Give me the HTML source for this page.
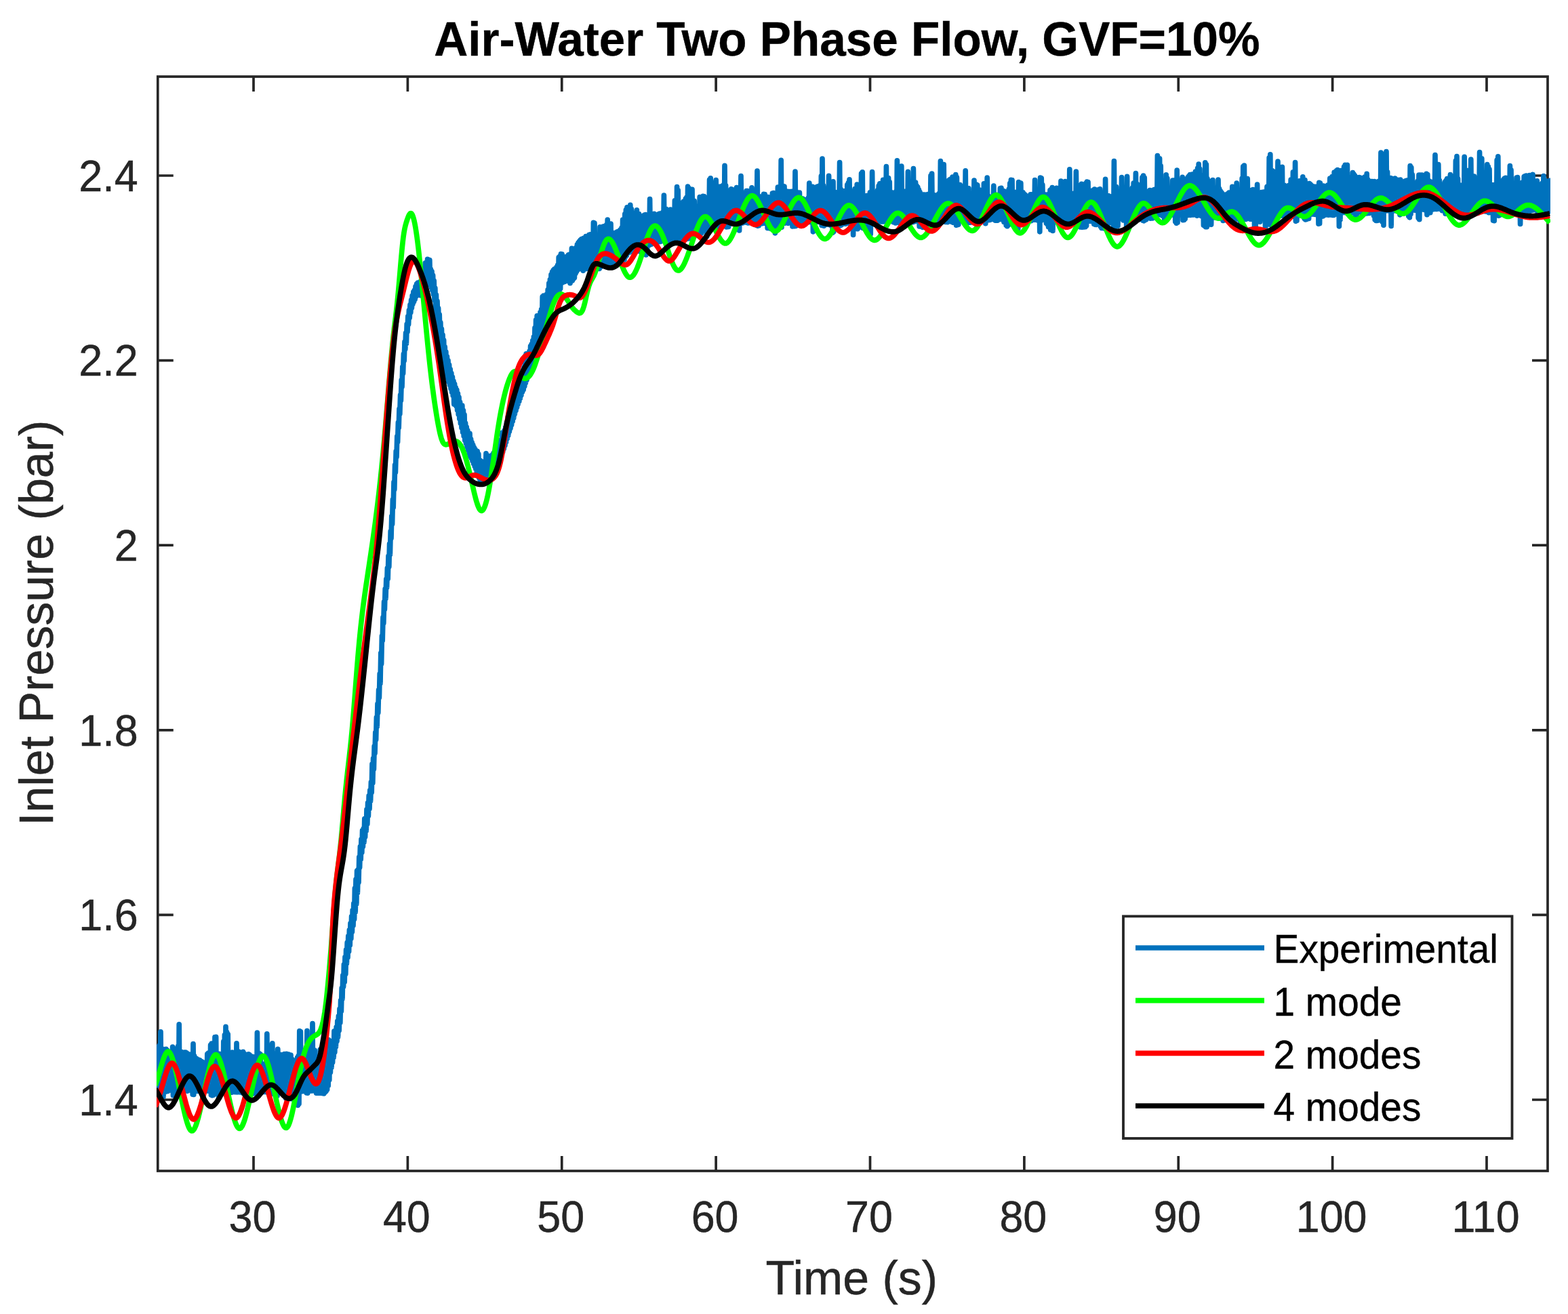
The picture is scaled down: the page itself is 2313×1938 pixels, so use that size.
<!DOCTYPE html>
<html><head><meta charset="utf-8"><title>Air-Water Two Phase Flow, GVF=10%</title>
<style>html,body{margin:0;padding:0;background:#fff;}svg{display:block;}text{font-family:"Liberation Sans",Arial,Helvetica,sans-serif;}.t{fill:#262626;stroke:#262626;stroke-width:0.5px;}.k{fill:#000;stroke:#000;stroke-width:0.4px;}</style>
</head><body>
<svg width="2313" height="1938" viewBox="0 0 2313 1938">
<rect width="2313" height="1938" fill="#fff"/>
<defs><clipPath id="ax"><rect x="231" y="109" width="2056" height="1622"/></clipPath></defs>
<rect x="232.75" y="113.00" width="2050.25" height="1614.00" fill="none" stroke="#262626" stroke-width="3.70"/>
<path d="M374.00 1727.00V1705.00M374.00 113.00V135.00M601.38 1727.00V1705.00M601.38 113.00V135.00M828.75 1727.00V1705.00M828.75 113.00V135.00M1056.12 1727.00V1705.00M1056.12 113.00V135.00M1283.50 1727.00V1705.00M1283.50 113.00V135.00M1510.88 1727.00V1705.00M1510.88 113.00V135.00M1738.25 1727.00V1705.00M1738.25 113.00V135.00M1965.62 1727.00V1705.00M1965.62 113.00V135.00M2193.00 1727.00V1705.00M2193.00 113.00V135.00M232.75 1622.00H255.75M2283.00 1622.00H2260.00M232.75 1349.40H255.75M2283.00 1349.40H2260.00M232.75 1076.80H255.75M2283.00 1076.80H2260.00M232.75 804.20H255.75M2283.00 804.20H2260.00M232.75 531.60H255.75M2283.00 531.60H2260.00M232.75 259.00H255.75M2283.00 259.00H2260.00" stroke="#262626" stroke-width="3.70" fill="none"/>
<g clip-path="url(#ax)">
<path d="M229.0 1565.6 L229.8 1610.2 L230.6 1565.0 L231.4 1610.0 L232.2 1564.1 L233.0 1609.7 L233.8 1543.8 L234.6 1617.7 L235.4 1541.5 L236.2 1617.3 L237.0 1521.9 L237.8 1617.6 L238.6 1559.7 L239.4 1615.7 L240.2 1558.7 L241.0 1617.4 L241.8 1547.6 L242.6 1610.0 L243.4 1551.2 L244.2 1610.1 L245.0 1547.4 L245.8 1609.8 L246.6 1549.1 L247.4 1609.5 L248.2 1563.4 L249.0 1607.8 L249.8 1565.8 L250.6 1607.9 L251.4 1568.5 L252.2 1607.7 L253.0 1558.3 L253.8 1607.0 L254.6 1544.1 L255.4 1615.6 L256.2 1567.5 L257.0 1613.7 L257.8 1565.9 L258.6 1615.5 L259.4 1567.0 L260.2 1614.4 L261.0 1546.4 L261.8 1614.1 L262.6 1543.2 L263.4 1613.9 L264.2 1510.9 L265.0 1615.2 L265.8 1551.0 L266.6 1615.5 L267.4 1551.3 L268.2 1614.9 L269.0 1560.0 L269.8 1607.3 L270.6 1554.7 L271.4 1608.3 L272.2 1552.0 L273.0 1608.4 L273.8 1552.2 L274.6 1608.1 L275.4 1553.2 L276.2 1609.1 L277.0 1556.8 L277.8 1608.0 L278.6 1554.9 L279.4 1607.9 L280.2 1556.2 L281.0 1608.0 L281.8 1555.3 L282.6 1608.0 L283.4 1555.7 L284.2 1614.1 L285.0 1539.6 L285.8 1614.5 L286.6 1557.3 L287.4 1608.1 L288.2 1560.4 L289.0 1609.5 L289.8 1561.3 L290.6 1609.2 L291.4 1562.5 L292.2 1609.2 L293.0 1563.1 L293.8 1607.3 L294.6 1563.6 L295.4 1608.9 L296.2 1565.0 L297.0 1608.6 L297.8 1565.8 L298.6 1608.7 L299.4 1566.8 L300.2 1609.0 L301.0 1570.2 L301.8 1608.6 L302.6 1571.7 L303.4 1608.6 L304.2 1571.7 L305.0 1608.9 L305.8 1554.5 L306.6 1609.0 L307.4 1553.2 L308.2 1609.1 L309.0 1566.2 L309.8 1609.0 L310.6 1541.3 L311.4 1614.9 L312.2 1539.2 L313.0 1615.6 L313.8 1551.9 L314.6 1615.2 L315.4 1555.2 L316.2 1613.7 L317.0 1529.6 L317.8 1608.1 L318.6 1529.3 L319.4 1608.4 L320.2 1562.7 L321.0 1608.3 L321.8 1561.6 L322.6 1619.1 L323.4 1554.4 L324.2 1609.0 L325.0 1555.6 L325.8 1609.0 L326.6 1556.6 L327.4 1609.4 L328.2 1556.9 L329.0 1609.0 L329.8 1536.1 L330.6 1608.6 L331.4 1526.6 L332.2 1608.5 L333.0 1514.4 L333.8 1608.3 L334.6 1522.4 L335.4 1609.7 L336.2 1525.3 L337.0 1611.3 L337.8 1567.4 L338.6 1611.4 L339.4 1569.0 L340.2 1611.1 L341.0 1570.0 L341.8 1611.2 L342.6 1552.0 L343.4 1609.5 L344.2 1561.3 L345.0 1609.5 L345.8 1559.8 L346.6 1610.6 L347.4 1558.6 L348.2 1610.4 L349.0 1538.9 L349.8 1610.8 L350.6 1554.5 L351.4 1610.6 L352.2 1551.0 L353.0 1610.1 L353.8 1552.2 L354.6 1610.9 L355.4 1553.5 L356.2 1611.2 L357.0 1553.0 L357.8 1611.9 L358.6 1551.4 L359.4 1608.4 L360.2 1553.8 L361.0 1608.2 L361.8 1562.1 L362.6 1608.5 L363.4 1562.9 L364.2 1606.9 L365.0 1561.9 L365.8 1606.9 L366.6 1554.9 L367.4 1607.0 L368.2 1555.9 L369.0 1607.0 L369.8 1557.9 L370.6 1607.6 L371.4 1558.2 L372.2 1607.6 L373.0 1558.5 L373.8 1613.0 L374.6 1559.7 L375.4 1611.5 L376.2 1560.0 L377.0 1612.5 L377.8 1567.1 L378.6 1611.6 L379.4 1523.1 L380.2 1613.9 L381.0 1561.8 L381.8 1614.0 L382.6 1553.9 L383.4 1606.7 L384.2 1555.1 L385.0 1606.7 L385.8 1570.0 L386.6 1606.6 L387.4 1569.8 L388.2 1609.5 L389.0 1569.3 L389.8 1610.5 L390.6 1569.0 L391.4 1610.3 L392.2 1568.1 L393.0 1610.1 L393.8 1524.9 L394.6 1611.1 L395.4 1566.1 L396.2 1610.1 L397.0 1565.5 L397.8 1609.9 L398.6 1543.8 L399.4 1609.8 L400.2 1541.4 L401.0 1612.4 L401.8 1538.8 L402.6 1613.3 L403.4 1564.7 L404.2 1613.1 L405.0 1564.3 L405.8 1612.1 L406.6 1563.4 L407.4 1614.8 L408.2 1553.3 L409.0 1616.2 L409.8 1547.3 L410.6 1607.6 L411.4 1557.1 L412.2 1608.0 L413.0 1557.7 L413.8 1607.8 L414.6 1555.7 L415.4 1607.8 L416.2 1556.7 L417.0 1613.2 L417.8 1555.5 L418.6 1613.5 L419.4 1554.6 L420.2 1613.2 L421.0 1555.9 L421.8 1619.9 L422.6 1554.3 L423.4 1620.2 L424.2 1555.5 L425.0 1609.4 L425.8 1555.1 L426.6 1609.0 L427.4 1555.9 L428.2 1608.9 L429.0 1556.0 L429.8 1620.6 L430.6 1562.0 L431.4 1619.4 L432.2 1563.9 L433.0 1618.1 L433.8 1565.7 L434.6 1606.3 L435.4 1566.0 L436.2 1606.3 L437.0 1565.5 L437.8 1606.3 L438.6 1559.9 L439.4 1630.1 L440.2 1557.0 L441.0 1628.0 L441.8 1520.7 L442.6 1609.4 L443.4 1521.5 L444.2 1609.3 L445.0 1553.0 L445.8 1609.7 L446.6 1552.3 L447.4 1609.1 L448.2 1550.2 L449.0 1608.8 L449.8 1549.1 L450.6 1608.6 L451.4 1552.0 L452.2 1612.0 L453.0 1520.4 L453.8 1612.2 L454.6 1554.6 L455.4 1606.9 L456.2 1553.9 L457.0 1608.9 L457.8 1548.1 L458.6 1609.0 L459.4 1552.8 L460.2 1609.0 L461.0 1509.6 L461.8 1608.7 L462.6 1551.2 L463.4 1608.7 L464.2 1549.0 L465.0 1608.7 L465.8 1558.1 L466.6 1612.2 L467.4 1558.5 L468.2 1612.2 L469.0 1558.7 L469.8 1607.0 L470.6 1558.3 L471.4 1612.2 L472.2 1548.0 L473.0 1611.7 L473.8 1549.9 L474.6 1612.2 L475.4 1551.7 L476.2 1612.6 L477.0 1553.1 L477.8 1612.9 L478.6 1522.9 L479.4 1610.9 L480.2 1528.8 L481.0 1609.5 L481.8 1547.2 L482.6 1607.0 L483.4 1550.9 L484.2 1601.3 L485.0 1533.8 L485.8 1592.8 L486.6 1535.3 L487.4 1581.6 L488.2 1550.3 L489.0 1574.4 L489.8 1545.3 L490.6 1566.8 L491.4 1538.9 L492.2 1559.5 L493.0 1520.9 L493.8 1552.0 L494.6 1522.9 L495.4 1544.0 L496.2 1514.9 L497.0 1535.6 L497.8 1506.1 L498.6 1529.5 L499.4 1498.6 L500.2 1519.8 L501.0 1488.0 L501.8 1508.5 L502.6 1475.7 L503.4 1491.3 L504.2 1457.4 L505.0 1473.2 L505.8 1438.7 L506.6 1455.3 L507.4 1422.6 L508.2 1448.5 L509.0 1411.7 L509.8 1436.7 L510.6 1400.8 L511.4 1420.9 L512.2 1390.2 L513.0 1412.1 L513.8 1380.6 L514.6 1403.3 L515.4 1371.5 L516.2 1394.1 L517.0 1361.8 L517.8 1384.4 L518.6 1351.6 L519.4 1374.3 L520.2 1342.7 L521.0 1365.1 L521.8 1332.6 L522.6 1355.8 L523.4 1310.1 L524.2 1345.2 L525.0 1296.9 L525.8 1333.2 L526.6 1284.3 L527.4 1316.9 L528.2 1282.7 L529.0 1301.5 L529.8 1264.0 L530.6 1279.5 L531.4 1248.5 L532.2 1267.3 L533.0 1237.8 L533.8 1257.4 L534.6 1224.9 L535.4 1248.6 L536.2 1222.2 L537.0 1242.2 L537.8 1207.6 L538.6 1234.3 L539.4 1206.8 L540.2 1225.4 L541.0 1193.9 L541.8 1215.3 L542.6 1184.1 L543.4 1203.3 L544.2 1173.7 L545.0 1192.8 L545.8 1165.7 L546.6 1181.4 L547.4 1153.6 L548.2 1168.6 L549.0 1126.9 L549.8 1154.9 L550.6 1118.5 L551.4 1134.3 L552.2 1100.7 L553.0 1110.9 L553.8 1080.3 L554.6 1091.0 L555.4 1058.2 L556.2 1071.7 L557.0 1038.0 L557.8 1051.1 L558.6 1017.7 L559.4 1028.9 L560.2 993.9 L561.0 1007.9 L561.8 963.0 L562.6 979.2 L563.4 938.1 L564.2 944.9 L565.0 910.5 L565.8 919.1 L566.6 887.5 L567.4 898.7 L568.2 868.5 L569.0 882.7 L569.8 854.0 L570.6 866.4 L571.4 837.9 L572.2 853.6 L573.0 820.2 L573.8 836.0 L574.6 802.2 L575.4 817.9 L576.2 783.6 L577.0 794.0 L577.8 761.4 L578.6 772.8 L579.4 736.8 L580.2 748.4 L581.0 711.1 L581.8 722.0 L582.6 685.8 L583.4 696.7 L584.2 665.6 L585.0 673.9 L585.8 643.6 L586.6 651.9 L587.4 623.2 L588.2 630.9 L589.0 603.0 L589.8 610.6 L590.6 582.6 L591.4 590.6 L592.2 560.6 L593.0 570.5 L593.8 541.1 L594.6 550.6 L595.4 522.0 L596.2 532.0 L597.0 504.2 L597.8 514.8 L598.6 491.1 L599.4 506.9 L600.2 478.0 L601.0 489.3 L601.8 466.7 L602.6 478.4 L603.4 457.7 L604.2 468.7 L605.0 449.5 L605.8 460.9 L606.6 442.7 L607.4 454.1 L608.2 436.0 L609.0 448.4 L609.8 430.7 L610.6 444.8 L611.4 428.0 L612.2 441.3 L613.0 422.7 L613.8 437.1 L614.6 418.9 L615.4 433.1 L616.2 417.2 L617.0 432.5 L617.8 417.6 L618.6 434.0 L619.4 415.8 L620.2 435.7 L621.0 418.7 L621.8 435.2 L622.6 414.6 L623.4 427.8 L624.2 405.0 L625.0 418.4 L625.8 395.3 L626.6 412.6 L627.4 387.9 L628.2 414.6 L629.0 388.7 L629.8 416.0 L630.6 382.3 L631.4 414.8 L632.2 391.7 L633.0 417.4 L633.8 383.5 L634.6 420.5 L635.4 397.0 L636.2 424.0 L637.0 400.3 L637.8 428.2 L638.6 406.0 L639.4 434.0 L640.2 414.0 L641.0 443.1 L641.8 424.9 L642.6 455.7 L643.4 434.9 L644.2 467.1 L645.0 444.1 L645.8 477.8 L646.6 454.6 L647.4 485.0 L648.2 463.8 L649.0 496.4 L649.8 475.6 L650.6 506.6 L651.4 485.2 L652.2 516.2 L653.0 493.9 L653.8 525.4 L654.6 501.5 L655.4 533.7 L656.2 511.5 L657.0 548.4 L657.8 518.8 L658.6 553.9 L659.4 525.8 L660.2 557.3 L661.0 531.7 L661.8 563.4 L662.6 538.0 L663.4 567.6 L664.2 544.6 L665.0 573.1 L665.8 550.3 L666.6 578.4 L667.4 556.0 L668.2 583.5 L669.0 562.1 L669.8 596.1 L670.6 566.4 L671.4 593.9 L672.2 571.7 L673.0 599.0 L673.8 575.2 L674.6 604.9 L675.4 580.4 L676.2 611.1 L677.0 585.8 L677.8 617.7 L678.6 593.1 L679.4 624.4 L680.2 599.7 L681.0 631.0 L681.8 598.0 L682.6 637.3 L683.4 605.3 L684.2 643.1 L685.0 611.6 L685.8 649.4 L686.6 624.2 L687.4 654.0 L688.2 629.9 L689.0 658.9 L689.8 634.9 L690.6 663.6 L691.4 639.7 L692.2 668.9 L693.0 639.4 L693.8 673.4 L694.6 647.6 L695.4 676.0 L696.2 652.6 L697.0 680.0 L697.8 656.3 L698.6 683.8 L699.4 660.2 L700.2 687.6 L701.0 662.5 L701.8 691.3 L702.6 666.2 L703.4 697.8 L704.2 665.5 L705.0 700.6 L705.8 669.6 L706.6 704.7 L707.4 678.6 L708.2 709.5 L709.0 679.7 L709.8 712.6 L710.6 681.4 L711.4 713.6 L712.2 681.0 L713.0 713.4 L713.8 683.7 L714.6 711.0 L715.4 682.6 L716.2 710.3 L717.0 668.9 L717.8 709.2 L718.6 680.0 L719.4 708.2 L720.2 674.2 L721.0 706.9 L721.8 672.6 L722.6 705.6 L723.4 673.7 L724.2 703.8 L725.0 673.1 L725.8 702.2 L726.6 670.5 L727.4 700.0 L728.2 668.2 L729.0 697.3 L729.8 666.6 L730.6 694.2 L731.4 660.6 L732.2 690.7 L733.0 649.3 L733.8 690.6 L734.6 653.0 L735.4 686.5 L736.2 656.2 L737.0 682.1 L737.8 652.5 L738.6 674.6 L739.4 648.5 L740.2 670.4 L741.0 638.0 L741.8 666.2 L742.6 639.7 L743.4 661.6 L744.2 634.9 L745.0 656.9 L745.8 630.2 L746.6 652.0 L747.4 622.9 L748.2 646.7 L749.0 615.6 L749.8 642.2 L750.6 615.3 L751.4 636.3 L752.2 610.3 L753.0 631.6 L753.8 605.3 L754.6 626.6 L755.4 598.2 L756.2 621.3 L757.0 593.2 L757.8 616.4 L758.6 589.1 L759.4 610.4 L760.2 584.1 L761.0 605.4 L761.8 578.9 L762.6 600.6 L763.4 571.2 L764.2 595.9 L765.0 568.8 L765.8 591.9 L766.6 563.7 L767.4 587.5 L768.2 558.5 L769.0 582.7 L769.8 551.1 L770.6 577.9 L771.4 546.0 L772.2 574.6 L773.0 541.9 L773.8 569.8 L774.6 525.4 L775.4 564.7 L776.2 521.8 L777.0 560.3 L777.8 526.7 L778.6 555.9 L779.4 521.7 L780.2 552.4 L781.0 518.0 L781.8 544.3 L782.6 510.6 L783.4 541.6 L784.2 507.6 L785.0 534.5 L785.8 502.3 L786.6 529.3 L787.4 496.8 L788.2 524.6 L789.0 483.6 L789.8 518.4 L790.6 471.8 L791.4 511.7 L792.2 465.8 L793.0 505.2 L793.8 469.4 L794.6 499.4 L795.4 465.3 L796.2 495.1 L797.0 460.6 L797.8 490.7 L798.6 456.3 L799.4 486.9 L800.2 437.7 L801.0 482.8 L801.8 436.0 L802.6 480.4 L803.4 440.1 L804.2 476.4 L805.0 439.5 L805.8 471.8 L806.6 433.8 L807.4 462.4 L808.2 427.3 L809.0 456.1 L809.8 417.8 L810.6 450.4 L811.4 412.3 L812.2 446.0 L813.0 405.1 L813.8 442.6 L814.6 401.1 L815.4 439.7 L816.2 398.5 L817.0 437.1 L817.8 396.9 L818.6 435.7 L819.4 397.6 L820.2 433.2 L821.0 394.2 L821.8 429.8 L822.6 391.1 L823.4 426.2 L824.2 379.5 L825.0 428.6 L825.8 378.2 L826.6 425.6 L827.4 374.7 L828.2 417.7 L829.0 374.8 L829.8 416.7 L830.6 379.4 L831.4 415.9 L832.2 379.0 L833.0 415.4 L833.8 379.1 L834.6 414.6 L835.4 378.7 L836.2 414.2 L837.0 378.2 L837.8 413.8 L838.6 375.8 L839.4 413.3 L840.2 375.3 L841.0 417.7 L841.8 374.5 L842.6 414.6 L843.4 366.3 L844.2 414.0 L845.0 373.1 L845.8 411.4 L846.6 370.7 L847.4 409.8 L848.2 368.3 L849.0 403.4 L849.8 365.4 L850.6 400.5 L851.4 360.8 L852.2 397.8 L853.0 358.2 L853.8 395.5 L854.6 356.1 L855.4 396.4 L856.2 354.0 L857.0 395.3 L857.8 352.5 L858.6 395.5 L859.4 352.8 L860.2 399.1 L861.0 351.3 L861.8 393.8 L862.6 350.9 L863.4 393.6 L864.2 348.6 L865.0 396.4 L865.8 350.1 L866.6 393.3 L867.4 351.0 L868.2 393.1 L869.0 346.4 L869.8 393.2 L870.6 345.9 L871.4 392.9 L872.2 349.2 L873.0 398.9 L873.8 354.3 L874.6 400.4 L875.4 328.3 L876.2 394.5 L877.0 329.2 L877.8 394.4 L878.6 345.9 L879.4 394.4 L880.2 354.8 L881.0 391.3 L881.8 354.2 L882.6 391.0 L883.4 354.4 L884.2 396.3 L885.0 334.8 L885.8 393.2 L886.6 353.3 L887.4 392.9 L888.2 336.1 L889.0 392.1 L889.8 334.2 L890.6 389.6 L891.4 333.7 L892.2 389.3 L893.0 333.4 L893.8 389.5 L894.6 331.5 L895.4 389.1 L896.2 324.2 L897.0 388.5 L897.8 343.5 L898.6 388.9 L899.4 339.8 L900.2 388.6 L901.0 330.0 L901.8 388.0 L902.6 344.0 L903.4 385.1 L904.2 344.1 L905.0 384.4 L905.8 344.7 L906.6 383.9 L907.4 343.3 L908.2 388.8 L909.0 342.8 L909.8 387.7 L910.6 341.9 L911.4 387.0 L912.2 342.2 L913.0 386.7 L913.8 340.4 L914.6 382.1 L915.4 338.5 L916.2 380.7 L917.0 336.0 L917.8 379.8 L918.6 324.0 L919.4 378.6 L920.2 324.7 L921.0 383.2 L921.8 315.5 L922.6 378.6 L923.4 309.5 L924.2 376.9 L925.0 305.9 L925.8 373.4 L926.6 321.9 L927.4 372.6 L928.2 318.6 L929.0 371.9 L929.8 302.4 L930.6 370.9 L931.4 308.4 L932.2 370.1 L933.0 313.8 L933.8 369.2 L934.6 327.3 L935.4 372.8 L936.2 326.7 L937.0 372.1 L937.8 325.8 L938.6 371.0 L939.4 309.9 L940.2 368.4 L941.0 315.0 L941.8 367.7 L942.6 315.7 L943.4 367.1 L944.2 324.3 L945.0 371.8 L945.8 320.1 L946.6 363.6 L947.4 319.8 L948.2 374.0 L949.0 318.3 L949.8 371.9 L950.6 317.2 L951.4 371.6 L952.2 316.5 L953.0 375.9 L953.8 320.4 L954.6 373.3 L955.4 322.7 L956.2 361.8 L957.0 322.1 L957.8 361.4 L958.6 293.7 L959.4 360.8 L960.2 319.3 L961.0 360.2 L961.8 318.8 L962.6 358.9 L963.4 318.5 L964.2 358.5 L965.0 315.4 L965.8 357.9 L966.6 318.8 L967.4 357.4 L968.2 319.7 L969.0 356.9 L969.8 316.6 L970.6 355.6 L971.4 315.9 L972.2 356.6 L973.0 315.0 L973.8 356.3 L974.6 316.0 L975.4 356.0 L976.2 314.7 L977.0 354.2 L977.8 313.1 L978.6 353.9 L979.4 288.0 L980.2 353.5 L981.0 311.4 L981.8 353.2 L982.6 308.3 L983.4 357.4 L984.2 310.8 L985.0 357.1 L985.8 310.5 L986.6 357.9 L987.4 311.3 L988.2 351.7 L989.0 309.0 L989.8 351.3 L990.6 309.6 L991.4 351.3 L992.2 310.9 L993.0 357.0 L993.8 310.3 L994.6 355.9 L995.4 295.9 L996.2 355.4 L997.0 305.3 L997.8 355.6 L998.6 275.6 L999.4 358.4 L1000.2 280.7 L1001.0 356.8 L1001.8 304.5 L1002.6 357.7 L1003.4 303.0 L1004.2 358.7 L1005.0 302.3 L1005.8 357.8 L1006.6 298.9 L1007.4 352.5 L1008.2 297.3 L1009.0 352.3 L1009.8 296.6 L1010.6 352.5 L1011.4 293.2 L1012.2 352.7 L1013.0 290.8 L1013.8 351.7 L1014.6 275.1 L1015.4 351.9 L1016.2 277.7 L1017.0 346.8 L1017.8 295.1 L1018.6 346.5 L1019.4 296.2 L1020.2 348.4 L1021.0 279.3 L1021.8 348.0 L1022.6 296.4 L1023.4 348.1 L1024.2 296.3 L1025.0 347.2 L1025.8 303.5 L1026.6 343.7 L1027.4 310.6 L1028.2 343.2 L1029.0 310.5 L1029.8 342.7 L1030.6 309.9 L1031.4 345.3 L1032.2 290.6 L1033.0 345.4 L1033.8 302.8 L1034.6 344.3 L1035.4 301.6 L1036.2 340.2 L1037.0 289.3 L1037.8 339.7 L1038.6 289.6 L1039.4 339.2 L1040.2 291.3 L1041.0 338.7 L1041.8 303.7 L1042.6 349.0 L1043.4 306.7 L1044.2 337.7 L1045.0 305.0 L1045.8 337.2 L1046.6 265.0 L1047.4 336.7 L1048.2 262.9 L1049.0 336.7 L1049.8 269.1 L1050.6 336.2 L1051.4 285.9 L1052.2 335.7 L1053.0 283.4 L1053.8 335.2 L1054.6 284.6 L1055.4 334.9 L1056.2 265.6 L1057.0 334.4 L1057.8 281.1 L1058.6 334.1 L1059.4 279.7 L1060.2 333.6 L1061.0 275.3 L1061.8 333.2 L1062.6 275.3 L1063.4 332.8 L1064.2 275.5 L1065.0 332.5 L1065.8 274.0 L1066.6 332.1 L1067.4 272.7 L1068.2 331.8 L1069.0 244.3 L1069.8 331.4 L1070.6 273.5 L1071.4 334.8 L1072.2 284.2 L1073.0 334.7 L1073.8 283.7 L1074.6 334.5 L1075.4 281.2 L1076.2 329.8 L1077.0 280.9 L1077.8 329.6 L1078.6 278.8 L1079.4 329.5 L1080.2 281.4 L1081.0 329.2 L1081.8 280.0 L1082.6 329.1 L1083.4 281.1 L1084.2 328.9 L1085.0 284.4 L1085.8 328.8 L1086.6 276.5 L1087.4 330.4 L1088.2 277.4 L1089.0 330.5 L1089.8 279.9 L1090.6 340.0 L1091.4 280.2 L1092.2 329.0 L1093.0 259.6 L1093.8 328.9 L1094.6 292.5 L1095.4 328.9 L1096.2 291.4 L1097.0 328.1 L1097.8 286.9 L1098.6 328.0 L1099.4 286.4 L1100.2 327.8 L1101.0 281.6 L1101.8 327.8 L1102.6 281.7 L1103.4 328.9 L1104.2 284.2 L1105.0 328.7 L1105.8 286.3 L1106.6 327.8 L1107.4 287.2 L1108.2 327.7 L1109.0 276.9 L1109.8 327.8 L1110.6 286.0 L1111.4 327.7 L1112.2 286.7 L1113.0 327.8 L1113.8 290.9 L1114.6 329.2 L1115.4 291.6 L1116.2 332.4 L1117.0 252.2 L1117.8 333.2 L1118.6 296.0 L1119.4 332.6 L1120.2 291.4 L1121.0 329.5 L1121.8 290.0 L1122.6 329.3 L1123.4 291.9 L1124.2 329.6 L1125.0 291.7 L1125.8 329.1 L1126.6 286.4 L1127.4 329.1 L1128.2 286.5 L1129.0 328.5 L1129.8 294.1 L1130.6 328.9 L1131.4 294.0 L1132.2 336.5 L1133.0 290.7 L1133.8 336.4 L1134.6 291.0 L1135.4 336.8 L1136.2 293.0 L1137.0 327.8 L1137.8 292.9 L1138.6 327.6 L1139.4 285.1 L1140.2 327.9 L1141.0 284.5 L1141.8 338.6 L1142.6 294.6 L1143.4 343.8 L1144.2 293.1 L1145.0 341.0 L1145.8 291.2 L1146.6 327.6 L1147.4 276.0 L1148.2 331.0 L1149.0 284.9 L1149.8 331.7 L1150.6 282.9 L1151.4 334.8 L1152.2 236.3 L1153.0 335.1 L1153.8 280.2 L1154.6 329.3 L1155.4 274.6 L1156.2 329.0 L1157.0 275.0 L1157.8 329.2 L1158.6 283.8 L1159.4 327.7 L1160.2 285.8 L1161.0 327.7 L1161.8 282.4 L1162.6 329.3 L1163.4 282.5 L1164.2 325.6 L1165.0 282.7 L1165.8 325.6 L1166.6 283.4 L1167.4 325.6 L1168.2 282.4 L1169.0 333.9 L1169.8 284.3 L1170.6 332.6 L1171.4 284.9 L1172.2 333.7 L1173.0 253.0 L1173.8 333.5 L1174.6 282.7 L1175.4 325.4 L1176.2 284.6 L1177.0 325.4 L1177.8 286.1 L1178.6 325.4 L1179.4 284.2 L1180.2 326.9 L1181.0 292.1 L1181.8 326.9 L1182.6 293.3 L1183.4 326.9 L1184.2 293.0 L1185.0 326.9 L1185.8 295.5 L1186.6 328.5 L1187.4 294.9 L1188.2 328.4 L1189.0 294.8 L1189.8 327.9 L1190.6 294.5 L1191.4 327.7 L1192.2 292.0 L1193.0 327.4 L1193.8 270.0 L1194.6 327.3 L1195.4 279.1 L1196.2 326.8 L1197.0 277.5 L1197.8 327.0 L1198.6 275.4 L1199.4 341.8 L1200.2 280.3 L1201.0 326.8 L1201.8 279.4 L1202.6 327.0 L1203.4 276.5 L1204.2 327.2 L1205.0 275.6 L1205.8 327.3 L1206.6 274.9 L1207.4 327.2 L1208.2 274.5 L1209.0 325.6 L1209.8 273.3 L1210.6 325.7 L1211.4 259.7 L1212.2 332.4 L1213.0 234.0 L1213.8 332.6 L1214.6 273.7 L1215.4 333.1 L1216.2 277.8 L1217.0 331.4 L1217.8 280.8 L1218.6 331.1 L1219.4 284.2 L1220.2 330.9 L1221.0 285.5 L1221.8 330.3 L1222.6 259.3 L1223.4 330.2 L1224.2 274.2 L1225.0 332.2 L1225.8 270.1 L1226.6 332.5 L1227.4 272.7 L1228.2 343.2 L1229.0 267.9 L1229.8 341.6 L1230.6 284.3 L1231.4 330.1 L1232.2 283.7 L1233.0 330.6 L1233.8 285.4 L1234.6 326.4 L1235.4 284.6 L1236.2 326.3 L1237.0 286.0 L1237.8 326.2 L1238.6 239.5 L1239.4 332.6 L1240.2 279.2 L1241.0 331.9 L1241.8 282.4 L1242.6 329.7 L1243.4 294.1 L1244.2 329.0 L1245.0 281.9 L1245.8 329.9 L1246.6 281.9 L1247.4 330.1 L1248.2 281.7 L1249.0 329.3 L1249.8 272.7 L1250.6 329.1 L1251.4 269.7 L1252.2 325.8 L1253.0 264.9 L1253.8 325.8 L1254.6 286.4 L1255.4 325.9 L1256.2 283.7 L1257.0 325.9 L1257.8 282.8 L1258.6 346.5 L1259.4 283.2 L1260.2 327.6 L1261.0 278.7 L1261.8 328.0 L1262.6 280.7 L1263.4 327.8 L1264.2 272.1 L1265.0 337.7 L1265.8 292.0 L1266.6 335.8 L1267.4 294.1 L1268.2 326.0 L1269.0 294.5 L1269.8 326.1 L1270.6 255.8 L1271.4 326.1 L1272.2 253.8 L1273.0 336.5 L1273.8 290.6 L1274.6 326.5 L1275.4 294.2 L1276.2 326.5 L1277.0 289.8 L1277.8 326.6 L1278.6 288.6 L1279.4 326.5 L1280.2 293.9 L1281.0 340.1 L1281.8 295.3 L1282.6 341.7 L1283.4 283.9 L1284.2 345.3 L1285.0 283.5 L1285.8 328.6 L1286.6 253.7 L1287.4 328.6 L1288.2 286.2 L1289.0 329.0 L1289.8 295.5 L1290.6 328.9 L1291.4 296.0 L1292.2 326.2 L1293.0 295.5 L1293.8 326.2 L1294.6 280.6 L1295.4 326.3 L1296.2 274.0 L1297.0 326.2 L1297.8 270.8 L1298.6 327.0 L1299.4 272.9 L1300.2 327.0 L1301.0 285.3 L1301.8 326.9 L1302.6 265.4 L1303.4 327.0 L1304.2 265.4 L1305.0 326.6 L1305.8 271.2 L1306.6 326.5 L1307.4 245.7 L1308.2 326.5 L1309.0 270.1 L1309.8 326.2 L1310.6 262.5 L1311.4 326.2 L1312.2 268.4 L1313.0 326.0 L1313.8 283.2 L1314.6 326.0 L1315.4 283.9 L1316.2 326.0 L1317.0 285.6 L1317.8 327.7 L1318.6 286.4 L1319.4 327.8 L1320.2 286.4 L1321.0 328.9 L1321.8 282.3 L1322.6 328.5 L1323.4 236.8 L1324.2 328.3 L1325.0 287.1 L1325.8 326.6 L1326.6 288.3 L1327.4 326.5 L1328.2 257.5 L1329.0 329.5 L1329.8 245.1 L1330.6 327.4 L1331.4 288.2 L1332.2 327.3 L1333.0 287.3 L1333.8 331.9 L1334.6 283.4 L1335.4 331.2 L1336.2 282.0 L1337.0 327.5 L1337.8 282.6 L1338.6 327.3 L1339.4 253.4 L1340.2 325.8 L1341.0 275.6 L1341.8 325.8 L1342.6 275.0 L1343.4 328.1 L1344.2 276.4 L1345.0 327.7 L1345.8 269.1 L1346.6 327.6 L1347.4 248.7 L1348.2 326.6 L1349.0 268.8 L1349.8 326.7 L1350.6 269.2 L1351.4 325.6 L1352.2 274.2 L1353.0 325.7 L1353.8 276.0 L1354.6 326.5 L1355.4 279.8 L1356.2 334.0 L1357.0 283.3 L1357.8 326.2 L1358.6 290.6 L1359.4 326.0 L1360.2 293.9 L1361.0 335.3 L1361.8 287.2 L1362.6 333.2 L1363.4 287.2 L1364.2 334.8 L1365.0 292.1 L1365.8 334.8 L1366.6 287.0 L1367.4 325.6 L1368.2 287.2 L1369.0 325.6 L1369.8 286.3 L1370.6 327.3 L1371.4 286.9 L1372.2 327.5 L1373.0 259.2 L1373.8 327.0 L1374.6 256.1 L1375.4 326.9 L1376.2 287.6 L1377.0 333.1 L1377.8 287.6 L1378.6 332.3 L1379.4 288.8 L1380.2 332.0 L1381.0 288.8 L1381.8 332.3 L1382.6 289.2 L1383.4 325.3 L1384.2 286.6 L1385.0 325.1 L1385.8 284.9 L1386.6 324.4 L1387.4 237.7 L1388.2 324.3 L1389.0 279.5 L1389.8 324.4 L1390.6 279.2 L1391.4 324.4 L1392.2 242.6 L1393.0 327.0 L1393.8 280.8 L1394.6 327.4 L1395.4 278.8 L1396.2 327.3 L1397.0 273.6 L1397.8 327.6 L1398.6 266.9 L1399.4 324.0 L1400.2 265.5 L1401.0 324.0 L1401.8 264.4 L1402.6 323.9 L1403.4 270.8 L1404.2 327.5 L1405.0 261.0 L1405.8 328.1 L1406.6 278.7 L1407.4 328.0 L1408.2 278.1 L1409.0 327.5 L1409.8 257.6 L1410.6 332.1 L1411.4 261.7 L1412.2 331.7 L1413.0 272.4 L1413.8 331.3 L1414.6 272.5 L1415.4 325.6 L1416.2 272.7 L1417.0 324.7 L1417.8 274.6 L1418.6 323.4 L1419.4 287.0 L1420.2 323.3 L1421.0 289.6 L1421.8 325.0 L1422.6 289.3 L1423.4 325.1 L1424.2 251.8 L1425.0 325.4 L1425.8 281.4 L1426.6 325.3 L1427.4 278.6 L1428.2 328.6 L1429.0 277.8 L1429.8 328.1 L1430.6 291.7 L1431.4 328.2 L1432.2 291.7 L1433.0 326.7 L1433.8 286.9 L1434.6 325.7 L1435.4 286.8 L1436.2 326.0 L1437.0 266.0 L1437.8 324.5 L1438.6 275.6 L1439.4 324.8 L1440.2 272.2 L1441.0 324.6 L1441.8 273.2 L1442.6 324.6 L1443.4 280.1 L1444.2 324.5 L1445.0 280.0 L1445.8 324.5 L1446.6 289.3 L1447.4 323.0 L1448.2 287.4 L1449.0 324.6 L1449.8 285.2 L1450.6 324.6 L1451.4 270.9 L1452.2 324.9 L1453.0 286.8 L1453.8 329.7 L1454.6 287.2 L1455.4 324.4 L1456.2 262.2 L1457.0 324.6 L1457.8 288.8 L1458.6 324.6 L1459.4 290.0 L1460.2 324.3 L1461.0 290.7 L1461.8 323.3 L1462.6 290.9 L1463.4 323.3 L1464.2 291.3 L1465.0 323.3 L1465.8 274.2 L1466.6 323.3 L1467.4 289.3 L1468.2 325.1 L1469.0 288.7 L1469.8 325.1 L1470.6 287.7 L1471.4 325.1 L1472.2 288.4 L1473.0 323.3 L1473.8 287.1 L1474.6 323.3 L1475.4 277.9 L1476.2 323.3 L1477.0 277.4 L1477.8 323.3 L1478.6 281.0 L1479.4 323.2 L1480.2 281.5 L1481.0 327.5 L1481.8 282.4 L1482.6 327.2 L1483.4 286.6 L1484.2 332.3 L1485.0 286.8 L1485.8 333.7 L1486.6 284.6 L1487.4 332.0 L1488.2 279.2 L1489.0 326.1 L1489.8 270.4 L1490.6 326.4 L1491.4 265.3 L1492.2 325.4 L1493.0 265.5 L1493.8 330.6 L1494.6 284.7 L1495.4 325.5 L1496.2 283.8 L1497.0 325.5 L1497.8 283.5 L1498.6 325.6 L1499.4 284.3 L1500.2 337.8 L1501.0 283.9 L1501.8 337.5 L1502.6 268.7 L1503.4 327.4 L1504.2 270.5 L1505.0 328.2 L1505.8 270.0 L1506.6 327.9 L1507.4 284.3 L1508.2 324.6 L1509.0 283.8 L1509.8 324.4 L1510.6 286.2 L1511.4 324.4 L1512.2 287.3 L1513.0 324.4 L1513.8 288.9 L1514.6 326.2 L1515.4 291.4 L1516.2 325.9 L1517.0 291.5 L1517.8 325.7 L1518.6 291.7 L1519.4 325.7 L1520.2 286.9 L1521.0 325.6 L1521.8 286.9 L1522.6 324.7 L1523.4 286.6 L1524.2 324.0 L1525.0 290.9 L1525.8 324.1 L1526.6 265.6 L1527.4 324.1 L1528.2 292.9 L1529.0 324.1 L1529.8 292.3 L1530.6 324.9 L1531.4 294.5 L1532.2 324.7 L1533.0 291.5 L1533.8 341.8 L1534.6 262.1 L1535.4 325.8 L1536.2 262.8 L1537.0 324.0 L1537.8 272.5 L1538.6 324.0 L1539.4 288.6 L1540.2 324.0 L1541.0 288.7 L1541.8 324.0 L1542.6 287.2 L1543.4 329.3 L1544.2 287.2 L1545.0 330.7 L1545.8 286.9 L1546.6 334.6 L1547.4 293.3 L1548.2 333.9 L1549.0 280.6 L1549.8 338.9 L1550.6 279.3 L1551.4 338.9 L1552.2 276.7 L1553.0 340.4 L1553.8 285.5 L1554.6 324.8 L1555.4 282.7 L1556.2 324.3 L1557.0 279.9 L1557.8 324.3 L1558.6 277.4 L1559.4 324.3 L1560.2 282.3 L1561.0 324.4 L1561.8 283.2 L1562.6 324.4 L1563.4 285.0 L1564.2 332.3 L1565.0 267.0 L1565.8 332.9 L1566.6 271.7 L1567.4 332.8 L1568.2 287.2 L1569.0 325.4 L1569.8 287.2 L1570.6 325.3 L1571.4 267.7 L1572.2 325.5 L1573.0 283.4 L1573.8 325.5 L1574.6 283.7 L1575.4 334.4 L1576.2 281.6 L1577.0 328.5 L1577.8 249.9 L1578.6 330.7 L1579.4 285.3 L1580.2 329.9 L1581.0 286.2 L1581.8 330.8 L1582.6 285.7 L1583.4 326.1 L1584.2 285.9 L1585.0 325.8 L1585.8 287.5 L1586.6 325.9 L1587.4 253.0 L1588.2 325.9 L1589.0 285.2 L1589.8 324.2 L1590.6 284.8 L1591.4 324.2 L1592.2 283.4 L1593.0 334.8 L1593.8 273.3 L1594.6 334.8 L1595.4 271.4 L1596.2 335.1 L1597.0 272.7 L1597.8 334.8 L1598.6 281.5 L1599.4 334.8 L1600.2 281.8 L1601.0 334.6 L1601.8 270.3 L1602.6 333.0 L1603.4 268.1 L1604.2 326.2 L1605.0 268.6 L1605.8 326.3 L1606.6 281.1 L1607.4 326.2 L1608.2 281.4 L1609.0 326.0 L1609.8 283.7 L1610.6 326.5 L1611.4 286.8 L1612.2 326.5 L1613.0 280.4 L1613.8 330.4 L1614.6 279.0 L1615.4 331.2 L1616.2 285.2 L1617.0 331.5 L1617.8 285.6 L1618.6 330.8 L1619.4 280.0 L1620.2 326.7 L1621.0 280.8 L1621.8 326.2 L1622.6 278.9 L1623.4 333.9 L1624.2 284.4 L1625.0 336.5 L1625.8 284.6 L1626.6 334.0 L1627.4 284.0 L1628.2 336.8 L1629.0 286.3 L1629.8 335.8 L1630.6 264.3 L1631.4 330.6 L1632.2 288.9 L1633.0 330.5 L1633.8 288.9 L1634.6 329.9 L1635.4 288.8 L1636.2 328.9 L1637.0 293.4 L1637.8 323.5 L1638.6 293.5 L1639.4 323.4 L1640.2 291.5 L1641.0 323.3 L1641.8 288.8 L1642.6 340.5 L1643.4 237.6 L1644.2 334.9 L1645.0 276.1 L1645.8 333.2 L1646.6 275.5 L1647.4 332.6 L1648.2 285.3 L1649.0 333.3 L1649.8 287.1 L1650.6 322.2 L1651.4 288.8 L1652.2 322.0 L1653.0 285.1 L1653.8 321.8 L1654.6 261.5 L1655.4 321.5 L1656.2 290.1 L1657.0 324.8 L1657.8 290.1 L1658.6 325.0 L1659.4 289.1 L1660.2 324.8 L1661.0 289.1 L1661.8 338.3 L1662.6 260.4 L1663.4 335.8 L1664.2 282.2 L1665.0 321.5 L1665.8 281.6 L1666.6 329.6 L1667.4 281.9 L1668.2 329.2 L1669.0 279.4 L1669.8 329.0 L1670.6 276.9 L1671.4 320.2 L1672.2 270.1 L1673.0 320.1 L1673.8 276.5 L1674.6 319.9 L1675.4 255.6 L1676.2 319.9 L1677.0 271.1 L1677.8 319.5 L1678.6 273.8 L1679.4 324.0 L1680.2 272.9 L1681.0 322.4 L1681.8 276.0 L1682.6 320.2 L1683.4 278.8 L1684.2 320.1 L1685.0 261.5 L1685.8 325.1 L1686.6 259.1 L1687.4 325.8 L1688.2 262.0 L1689.0 324.7 L1689.8 283.1 L1690.6 324.0 L1691.4 283.6 L1692.2 319.6 L1693.0 283.6 L1693.8 319.5 L1694.6 282.4 L1695.4 319.3 L1696.2 280.7 L1697.0 322.2 L1697.8 280.9 L1698.6 321.7 L1699.4 281.2 L1700.2 321.8 L1701.0 281.2 L1701.8 321.0 L1702.6 279.7 L1703.4 316.0 L1704.2 281.7 L1705.0 316.0 L1705.8 280.3 L1706.6 316.5 L1707.4 229.5 L1708.2 316.5 L1709.0 251.3 L1709.8 316.6 L1710.6 233.9 L1711.4 316.6 L1712.2 244.5 L1713.0 316.2 L1713.8 282.5 L1714.6 318.1 L1715.4 284.4 L1716.2 318.3 L1717.0 284.2 L1717.8 324.7 L1718.6 284.3 L1719.4 318.9 L1720.2 257.8 L1721.0 318.4 L1721.8 263.1 L1722.6 317.0 L1723.4 285.6 L1724.2 317.0 L1725.0 284.0 L1725.8 316.9 L1726.6 284.1 L1727.4 317.1 L1728.2 283.1 L1729.0 316.5 L1729.8 266.0 L1730.6 316.5 L1731.4 266.1 L1732.2 316.4 L1733.0 283.0 L1733.8 326.9 L1734.6 280.2 L1735.4 329.2 L1736.2 251.1 L1737.0 328.2 L1737.8 273.4 L1738.6 316.6 L1739.4 272.9 L1740.2 316.7 L1741.0 273.8 L1741.8 316.6 L1742.6 265.4 L1743.4 316.6 L1744.2 261.4 L1745.0 324.7 L1745.8 275.4 L1746.6 324.5 L1747.4 264.3 L1748.2 322.8 L1749.0 271.7 L1749.8 316.4 L1750.6 266.4 L1751.4 316.4 L1752.2 261.7 L1753.0 317.5 L1753.8 259.5 L1754.6 317.2 L1755.4 257.7 L1756.2 317.3 L1757.0 260.0 L1757.8 316.8 L1758.6 257.2 L1759.4 316.9 L1760.2 260.7 L1761.0 316.8 L1761.8 258.0 L1762.6 316.6 L1763.4 253.0 L1764.2 316.6 L1765.0 255.4 L1765.8 318.2 L1766.6 248.1 L1767.4 316.9 L1768.2 242.0 L1769.0 317.1 L1769.8 249.0 L1770.6 317.3 L1771.4 271.8 L1772.2 318.6 L1773.0 268.4 L1773.8 319.0 L1774.6 258.8 L1775.4 332.3 L1776.2 268.7 L1777.0 333.1 L1777.8 239.9 L1778.6 334.7 L1779.4 242.6 L1780.2 334.7 L1781.0 263.7 L1781.8 330.7 L1782.6 266.5 L1783.4 330.6 L1784.2 284.8 L1785.0 330.9 L1785.8 285.7 L1786.6 331.2 L1787.4 286.0 L1788.2 320.1 L1789.0 265.7 L1789.8 320.3 L1790.6 287.9 L1791.4 320.6 L1792.2 285.2 L1793.0 320.7 L1793.8 280.9 L1794.6 321.1 L1795.4 278.6 L1796.2 321.2 L1797.0 265.1 L1797.8 321.9 L1798.6 278.3 L1799.4 322.0 L1800.2 281.5 L1801.0 321.9 L1801.8 283.8 L1802.6 322.0 L1803.4 285.8 L1804.2 325.5 L1805.0 287.8 L1805.8 325.0 L1806.6 288.5 L1807.4 321.7 L1808.2 288.6 L1809.0 321.7 L1809.8 286.5 L1810.6 321.8 L1811.4 285.5 L1812.2 321.8 L1813.0 284.2 L1813.8 324.2 L1814.6 284.6 L1815.4 324.0 L1816.2 284.6 L1817.0 325.0 L1817.8 275.4 L1818.6 325.5 L1819.4 276.5 L1820.2 321.1 L1821.0 284.3 L1821.8 321.1 L1822.6 284.8 L1823.4 321.1 L1824.2 270.0 L1825.0 323.2 L1825.8 279.8 L1826.6 323.3 L1827.4 288.6 L1828.2 323.2 L1829.0 286.1 L1829.8 330.0 L1830.6 286.6 L1831.4 329.8 L1832.2 263.1 L1833.0 322.2 L1833.8 245.6 L1834.6 323.4 L1835.4 244.1 L1836.2 323.5 L1837.0 271.0 L1837.8 323.5 L1838.6 269.9 L1839.4 322.1 L1840.2 263.6 L1841.0 322.1 L1841.8 280.0 L1842.6 322.3 L1843.4 283.0 L1844.2 323.1 L1845.0 280.8 L1845.8 323.0 L1846.6 282.0 L1847.4 323.1 L1848.2 279.6 L1849.0 321.4 L1849.8 282.0 L1850.6 338.7 L1851.4 285.8 L1852.2 335.5 L1853.0 286.3 L1853.8 322.5 L1854.6 272.2 L1855.4 322.8 L1856.2 284.3 L1857.0 326.6 L1857.8 284.1 L1858.6 327.1 L1859.4 284.1 L1860.2 321.3 L1861.0 283.5 L1861.8 321.1 L1862.6 283.6 L1863.4 321.7 L1864.2 283.2 L1865.0 321.4 L1865.8 285.7 L1866.6 342.4 L1867.4 284.2 L1868.2 324.2 L1869.0 275.4 L1869.8 324.1 L1870.6 274.3 L1871.4 323.2 L1872.2 232.5 L1873.0 331.1 L1873.8 227.9 L1874.6 330.6 L1875.4 252.7 L1876.2 329.9 L1877.0 251.9 L1877.8 324.0 L1878.6 253.1 L1879.4 324.0 L1880.2 275.5 L1881.0 323.5 L1881.8 275.5 L1882.6 318.7 L1883.4 275.9 L1884.2 318.6 L1885.0 238.2 L1885.8 318.9 L1886.6 274.6 L1887.4 318.4 L1888.2 270.1 L1889.0 318.3 L1889.8 271.3 L1890.6 317.9 L1891.4 246.4 L1892.2 318.0 L1893.0 273.8 L1893.8 318.6 L1894.6 273.4 L1895.4 318.6 L1896.2 275.4 L1897.0 318.5 L1897.8 275.2 L1898.6 316.4 L1899.4 274.7 L1900.2 316.3 L1901.0 273.7 L1901.8 316.2 L1902.6 272.8 L1903.4 319.5 L1904.2 265.2 L1905.0 319.3 L1905.8 274.0 L1906.6 319.2 L1907.4 253.9 L1908.2 318.9 L1909.0 258.7 L1909.8 319.6 L1910.6 239.5 L1911.4 326.3 L1912.2 272.8 L1913.0 325.5 L1913.8 271.9 L1914.6 315.9 L1915.4 269.6 L1916.2 315.8 L1917.0 266.9 L1917.8 315.7 L1918.6 269.9 L1919.4 315.7 L1920.2 269.1 L1921.0 316.3 L1921.8 260.9 L1922.6 316.6 L1923.4 266.8 L1924.2 322.5 L1925.0 265.7 L1925.8 324.0 L1926.6 271.6 L1927.4 323.4 L1928.2 272.0 L1929.0 321.5 L1929.8 272.6 L1930.6 322.5 L1931.4 270.6 L1932.2 315.9 L1933.0 271.8 L1933.8 316.1 L1934.6 273.7 L1935.4 316.0 L1936.2 275.5 L1937.0 315.9 L1937.8 275.0 L1938.6 316.2 L1939.4 275.9 L1940.2 316.3 L1941.0 275.3 L1941.8 316.3 L1942.6 275.3 L1943.4 316.5 L1944.2 275.2 L1945.0 330.1 L1945.8 269.4 L1946.6 329.7 L1947.4 270.0 L1948.2 318.8 L1949.0 274.0 L1949.8 319.3 L1950.6 274.1 L1951.4 318.9 L1952.2 274.2 L1953.0 317.2 L1953.8 279.0 L1954.6 317.1 L1955.4 275.8 L1956.2 316.7 L1957.0 275.7 L1957.8 316.3 L1958.6 273.1 L1959.4 317.2 L1960.2 273.7 L1961.0 316.7 L1961.8 263.0 L1962.6 317.0 L1963.4 264.5 L1964.2 316.5 L1965.0 260.6 L1965.8 317.5 L1966.6 270.4 L1967.4 317.4 L1968.2 254.0 L1969.0 315.5 L1969.8 261.8 L1970.6 315.8 L1971.4 251.8 L1972.2 315.7 L1973.0 250.6 L1973.8 315.4 L1974.6 253.9 L1975.4 333.8 L1976.2 254.8 L1977.0 323.9 L1977.8 251.6 L1978.6 313.1 L1979.4 253.1 L1980.2 313.1 L1981.0 259.6 L1981.8 313.5 L1982.6 246.0 L1983.4 313.4 L1984.2 243.3 L1985.0 313.1 L1985.8 247.2 L1986.6 313.1 L1987.4 243.3 L1988.2 315.4 L1989.0 262.5 L1989.8 315.1 L1990.6 261.7 L1991.4 315.5 L1992.2 263.7 L1993.0 313.8 L1993.8 264.1 L1994.6 313.7 L1995.4 254.6 L1996.2 313.8 L1997.0 256.9 L1997.8 313.4 L1998.6 259.0 L1999.4 322.0 L2000.2 261.3 L2001.0 322.7 L2001.8 263.2 L2002.6 313.1 L2003.4 263.8 L2004.2 312.9 L2005.0 261.5 L2005.8 312.7 L2006.6 262.0 L2007.4 313.3 L2008.2 263.1 L2009.0 313.1 L2009.8 265.4 L2010.6 312.2 L2011.4 264.6 L2012.2 312.0 L2013.0 261.1 L2013.8 314.5 L2014.6 263.3 L2015.4 314.8 L2016.2 256.4 L2017.0 314.7 L2017.8 265.2 L2018.6 314.5 L2019.4 267.1 L2020.2 314.5 L2021.0 267.9 L2021.8 312.0 L2022.6 267.6 L2023.4 312.0 L2024.2 267.5 L2025.0 311.8 L2025.8 268.6 L2026.6 318.1 L2027.4 267.7 L2028.2 324.0 L2029.0 268.3 L2029.8 325.5 L2030.6 268.9 L2031.4 325.5 L2032.2 269.6 L2033.0 321.7 L2033.8 267.3 L2034.6 324.2 L2035.4 267.9 L2036.2 325.0 L2037.0 225.0 L2037.8 323.8 L2038.6 266.7 L2039.4 327.4 L2040.2 265.6 L2041.0 332.2 L2041.8 227.3 L2042.6 310.1 L2043.4 232.2 L2044.2 309.9 L2045.0 223.6 L2045.8 310.7 L2046.6 253.6 L2047.4 310.7 L2048.2 266.1 L2049.0 310.6 L2049.8 266.6 L2050.6 310.4 L2051.4 262.6 L2052.2 333.4 L2053.0 263.3 L2053.8 311.1 L2054.6 266.5 L2055.4 310.9 L2056.2 266.5 L2057.0 310.6 L2057.8 263.0 L2058.6 310.7 L2059.4 266.2 L2060.2 311.3 L2061.0 265.1 L2061.8 310.6 L2062.6 266.6 L2063.4 310.5 L2064.2 267.1 L2065.0 316.8 L2065.8 265.2 L2066.6 308.1 L2067.4 272.1 L2068.2 309.3 L2069.0 272.5 L2069.8 309.2 L2070.6 272.5 L2071.4 308.1 L2072.2 267.3 L2073.0 308.2 L2073.8 266.7 L2074.6 308.1 L2075.4 266.2 L2076.2 308.0 L2077.0 267.1 L2077.8 318.7 L2078.6 267.1 L2079.4 320.8 L2080.2 244.7 L2081.0 315.7 L2081.8 247.1 L2082.6 308.7 L2083.4 257.7 L2084.2 308.6 L2085.0 271.3 L2085.8 309.8 L2086.6 271.2 L2087.4 310.2 L2088.2 271.0 L2089.0 310.4 L2089.8 269.3 L2090.6 309.8 L2091.4 267.0 L2092.2 321.4 L2093.0 258.2 L2093.8 323.6 L2094.6 258.3 L2095.4 308.4 L2096.2 258.0 L2097.0 308.6 L2097.8 258.0 L2098.6 308.2 L2099.4 259.9 L2100.2 309.2 L2101.0 261.5 L2101.8 309.6 L2102.6 261.2 L2103.4 309.3 L2104.2 256.4 L2105.0 316.7 L2105.8 257.3 L2106.6 313.1 L2107.4 266.3 L2108.2 312.4 L2109.0 267.6 L2109.8 313.6 L2110.6 271.8 L2111.4 309.6 L2112.2 268.6 L2113.0 308.6 L2113.8 268.5 L2114.6 308.7 L2115.4 268.5 L2116.2 308.2 L2117.0 228.5 L2117.8 308.3 L2118.6 270.8 L2119.4 308.4 L2120.2 271.0 L2121.0 308.0 L2121.8 242.6 L2122.6 308.0 L2123.4 266.1 L2124.2 308.1 L2125.0 272.6 L2125.8 308.1 L2126.6 272.3 L2127.4 310.6 L2128.2 272.1 L2129.0 310.6 L2129.8 272.0 L2130.6 310.9 L2131.4 268.6 L2132.2 315.1 L2133.0 266.3 L2133.8 314.7 L2134.6 263.7 L2135.4 315.5 L2136.2 264.1 L2137.0 314.8 L2137.8 265.8 L2138.6 314.5 L2139.4 257.7 L2140.2 315.1 L2141.0 259.7 L2141.8 315.4 L2142.6 261.2 L2143.4 311.2 L2144.2 260.9 L2145.0 311.4 L2145.8 262.8 L2146.6 311.2 L2147.4 237.2 L2148.2 311.3 L2149.0 230.6 L2149.8 309.9 L2150.6 263.5 L2151.4 309.9 L2152.2 273.6 L2153.0 310.0 L2153.8 273.3 L2154.6 310.1 L2155.4 273.4 L2156.2 318.1 L2157.0 274.8 L2157.8 317.3 L2158.6 274.4 L2159.4 317.3 L2160.2 231.4 L2161.0 310.0 L2161.8 256.0 L2162.6 310.2 L2163.4 256.9 L2164.2 310.2 L2165.0 251.5 L2165.8 310.4 L2166.6 252.6 L2167.4 310.4 L2168.2 252.5 L2169.0 310.4 L2169.8 235.0 L2170.6 311.5 L2171.4 262.4 L2172.2 311.6 L2173.0 262.6 L2173.8 311.7 L2174.6 260.0 L2175.4 314.4 L2176.2 265.7 L2177.0 314.1 L2177.8 265.6 L2178.6 314.2 L2179.4 268.7 L2180.2 314.3 L2181.0 271.0 L2181.8 311.8 L2182.6 224.7 L2183.4 311.8 L2184.2 235.5 L2185.0 311.1 L2185.8 233.8 L2186.6 311.1 L2187.4 273.7 L2188.2 311.4 L2189.0 273.3 L2189.8 311.4 L2190.6 271.6 L2191.4 312.0 L2192.2 270.3 L2193.0 312.0 L2193.8 242.5 L2194.6 312.1 L2195.4 245.8 L2196.2 313.7 L2197.0 249.7 L2197.8 313.4 L2198.6 273.6 L2199.4 311.2 L2200.2 275.5 L2201.0 311.3 L2201.8 272.8 L2202.6 325.1 L2203.4 272.8 L2204.2 325.7 L2205.0 272.8 L2205.8 316.0 L2206.6 273.8 L2207.4 315.2 L2208.2 236.1 L2209.0 315.6 L2209.8 230.8 L2210.6 318.1 L2211.4 273.4 L2212.2 317.5 L2213.0 273.3 L2213.8 312.9 L2214.6 273.8 L2215.4 312.8 L2216.2 273.6 L2217.0 312.5 L2217.8 264.9 L2218.6 312.7 L2219.4 263.1 L2220.2 312.6 L2221.0 262.3 L2221.8 312.6 L2222.6 267.9 L2223.4 312.6 L2224.2 266.9 L2225.0 312.7 L2225.8 267.8 L2226.6 314.0 L2227.4 244.6 L2228.2 314.5 L2229.0 250.7 L2229.8 312.0 L2230.6 272.1 L2231.4 311.8 L2232.2 273.0 L2233.0 313.6 L2233.8 274.1 L2234.6 313.3 L2235.4 273.3 L2236.2 311.2 L2237.0 262.2 L2237.8 311.2 L2238.6 261.7 L2239.4 311.3 L2240.2 274.1 L2241.0 311.1 L2241.8 272.2 L2242.6 330.4 L2243.4 271.8 L2244.2 317.2 L2245.0 269.7 L2245.8 313.5 L2246.6 268.5 L2247.4 313.2 L2248.2 260.7 L2249.0 309.9 L2249.8 259.7 L2250.6 309.6 L2251.4 259.1 L2252.2 309.6 L2253.0 262.3 L2253.8 317.5 L2254.6 263.6 L2255.4 316.5 L2256.2 258.6 L2257.0 310.0 L2257.8 259.3 L2258.6 309.9 L2259.4 260.4 L2260.2 310.1 L2261.0 257.3 L2261.8 310.0 L2262.6 272.5 L2263.4 308.5 L2264.2 273.2 L2265.0 308.4 L2265.8 267.2 L2266.6 308.2 L2267.4 266.9 L2268.2 314.2 L2269.0 272.3 L2269.8 318.3 L2270.6 272.2 L2271.4 308.3 L2272.2 272.8 L2273.0 310.3 L2273.8 272.5 L2274.6 310.2 L2275.4 269.8 L2276.2 308.1 L2277.0 259.5 L2277.8 308.0 L2278.6 266.5 L2279.4 315.5 L2280.2 266.5 L2281.0 315.7 L2281.8 270.8 L2282.6 312.1 L2283.4 272.1 L2284.2 306.9 L2285.0 267.1 L2285.8 306.8 L2286.6 266.4 L2287.4 311.6" fill="none" stroke="#0072BD" stroke-width="7.7" stroke-linejoin="round" stroke-linecap="round"/>
<path d="M229.0 1601.0 L230.0 1598.1 L231.0 1595.1 L232.0 1592.0 L233.0 1588.8 L234.0 1585.4 L235.0 1581.9 L236.0 1578.4 L237.0 1575.0 L238.0 1571.6 L239.0 1568.3 L240.0 1565.1 L241.0 1562.2 L242.0 1559.5 L243.0 1557.1 L244.0 1555.0 L245.0 1553.3 L246.0 1552.0 L247.0 1551.3 L248.0 1551.0 L249.0 1551.3 L250.0 1552.1 L251.0 1553.5 L252.0 1555.3 L253.0 1557.5 L254.0 1560.2 L255.0 1563.2 L256.0 1566.5 L257.0 1570.2 L258.0 1574.2 L259.0 1578.4 L260.0 1582.8 L261.0 1587.4 L262.0 1592.1 L263.0 1596.9 L264.0 1601.9 L265.0 1606.8 L266.0 1611.8 L267.0 1616.8 L268.0 1621.8 L269.0 1626.6 L270.0 1631.4 L271.0 1636.0 L272.0 1640.4 L273.0 1644.6 L274.0 1648.6 L275.0 1652.2 L276.0 1655.6 L277.0 1658.7 L278.0 1661.4 L279.0 1663.6 L280.0 1665.5 L281.0 1666.8 L282.0 1667.7 L283.0 1668.0 L284.0 1667.8 L285.0 1667.1 L286.0 1665.9 L287.0 1664.2 L288.0 1662.1 L289.0 1659.7 L290.0 1656.8 L291.0 1653.6 L292.0 1650.2 L293.0 1646.4 L294.0 1642.4 L295.0 1638.2 L296.0 1633.9 L297.0 1629.4 L298.0 1624.7 L299.0 1620.0 L300.0 1615.3 L301.0 1610.5 L302.0 1605.7 L303.0 1601.0 L304.0 1596.3 L305.0 1591.7 L306.0 1587.3 L307.0 1583.0 L308.0 1578.9 L309.0 1575.1 L310.0 1571.5 L311.0 1568.1 L312.0 1565.1 L313.0 1562.5 L314.0 1560.2 L315.0 1558.4 L316.0 1556.9 L317.0 1556.0 L318.0 1555.5 L319.0 1555.6 L320.0 1556.2 L321.0 1557.3 L322.0 1558.8 L323.0 1560.8 L324.0 1563.1 L325.0 1565.8 L326.0 1568.8 L327.0 1572.2 L328.0 1575.8 L329.0 1579.6 L330.0 1583.7 L331.0 1587.9 L332.0 1592.3 L333.0 1596.8 L334.0 1601.4 L335.0 1606.1 L336.0 1610.7 L337.0 1615.4 L338.0 1620.0 L339.0 1624.6 L340.0 1629.1 L341.0 1633.4 L342.0 1637.6 L343.0 1641.6 L344.0 1645.4 L345.0 1648.9 L346.0 1652.1 L347.0 1655.1 L348.0 1657.7 L349.0 1659.9 L350.0 1661.7 L351.0 1663.1 L352.0 1664.0 L353.0 1664.5 L354.0 1664.4 L355.0 1663.8 L356.0 1662.7 L357.0 1661.2 L358.0 1659.2 L359.0 1656.9 L360.0 1654.2 L361.0 1651.2 L362.0 1647.8 L363.0 1644.2 L364.0 1640.4 L365.0 1636.4 L366.0 1632.2 L367.0 1627.8 L368.0 1623.3 L369.0 1618.8 L370.0 1614.2 L371.0 1609.6 L372.0 1605.0 L373.0 1600.4 L374.0 1595.9 L375.0 1591.5 L376.0 1587.2 L377.0 1583.1 L378.0 1579.2 L379.0 1575.5 L380.0 1572.0 L381.0 1568.8 L382.0 1566.0 L383.0 1563.5 L384.0 1561.4 L385.0 1559.7 L386.0 1558.4 L387.0 1557.6 L388.0 1557.3 L389.0 1557.5 L390.0 1558.2 L391.0 1559.5 L392.0 1561.2 L393.0 1563.3 L394.0 1565.8 L395.0 1568.7 L396.0 1571.9 L397.0 1575.4 L398.0 1579.2 L399.0 1583.2 L400.0 1587.4 L401.0 1591.8 L402.0 1596.3 L403.0 1600.9 L404.0 1605.6 L405.0 1610.3 L406.0 1615.0 L407.0 1619.7 L408.0 1624.3 L409.0 1628.8 L410.0 1633.2 L411.0 1637.4 L412.0 1641.4 L413.0 1645.2 L414.0 1648.7 L415.0 1652.0 L416.0 1654.9 L417.0 1657.4 L418.0 1659.5 L419.0 1661.3 L420.0 1662.5 L421.0 1663.3 L422.0 1663.5 L423.0 1663.2 L424.0 1662.3 L425.0 1660.7 L426.0 1658.7 L427.0 1656.1 L428.0 1653.0 L429.0 1649.6 L430.0 1645.7 L431.0 1641.5 L432.0 1636.9 L433.0 1632.1 L434.0 1627.1 L435.0 1621.9 L436.0 1616.5 L437.0 1611.1 L438.0 1605.6 L439.0 1600.0 L440.0 1594.5 L441.0 1589.1 L442.0 1583.7 L443.0 1578.5 L444.0 1573.5 L445.0 1568.7 L446.0 1564.2 L447.0 1560.0 L448.0 1556.1 L449.0 1552.6 L450.0 1549.4 L451.0 1546.5 L452.0 1543.8 L453.0 1541.5 L454.0 1539.3 L455.0 1537.4 L456.0 1535.8 L457.0 1534.3 L458.0 1532.9 L459.0 1531.8 L460.0 1530.8 L461.0 1529.9 L462.0 1529.1 L463.0 1528.4 L464.0 1527.8 L465.0 1527.2 L466.0 1526.7 L467.0 1526.1 L468.0 1525.5 L469.0 1524.7 L470.0 1523.7 L471.0 1522.4 L472.0 1520.7 L473.0 1518.6 L474.0 1516.0 L475.0 1512.8 L476.0 1509.0 L477.0 1504.5 L478.0 1499.1 L479.0 1493.0 L480.0 1485.9 L481.0 1477.9 L482.0 1468.9 L483.0 1459.2 L484.0 1448.9 L485.0 1438.1 L486.0 1426.8 L487.0 1415.0 L488.0 1402.7 L489.0 1389.7 L490.0 1376.1 L491.0 1362.1 L492.0 1348.1 L493.0 1334.6 L494.0 1321.9 L495.0 1310.5 L496.0 1300.5 L497.0 1291.4 L498.0 1283.1 L499.0 1275.2 L500.0 1267.2 L501.0 1258.9 L502.0 1250.0 L503.0 1240.2 L504.0 1229.6 L505.0 1218.4 L506.0 1207.0 L507.0 1195.5 L508.0 1184.2 L509.0 1173.2 L510.0 1162.9 L511.0 1153.3 L512.0 1144.1 L513.0 1135.3 L514.0 1126.7 L515.0 1118.0 L516.0 1109.2 L517.0 1100.1 L518.0 1090.5 L519.0 1080.2 L520.0 1069.2 L521.0 1057.4 L522.0 1045.0 L523.0 1032.2 L524.0 1019.2 L525.0 1006.1 L526.0 993.1 L527.0 980.5 L528.0 968.3 L529.0 956.8 L530.0 945.9 L531.0 935.6 L532.0 926.0 L533.0 916.8 L534.0 908.2 L535.0 899.9 L536.0 892.1 L537.0 884.5 L538.0 877.3 L539.0 870.3 L540.0 863.4 L541.0 856.7 L542.0 850.0 L543.0 843.4 L544.0 836.7 L545.0 830.1 L546.0 823.4 L547.0 816.7 L548.0 809.9 L549.0 803.1 L550.0 796.1 L551.0 789.0 L552.0 781.8 L553.0 774.4 L554.0 766.9 L555.0 759.1 L556.0 751.2 L557.0 743.1 L558.0 734.8 L559.0 726.2 L560.0 717.3 L561.0 708.2 L562.0 698.8 L563.0 689.1 L564.0 679.1 L565.0 668.7 L566.0 658.0 L567.0 647.0 L568.0 635.6 L569.0 623.8 L570.0 611.9 L571.0 599.7 L572.0 587.6 L573.0 575.4 L574.0 563.3 L575.0 551.5 L576.0 539.9 L577.0 528.7 L578.0 517.9 L579.0 507.6 L580.0 498.0 L581.0 489.0 L582.0 480.5 L583.0 472.2 L584.0 463.8 L585.0 455.1 L586.0 445.9 L587.0 435.9 L588.0 425.0 L589.0 413.6 L590.0 401.8 L591.0 390.1 L592.0 378.7 L593.0 367.9 L594.0 358.0 L595.0 349.5 L596.0 342.6 L597.0 337.1 L598.0 332.8 L599.0 329.2 L600.0 326.0 L601.0 323.0 L602.0 320.3 L603.0 317.9 L604.0 316.1 L605.0 314.9 L606.0 314.5 L607.0 315.0 L608.0 316.4 L609.0 318.7 L610.0 321.9 L611.0 325.8 L612.0 330.5 L613.0 336.0 L614.0 342.3 L615.0 349.2 L616.0 356.8 L617.0 365.0 L618.0 373.8 L619.0 383.2 L620.0 392.9 L621.0 403.0 L622.0 413.4 L623.0 424.1 L624.0 434.8 L625.0 445.6 L626.0 456.4 L627.0 467.1 L628.0 477.7 L629.0 488.2 L630.0 498.5 L631.0 508.6 L632.0 518.4 L633.0 528.0 L634.0 537.3 L635.0 546.2 L636.0 554.8 L637.0 563.1 L638.0 571.0 L639.0 578.6 L640.0 586.0 L641.0 593.0 L642.0 599.7 L643.0 606.2 L644.0 612.5 L645.0 618.4 L646.0 624.1 L647.0 629.4 L648.0 634.3 L649.0 638.8 L650.0 642.9 L651.0 646.4 L652.0 649.3 L653.0 651.6 L654.0 653.4 L655.0 654.6 L656.0 655.3 L657.0 655.7 L658.0 655.8 L659.0 655.6 L660.0 655.3 L661.0 655.0 L662.0 654.5 L663.0 654.0 L664.0 653.5 L665.0 653.0 L666.0 652.4 L667.0 651.9 L668.0 651.5 L669.0 651.2 L670.0 650.9 L671.0 650.8 L672.0 650.8 L673.0 650.9 L674.0 651.3 L675.0 651.8 L676.0 652.6 L677.0 653.5 L678.0 654.7 L679.0 656.1 L680.0 657.7 L681.0 659.5 L682.0 661.6 L683.0 664.0 L684.0 666.5 L685.0 669.3 L686.0 672.4 L687.0 675.6 L688.0 679.0 L689.0 682.6 L690.0 686.3 L691.0 690.2 L692.0 694.3 L693.0 698.4 L694.0 702.7 L695.0 707.1 L696.0 711.5 L697.0 715.9 L698.0 720.2 L699.0 724.5 L700.0 728.7 L701.0 732.6 L702.0 736.4 L703.0 739.9 L704.0 743.1 L705.0 745.9 L706.0 748.3 L707.0 750.4 L708.0 751.9 L709.0 752.9 L710.0 753.4 L711.0 753.2 L712.0 752.5 L713.0 751.3 L714.0 749.5 L715.0 747.2 L716.0 744.4 L717.0 741.1 L718.0 737.2 L719.0 733.0 L720.0 728.2 L721.0 723.1 L722.0 717.5 L723.0 711.5 L724.0 705.2 L725.0 698.6 L726.0 691.8 L727.0 684.9 L728.0 677.8 L729.0 670.7 L730.0 663.6 L731.0 656.5 L732.0 649.5 L733.0 642.6 L734.0 635.9 L735.0 629.5 L736.0 623.4 L737.0 617.5 L738.0 611.9 L739.0 606.5 L740.0 601.4 L741.0 596.6 L742.0 591.9 L743.0 587.5 L744.0 583.4 L745.0 579.4 L746.0 575.6 L747.0 572.1 L748.0 568.7 L749.0 565.6 L750.0 562.7 L751.0 560.0 L752.0 557.5 L753.0 555.3 L754.0 553.3 L755.0 551.6 L756.0 550.2 L757.0 549.0 L758.0 548.2 L759.0 547.8 L760.0 547.7 L761.0 547.9 L762.0 548.4 L763.0 549.1 L764.0 550.0 L765.0 551.0 L766.0 552.2 L767.0 553.3 L768.0 554.4 L769.0 555.5 L770.0 556.4 L771.0 557.2 L772.0 557.8 L773.0 558.2 L774.0 558.3 L775.0 558.3 L776.0 558.1 L777.0 557.8 L778.0 557.2 L779.0 556.4 L780.0 555.5 L781.0 554.4 L782.0 553.1 L783.0 551.6 L784.0 549.9 L785.0 548.0 L786.0 546.0 L787.0 543.7 L788.0 541.2 L789.0 538.6 L790.0 535.8 L791.0 532.8 L792.0 529.7 L793.0 526.5 L794.0 523.1 L795.0 519.8 L796.0 516.4 L797.0 512.9 L798.0 509.5 L799.0 506.0 L800.0 502.5 L801.0 499.0 L802.0 495.6 L803.0 492.1 L804.0 488.6 L805.0 485.1 L806.0 481.6 L807.0 478.1 L808.0 474.6 L809.0 471.1 L810.0 467.6 L811.0 464.2 L812.0 460.9 L813.0 457.6 L814.0 454.5 L815.0 451.6 L816.0 448.8 L817.0 446.2 L818.0 443.9 L819.0 441.8 L820.0 440.0 L821.0 438.4 L822.0 437.0 L823.0 435.9 L824.0 435.1 L825.0 434.4 L826.0 434.0 L827.0 433.8 L828.0 433.9 L829.0 434.1 L830.0 434.6 L831.0 435.2 L832.0 436.0 L833.0 437.1 L834.0 438.2 L835.0 439.5 L836.0 441.0 L837.0 442.5 L838.0 444.1 L839.0 445.8 L840.0 447.4 L841.0 449.0 L842.0 450.6 L843.0 452.0 L844.0 453.3 L845.0 454.6 L846.0 455.7 L847.0 456.8 L848.0 457.7 L849.0 458.6 L850.0 459.4 L851.0 460.2 L852.0 460.9 L853.0 461.4 L854.0 461.8 L855.0 461.9 L856.0 461.6 L857.0 461.0 L858.0 459.8 L859.0 458.2 L860.0 455.9 L861.0 452.9 L862.0 449.4 L863.0 445.3 L864.0 441.0 L865.0 436.5 L866.0 432.1 L867.0 427.9 L868.0 424.1 L869.0 420.8 L870.0 418.1 L871.0 415.8 L872.0 413.8 L873.0 412.0 L874.0 410.3 L875.0 408.5 L876.0 406.6 L877.0 404.3 L878.0 401.8 L879.0 399.0 L880.0 395.9 L881.0 392.7 L882.0 389.4 L883.0 385.9 L884.0 382.5 L885.0 379.0 L886.0 375.5 L887.0 372.1 L888.0 368.9 L889.0 365.8 L890.0 363.0 L891.0 360.4 L892.0 358.1 L893.0 356.2 L894.0 354.7 L895.0 353.5 L896.0 352.8 L897.0 352.4 L898.0 352.4 L899.0 352.8 L900.0 353.4 L901.0 354.4 L902.0 355.6 L903.0 357.0 L904.0 358.7 L905.0 360.5 L906.0 362.6 L907.0 364.8 L908.0 367.1 L909.0 369.6 L910.0 372.1 L911.0 374.7 L912.0 377.4 L913.0 380.1 L914.0 382.8 L915.0 385.5 L916.0 388.1 L917.0 390.7 L918.0 393.2 L919.0 395.6 L920.0 397.8 L921.0 400.0 L922.0 401.9 L923.0 403.7 L924.0 405.2 L925.0 406.6 L926.0 407.7 L927.0 408.5 L928.0 409.0 L929.0 409.2 L930.0 409.1 L931.0 408.7 L932.0 408.1 L933.0 407.2 L934.0 406.1 L935.0 404.8 L936.0 403.2 L937.0 401.5 L938.0 399.5 L939.0 397.3 L940.0 395.0 L941.0 392.5 L942.0 389.9 L943.0 387.2 L944.0 384.3 L945.0 381.3 L946.0 378.2 L947.0 375.0 L948.0 371.8 L949.0 368.6 L950.0 365.4 L951.0 362.2 L952.0 359.1 L953.0 356.0 L954.0 353.1 L955.0 350.2 L956.0 347.5 L957.0 345.0 L958.0 342.6 L959.0 340.5 L960.0 338.6 L961.0 336.9 L962.0 335.6 L963.0 334.5 L964.0 333.7 L965.0 333.3 L966.0 333.1 L967.0 333.2 L968.0 333.5 L969.0 334.1 L970.0 335.0 L971.0 336.0 L972.0 337.3 L973.0 338.8 L974.0 340.5 L975.0 342.4 L976.0 344.4 L977.0 346.6 L978.0 349.0 L979.0 351.5 L980.0 354.1 L981.0 356.8 L982.0 359.6 L983.0 362.5 L984.0 365.5 L985.0 368.5 L986.0 371.5 L987.0 374.5 L988.0 377.4 L989.0 380.2 L990.0 383.0 L991.0 385.6 L992.0 388.0 L993.0 390.3 L994.0 392.4 L995.0 394.2 L996.0 395.7 L997.0 397.0 L998.0 398.0 L999.0 398.6 L1000.0 398.9 L1001.0 399.0 L1002.0 398.7 L1003.0 398.1 L1004.0 397.3 L1005.0 396.2 L1006.0 394.9 L1007.0 393.3 L1008.0 391.6 L1009.0 389.7 L1010.0 387.6 L1011.0 385.3 L1012.0 382.9 L1013.0 380.4 L1014.0 377.8 L1015.0 375.0 L1016.0 372.2 L1017.0 369.3 L1018.0 366.4 L1019.0 363.4 L1020.0 360.5 L1021.0 357.5 L1022.0 354.5 L1023.0 351.5 L1024.0 348.6 L1025.0 345.7 L1026.0 342.9 L1027.0 340.2 L1028.0 337.6 L1029.0 335.1 L1030.0 332.7 L1031.0 330.5 L1032.0 328.4 L1033.0 326.5 L1034.0 324.8 L1035.0 323.3 L1036.0 322.1 L1037.0 321.0 L1038.0 320.2 L1039.0 319.7 L1040.0 319.5 L1041.0 319.5 L1042.0 319.8 L1043.0 320.4 L1044.0 321.1 L1045.0 322.1 L1046.0 323.2 L1047.0 324.5 L1048.0 326.0 L1049.0 327.6 L1050.0 329.3 L1051.0 331.1 L1052.0 333.0 L1053.0 334.9 L1054.0 336.9 L1055.0 338.9 L1056.0 340.9 L1057.0 342.9 L1058.0 344.8 L1059.0 346.7 L1060.0 348.6 L1061.0 350.3 L1062.0 351.9 L1063.0 353.4 L1064.0 354.8 L1065.0 356.0 L1066.0 357.0 L1067.0 357.9 L1068.0 358.5 L1069.0 358.9 L1070.0 359.0 L1071.0 358.9 L1072.0 358.5 L1073.0 357.8 L1074.0 357.0 L1075.0 355.9 L1076.0 354.6 L1077.0 353.1 L1078.0 351.5 L1079.0 349.7 L1080.0 347.7 L1081.0 345.6 L1082.0 343.4 L1083.0 341.1 L1084.0 338.7 L1085.0 336.2 L1086.0 333.7 L1087.0 331.1 L1088.0 328.4 L1089.0 325.8 L1090.0 323.1 L1091.0 320.4 L1092.0 317.8 L1093.0 315.2 L1094.0 312.6 L1095.0 310.1 L1096.0 307.6 L1097.0 305.3 L1098.0 303.0 L1099.0 300.9 L1100.0 298.8 L1101.0 297.0 L1102.0 295.2 L1103.0 293.7 L1104.0 292.3 L1105.0 291.1 L1106.0 290.2 L1107.0 289.4 L1108.0 288.9 L1109.0 288.6 L1110.0 288.6 L1111.0 288.9 L1112.0 289.4 L1113.0 290.2 L1114.0 291.1 L1115.0 292.3 L1116.0 293.6 L1117.0 295.1 L1118.0 296.8 L1119.0 298.6 L1120.0 300.5 L1121.0 302.5 L1122.0 304.6 L1123.0 306.8 L1124.0 309.0 L1125.0 311.3 L1126.0 313.6 L1127.0 315.9 L1128.0 318.2 L1129.0 320.5 L1130.0 322.7 L1131.0 324.9 L1132.0 327.0 L1133.0 329.0 L1134.0 330.9 L1135.0 332.8 L1136.0 334.4 L1137.0 335.9 L1138.0 337.3 L1139.0 338.5 L1140.0 339.4 L1141.0 340.2 L1142.0 340.7 L1143.0 341.0 L1144.0 341.0 L1145.0 340.8 L1146.0 340.4 L1147.0 339.7 L1148.0 338.9 L1149.0 337.8 L1150.0 336.6 L1151.0 335.2 L1152.0 333.7 L1153.0 332.1 L1154.0 330.3 L1155.0 328.4 L1156.0 326.5 L1157.0 324.5 L1158.0 322.4 L1159.0 320.3 L1160.0 318.2 L1161.0 316.0 L1162.0 313.9 L1163.0 311.7 L1164.0 309.6 L1165.0 307.6 L1166.0 305.5 L1167.0 303.6 L1168.0 301.8 L1169.0 300.0 L1170.0 298.4 L1171.0 296.9 L1172.0 295.6 L1173.0 294.4 L1174.0 293.4 L1175.0 292.6 L1176.0 292.0 L1177.0 291.6 L1178.0 291.4 L1179.0 291.5 L1180.0 291.8 L1181.0 292.3 L1182.0 293.1 L1183.0 294.0 L1184.0 295.2 L1185.0 296.5 L1186.0 297.9 L1187.0 299.6 L1188.0 301.3 L1189.0 303.2 L1190.0 305.2 L1191.0 307.2 L1192.0 309.4 L1193.0 311.6 L1194.0 313.9 L1195.0 316.2 L1196.0 318.6 L1197.0 320.9 L1198.0 323.3 L1199.0 325.7 L1200.0 328.0 L1201.0 330.4 L1202.0 332.6 L1203.0 334.8 L1204.0 337.0 L1205.0 339.0 L1206.0 341.0 L1207.0 342.8 L1208.0 344.6 L1209.0 346.2 L1210.0 347.6 L1211.0 348.9 L1212.0 350.0 L1213.0 350.9 L1214.0 351.6 L1215.0 352.1 L1216.0 352.4 L1217.0 352.4 L1218.0 352.2 L1219.0 351.8 L1220.0 351.2 L1221.0 350.4 L1222.0 349.4 L1223.0 348.2 L1224.0 346.9 L1225.0 345.5 L1226.0 343.9 L1227.0 342.3 L1228.0 340.5 L1229.0 338.6 L1230.0 336.7 L1231.0 334.7 L1232.0 332.7 L1233.0 330.6 L1234.0 328.5 L1235.0 326.4 L1236.0 324.3 L1237.0 322.3 L1238.0 320.2 L1239.0 318.2 L1240.0 316.3 L1241.0 314.5 L1242.0 312.7 L1243.0 311.1 L1244.0 309.5 L1245.0 308.1 L1246.0 306.8 L1247.0 305.7 L1248.0 304.7 L1249.0 303.9 L1250.0 303.4 L1251.0 303.0 L1252.0 302.8 L1253.0 302.9 L1254.0 303.2 L1255.0 303.6 L1256.0 304.3 L1257.0 305.1 L1258.0 306.1 L1259.0 307.2 L1260.0 308.5 L1261.0 309.9 L1262.0 311.4 L1263.0 313.0 L1264.0 314.7 L1265.0 316.5 L1266.0 318.4 L1267.0 320.3 L1268.0 322.3 L1269.0 324.3 L1270.0 326.3 L1271.0 328.3 L1272.0 330.4 L1273.0 332.4 L1274.0 334.4 L1275.0 336.4 L1276.0 338.3 L1277.0 340.2 L1278.0 342.0 L1279.0 343.7 L1280.0 345.4 L1281.0 346.9 L1282.0 348.4 L1283.0 349.7 L1284.0 350.8 L1285.0 351.8 L1286.0 352.7 L1287.0 353.4 L1288.0 353.9 L1289.0 354.2 L1290.0 354.3 L1291.0 354.2 L1292.0 354.0 L1293.0 353.5 L1294.0 352.9 L1295.0 352.1 L1296.0 351.1 L1297.0 350.1 L1298.0 348.9 L1299.0 347.6 L1300.0 346.2 L1301.0 344.7 L1302.0 343.1 L1303.0 341.5 L1304.0 339.9 L1305.0 338.2 L1306.0 336.4 L1307.0 334.7 L1308.0 332.9 L1309.0 331.2 L1310.0 329.5 L1311.0 327.8 L1312.0 326.2 L1313.0 324.6 L1314.0 323.1 L1315.0 321.6 L1316.0 320.3 L1317.0 319.0 L1318.0 317.9 L1319.0 316.9 L1320.0 316.1 L1321.0 315.4 L1322.0 314.8 L1323.0 314.5 L1324.0 314.3 L1325.0 314.3 L1326.0 314.5 L1327.0 314.9 L1328.0 315.4 L1329.0 316.1 L1330.0 316.9 L1331.0 317.8 L1332.0 318.9 L1333.0 320.1 L1334.0 321.3 L1335.0 322.7 L1336.0 324.1 L1337.0 325.6 L1338.0 327.1 L1339.0 328.6 L1340.0 330.2 L1341.0 331.8 L1342.0 333.4 L1343.0 335.0 L1344.0 336.6 L1345.0 338.2 L1346.0 339.7 L1347.0 341.1 L1348.0 342.5 L1349.0 343.8 L1350.0 345.1 L1351.0 346.2 L1352.0 347.2 L1353.0 348.1 L1354.0 348.9 L1355.0 349.5 L1356.0 350.0 L1357.0 350.4 L1358.0 350.5 L1359.0 350.5 L1360.0 350.2 L1361.0 349.8 L1362.0 349.3 L1363.0 348.6 L1364.0 347.8 L1365.0 346.8 L1366.0 345.7 L1367.0 344.5 L1368.0 343.1 L1369.0 341.7 L1370.0 340.2 L1371.0 338.6 L1372.0 337.0 L1373.0 335.3 L1374.0 333.5 L1375.0 331.7 L1376.0 329.9 L1377.0 328.0 L1378.0 326.1 L1379.0 324.2 L1380.0 322.4 L1381.0 320.5 L1382.0 318.7 L1383.0 316.9 L1384.0 315.1 L1385.0 313.4 L1386.0 311.8 L1387.0 310.2 L1388.0 308.7 L1389.0 307.3 L1390.0 306.0 L1391.0 304.7 L1392.0 303.7 L1393.0 302.7 L1394.0 301.8 L1395.0 301.2 L1396.0 300.6 L1397.0 300.2 L1398.0 300.0 L1399.0 300.0 L1400.0 300.2 L1401.0 300.5 L1402.0 301.0 L1403.0 301.7 L1404.0 302.5 L1405.0 303.4 L1406.0 304.5 L1407.0 305.6 L1408.0 306.9 L1409.0 308.3 L1410.0 309.7 L1411.0 311.3 L1412.0 312.8 L1413.0 314.5 L1414.0 316.1 L1415.0 317.8 L1416.0 319.5 L1417.0 321.2 L1418.0 322.9 L1419.0 324.6 L1420.0 326.3 L1421.0 327.9 L1422.0 329.4 L1423.0 330.9 L1424.0 332.4 L1425.0 333.7 L1426.0 335.0 L1427.0 336.1 L1428.0 337.2 L1429.0 338.1 L1430.0 338.9 L1431.0 339.5 L1432.0 339.9 L1433.0 340.2 L1434.0 340.4 L1435.0 340.3 L1436.0 340.0 L1437.0 339.5 L1438.0 338.8 L1439.0 337.9 L1440.0 336.7 L1441.0 335.5 L1442.0 334.0 L1443.0 332.4 L1444.0 330.6 L1445.0 328.8 L1446.0 326.8 L1447.0 324.8 L1448.0 322.6 L1449.0 320.4 L1450.0 318.2 L1451.0 316.0 L1452.0 313.7 L1453.0 311.4 L1454.0 309.2 L1455.0 306.9 L1456.0 304.8 L1457.0 302.6 L1458.0 300.6 L1459.0 298.7 L1460.0 296.8 L1461.0 295.1 L1462.0 293.5 L1463.0 292.1 L1464.0 290.9 L1465.0 289.8 L1466.0 288.9 L1467.0 288.2 L1468.0 287.8 L1469.0 287.6 L1470.0 287.7 L1471.0 288.0 L1472.0 288.5 L1473.0 289.3 L1474.0 290.3 L1475.0 291.5 L1476.0 292.9 L1477.0 294.5 L1478.0 296.2 L1479.0 298.0 L1480.0 299.9 L1481.0 302.0 L1482.0 304.2 L1483.0 306.4 L1484.0 308.7 L1485.0 311.0 L1486.0 313.4 L1487.0 315.7 L1488.0 318.1 L1489.0 320.5 L1490.0 322.8 L1491.0 325.1 L1492.0 327.3 L1493.0 329.5 L1494.0 331.5 L1495.0 333.5 L1496.0 335.3 L1497.0 337.0 L1498.0 338.5 L1499.0 339.9 L1500.0 341.1 L1501.0 342.1 L1502.0 342.9 L1503.0 343.4 L1504.0 343.7 L1505.0 343.8 L1506.0 343.6 L1507.0 343.1 L1508.0 342.4 L1509.0 341.5 L1510.0 340.4 L1511.0 339.1 L1512.0 337.6 L1513.0 335.9 L1514.0 334.2 L1515.0 332.3 L1516.0 330.2 L1517.0 328.1 L1518.0 326.0 L1519.0 323.7 L1520.0 321.4 L1521.0 319.1 L1522.0 316.8 L1523.0 314.4 L1524.0 312.1 L1525.0 309.9 L1526.0 307.6 L1527.0 305.5 L1528.0 303.4 L1529.0 301.4 L1530.0 299.6 L1531.0 297.8 L1532.0 296.2 L1533.0 294.8 L1534.0 293.6 L1535.0 292.5 L1536.0 291.6 L1537.0 291.0 L1538.0 290.6 L1539.0 290.5 L1540.0 290.6 L1541.0 291.0 L1542.0 291.7 L1543.0 292.5 L1544.0 293.6 L1545.0 294.9 L1546.0 296.3 L1547.0 298.0 L1548.0 299.7 L1549.0 301.7 L1550.0 303.7 L1551.0 305.8 L1552.0 308.1 L1553.0 310.4 L1554.0 312.8 L1555.0 315.2 L1556.0 317.6 L1557.0 320.1 L1558.0 322.6 L1559.0 325.0 L1560.0 327.5 L1561.0 329.9 L1562.0 332.2 L1563.0 334.5 L1564.0 336.6 L1565.0 338.7 L1566.0 340.7 L1567.0 342.5 L1568.0 344.2 L1569.0 345.7 L1570.0 347.0 L1571.0 348.1 L1572.0 349.1 L1573.0 349.8 L1574.0 350.3 L1575.0 350.5 L1576.0 350.4 L1577.0 350.1 L1578.0 349.6 L1579.0 348.8 L1580.0 347.8 L1581.0 346.7 L1582.0 345.3 L1583.0 343.8 L1584.0 342.1 L1585.0 340.3 L1586.0 338.4 L1587.0 336.4 L1588.0 334.3 L1589.0 332.1 L1590.0 329.9 L1591.0 327.6 L1592.0 325.3 L1593.0 323.0 L1594.0 320.7 L1595.0 318.5 L1596.0 316.3 L1597.0 314.1 L1598.0 312.0 L1599.0 310.0 L1600.0 308.1 L1601.0 306.3 L1602.0 304.6 L1603.0 303.1 L1604.0 301.8 L1605.0 300.6 L1606.0 299.7 L1607.0 298.9 L1608.0 298.4 L1609.0 298.1 L1610.0 298.1 L1611.0 298.4 L1612.0 298.9 L1613.0 299.6 L1614.0 300.5 L1615.0 301.7 L1616.0 303.0 L1617.0 304.5 L1618.0 306.2 L1619.0 308.0 L1620.0 310.0 L1621.0 312.1 L1622.0 314.3 L1623.0 316.6 L1624.0 318.9 L1625.0 321.4 L1626.0 323.9 L1627.0 326.4 L1628.0 328.9 L1629.0 331.5 L1630.0 334.1 L1631.0 336.6 L1632.0 339.1 L1633.0 341.6 L1634.0 344.0 L1635.0 346.3 L1636.0 348.6 L1637.0 350.7 L1638.0 352.8 L1639.0 354.7 L1640.0 356.4 L1641.0 358.1 L1642.0 359.5 L1643.0 360.8 L1644.0 361.8 L1645.0 362.7 L1646.0 363.3 L1647.0 363.7 L1648.0 363.8 L1649.0 363.7 L1650.0 363.3 L1651.0 362.8 L1652.0 361.9 L1653.0 360.9 L1654.0 359.7 L1655.0 358.4 L1656.0 356.8 L1657.0 355.1 L1658.0 353.3 L1659.0 351.4 L1660.0 349.3 L1661.0 347.1 L1662.0 344.9 L1663.0 342.6 L1664.0 340.2 L1665.0 337.8 L1666.0 335.3 L1667.0 332.9 L1668.0 330.4 L1669.0 327.9 L1670.0 325.5 L1671.0 323.1 L1672.0 320.7 L1673.0 318.4 L1674.0 316.2 L1675.0 314.0 L1676.0 312.0 L1677.0 310.1 L1678.0 308.3 L1679.0 306.6 L1680.0 305.1 L1681.0 303.7 L1682.0 302.6 L1683.0 301.6 L1684.0 300.8 L1685.0 300.3 L1686.0 299.9 L1687.0 299.8 L1688.0 300.0 L1689.0 300.3 L1690.0 300.8 L1691.0 301.5 L1692.0 302.4 L1693.0 303.4 L1694.0 304.5 L1695.0 305.7 L1696.0 307.0 L1697.0 308.4 L1698.0 309.9 L1699.0 311.4 L1700.0 312.9 L1701.0 314.4 L1702.0 316.0 L1703.0 317.5 L1704.0 319.0 L1705.0 320.4 L1706.0 321.8 L1707.0 323.1 L1708.0 324.3 L1709.0 325.4 L1710.0 326.3 L1711.0 327.2 L1712.0 327.8 L1713.0 328.3 L1714.0 328.6 L1715.0 328.6 L1716.0 328.5 L1717.0 328.2 L1718.0 327.7 L1719.0 327.0 L1720.0 326.1 L1721.0 325.1 L1722.0 324.0 L1723.0 322.7 L1724.0 321.3 L1725.0 319.8 L1726.0 318.1 L1727.0 316.4 L1728.0 314.6 L1729.0 312.8 L1730.0 310.9 L1731.0 308.9 L1732.0 306.9 L1733.0 304.8 L1734.0 302.8 L1735.0 300.7 L1736.0 298.7 L1737.0 296.6 L1738.0 294.6 L1739.0 292.6 L1740.0 290.6 L1741.0 288.7 L1742.0 286.9 L1743.0 285.2 L1744.0 283.5 L1745.0 281.9 L1746.0 280.5 L1747.0 279.1 L1748.0 277.9 L1749.0 276.8 L1750.0 275.9 L1751.0 275.1 L1752.0 274.5 L1753.0 274.1 L1754.0 273.8 L1755.0 273.7 L1756.0 273.8 L1757.0 274.1 L1758.0 274.5 L1759.0 275.0 L1760.0 275.6 L1761.0 276.4 L1762.0 277.3 L1763.0 278.4 L1764.0 279.5 L1765.0 280.7 L1766.0 282.0 L1767.0 283.3 L1768.0 284.8 L1769.0 286.3 L1770.0 287.8 L1771.0 289.4 L1772.0 291.1 L1773.0 292.7 L1774.0 294.4 L1775.0 296.2 L1776.0 297.9 L1777.0 299.6 L1778.0 301.3 L1779.0 303.0 L1780.0 304.7 L1781.0 306.3 L1782.0 307.9 L1783.0 309.5 L1784.0 311.0 L1785.0 312.4 L1786.0 313.8 L1787.0 315.1 L1788.0 316.3 L1789.0 317.4 L1790.0 318.4 L1791.0 319.3 L1792.0 320.1 L1793.0 320.7 L1794.0 321.2 L1795.0 321.6 L1796.0 321.9 L1797.0 322.0 L1798.0 321.9 L1799.0 321.7 L1800.0 321.4 L1801.0 321.0 L1802.0 320.5 L1803.0 319.9 L1804.0 319.3 L1805.0 318.6 L1806.0 317.9 L1807.0 317.1 L1808.0 316.4 L1809.0 315.7 L1810.0 315.0 L1811.0 314.4 L1812.0 313.8 L1813.0 313.3 L1814.0 312.8 L1815.0 312.5 L1816.0 312.3 L1817.0 312.2 L1818.0 312.3 L1819.0 312.5 L1820.0 312.9 L1821.0 313.4 L1822.0 314.1 L1823.0 315.0 L1824.0 316.0 L1825.0 317.1 L1826.0 318.3 L1827.0 319.6 L1828.0 321.0 L1829.0 322.6 L1830.0 324.2 L1831.0 325.8 L1832.0 327.5 L1833.0 329.3 L1834.0 331.1 L1835.0 332.9 L1836.0 334.8 L1837.0 336.7 L1838.0 338.5 L1839.0 340.4 L1840.0 342.2 L1841.0 344.0 L1842.0 345.8 L1843.0 347.6 L1844.0 349.2 L1845.0 350.9 L1846.0 352.4 L1847.0 353.9 L1848.0 355.2 L1849.0 356.5 L1850.0 357.6 L1851.0 358.7 L1852.0 359.5 L1853.0 360.3 L1854.0 360.9 L1855.0 361.3 L1856.0 361.6 L1857.0 361.7 L1858.0 361.6 L1859.0 361.4 L1860.0 361.0 L1861.0 360.4 L1862.0 359.6 L1863.0 358.8 L1864.0 357.8 L1865.0 356.7 L1866.0 355.4 L1867.0 354.1 L1868.0 352.7 L1869.0 351.2 L1870.0 349.6 L1871.0 347.9 L1872.0 346.2 L1873.0 344.4 L1874.0 342.5 L1875.0 340.7 L1876.0 338.8 L1877.0 336.8 L1878.0 334.9 L1879.0 333.0 L1880.0 331.0 L1881.0 329.1 L1882.0 327.2 L1883.0 325.4 L1884.0 323.5 L1885.0 321.8 L1886.0 320.0 L1887.0 318.4 L1888.0 316.8 L1889.0 315.3 L1890.0 313.9 L1891.0 312.6 L1892.0 311.4 L1893.0 310.3 L1894.0 309.3 L1895.0 308.4 L1896.0 307.7 L1897.0 307.2 L1898.0 306.8 L1899.0 306.6 L1900.0 306.5 L1901.0 306.5 L1902.0 306.7 L1903.0 307.0 L1904.0 307.4 L1905.0 307.9 L1906.0 308.4 L1907.0 309.1 L1908.0 309.8 L1909.0 310.5 L1910.0 311.3 L1911.0 312.1 L1912.0 312.9 L1913.0 313.7 L1914.0 314.5 L1915.0 315.3 L1916.0 316.0 L1917.0 316.7 L1918.0 317.4 L1919.0 318.0 L1920.0 318.5 L1921.0 318.9 L1922.0 319.2 L1923.0 319.4 L1924.0 319.5 L1925.0 319.4 L1926.0 319.2 L1927.0 318.9 L1928.0 318.4 L1929.0 317.8 L1930.0 317.1 L1931.0 316.3 L1932.0 315.4 L1933.0 314.4 L1934.0 313.3 L1935.0 312.1 L1936.0 310.9 L1937.0 309.6 L1938.0 308.3 L1939.0 306.9 L1940.0 305.5 L1941.0 304.1 L1942.0 302.7 L1943.0 301.3 L1944.0 299.8 L1945.0 298.4 L1946.0 297.0 L1947.0 295.6 L1948.0 294.3 L1949.0 293.0 L1950.0 291.8 L1951.0 290.6 L1952.0 289.5 L1953.0 288.4 L1954.0 287.5 L1955.0 286.6 L1956.0 285.9 L1957.0 285.2 L1958.0 284.7 L1959.0 284.3 L1960.0 284.1 L1961.0 284.0 L1962.0 284.0 L1963.0 284.2 L1964.0 284.6 L1965.0 285.1 L1966.0 285.7 L1967.0 286.4 L1968.0 287.3 L1969.0 288.3 L1970.0 289.3 L1971.0 290.5 L1972.0 291.7 L1973.0 293.0 L1974.0 294.4 L1975.0 295.8 L1976.0 297.3 L1977.0 298.8 L1978.0 300.3 L1979.0 301.8 L1980.0 303.4 L1981.0 305.0 L1982.0 306.5 L1983.0 308.1 L1984.0 309.6 L1985.0 311.1 L1986.0 312.6 L1987.0 314.0 L1988.0 315.3 L1989.0 316.6 L1990.0 317.8 L1991.0 319.0 L1992.0 320.0 L1993.0 321.0 L1994.0 321.8 L1995.0 322.5 L1996.0 323.1 L1997.0 323.6 L1998.0 323.9 L1999.0 324.1 L2000.0 324.1 L2001.0 324.0 L2002.0 323.8 L2003.0 323.4 L2004.0 322.9 L2005.0 322.4 L2006.0 321.7 L2007.0 320.9 L2008.0 320.0 L2009.0 319.1 L2010.0 318.1 L2011.0 317.0 L2012.0 315.8 L2013.0 314.7 L2014.0 313.4 L2015.0 312.2 L2016.0 310.9 L2017.0 309.6 L2018.0 308.3 L2019.0 307.0 L2020.0 305.7 L2021.0 304.4 L2022.0 303.2 L2023.0 301.9 L2024.0 300.7 L2025.0 299.6 L2026.0 298.5 L2027.0 297.4 L2028.0 296.5 L2029.0 295.6 L2030.0 294.7 L2031.0 294.0 L2032.0 293.4 L2033.0 292.9 L2034.0 292.5 L2035.0 292.2 L2036.0 292.0 L2037.0 292.0 L2038.0 292.1 L2039.0 292.3 L2040.0 292.6 L2041.0 293.1 L2042.0 293.6 L2043.0 294.2 L2044.0 294.9 L2045.0 295.7 L2046.0 296.5 L2047.0 297.4 L2048.0 298.4 L2049.0 299.4 L2050.0 300.4 L2051.0 301.4 L2052.0 302.5 L2053.0 303.5 L2054.0 304.6 L2055.0 305.7 L2056.0 306.7 L2057.0 307.7 L2058.0 308.7 L2059.0 309.6 L2060.0 310.5 L2061.0 311.4 L2062.0 312.2 L2063.0 312.9 L2064.0 313.5 L2065.0 314.0 L2066.0 314.5 L2067.0 314.8 L2068.0 315.1 L2069.0 315.2 L2070.0 315.2 L2071.0 315.0 L2072.0 314.7 L2073.0 314.3 L2074.0 313.7 L2075.0 313.0 L2076.0 312.2 L2077.0 311.3 L2078.0 310.3 L2079.0 309.1 L2080.0 308.0 L2081.0 306.7 L2082.0 305.4 L2083.0 304.0 L2084.0 302.6 L2085.0 301.1 L2086.0 299.6 L2087.0 298.1 L2088.0 296.5 L2089.0 295.0 L2090.0 293.4 L2091.0 291.9 L2092.0 290.4 L2093.0 288.9 L2094.0 287.5 L2095.0 286.1 L2096.0 284.7 L2097.0 283.5 L2098.0 282.3 L2099.0 281.1 L2100.0 280.1 L2101.0 279.1 L2102.0 278.3 L2103.0 277.6 L2104.0 277.0 L2105.0 276.5 L2106.0 276.2 L2107.0 276.0 L2108.0 276.0 L2109.0 276.1 L2110.0 276.4 L2111.0 276.9 L2112.0 277.5 L2113.0 278.2 L2114.0 279.1 L2115.0 280.0 L2116.0 281.1 L2117.0 282.3 L2118.0 283.6 L2119.0 285.0 L2120.0 286.5 L2121.0 288.0 L2122.0 289.6 L2123.0 291.3 L2124.0 293.0 L2125.0 294.7 L2126.0 296.5 L2127.0 298.4 L2128.0 300.2 L2129.0 302.1 L2130.0 304.0 L2131.0 305.9 L2132.0 307.7 L2133.0 309.6 L2134.0 311.4 L2135.0 313.2 L2136.0 315.0 L2137.0 316.7 L2138.0 318.4 L2139.0 320.0 L2140.0 321.5 L2141.0 323.0 L2142.0 324.4 L2143.0 325.7 L2144.0 326.9 L2145.0 328.0 L2146.0 329.0 L2147.0 329.8 L2148.0 330.6 L2149.0 331.2 L2150.0 331.6 L2151.0 331.9 L2152.0 332.1 L2153.0 332.1 L2154.0 331.9 L2155.0 331.6 L2156.0 331.2 L2157.0 330.6 L2158.0 330.0 L2159.0 329.2 L2160.0 328.3 L2161.0 327.4 L2162.0 326.3 L2163.0 325.2 L2164.0 324.0 L2165.0 322.8 L2166.0 321.5 L2167.0 320.2 L2168.0 318.8 L2169.0 317.4 L2170.0 316.0 L2171.0 314.6 L2172.0 313.1 L2173.0 311.7 L2174.0 310.3 L2175.0 308.9 L2176.0 307.6 L2177.0 306.2 L2178.0 305.0 L2179.0 303.8 L2180.0 302.6 L2181.0 301.5 L2182.0 300.5 L2183.0 299.6 L2184.0 298.8 L2185.0 298.1 L2186.0 297.5 L2187.0 297.0 L2188.0 296.6 L2189.0 296.4 L2190.0 296.3 L2191.0 296.3 L2192.0 296.4 L2193.0 296.7 L2194.0 297.0 L2195.0 297.4 L2196.0 298.0 L2197.0 298.6 L2198.0 299.2 L2199.0 300.0 L2200.0 300.8 L2201.0 301.6 L2202.0 302.5 L2203.0 303.4 L2204.0 304.4 L2205.0 305.4 L2206.0 306.4 L2207.0 307.4 L2208.0 308.4 L2209.0 309.4 L2210.0 310.4 L2211.0 311.4 L2212.0 312.4 L2213.0 313.3 L2214.0 314.2 L2215.0 315.0 L2216.0 315.8 L2217.0 316.5 L2218.0 317.2 L2219.0 317.8 L2220.0 318.3 L2221.0 318.7 L2222.0 319.0 L2223.0 319.3 L2224.0 319.4 L2225.0 319.4 L2226.0 319.3 L2227.0 319.0 L2228.0 318.7 L2229.0 318.3 L2230.0 317.8 L2231.0 317.2 L2232.0 316.6 L2233.0 315.9 L2234.0 315.2 L2235.0 314.4 L2236.0 313.6 L2237.0 312.7 L2238.0 311.9 L2239.0 311.0 L2240.0 310.1 L2241.0 309.3 L2242.0 308.4 L2243.0 307.6 L2244.0 306.8 L2245.0 306.1 L2246.0 305.4 L2247.0 304.7 L2248.0 304.2 L2249.0 303.7 L2250.0 303.3 L2251.0 303.0 L2252.0 302.7 L2253.0 302.6 L2254.0 302.5 L2255.0 302.5 L2256.0 302.6 L2257.0 302.8 L2258.0 303.0 L2259.0 303.3 L2260.0 303.7 L2261.0 304.1 L2262.0 304.6 L2263.0 305.2 L2264.0 305.8 L2265.0 306.5 L2266.0 307.2 L2267.0 307.9 L2268.0 308.8 L2269.0 309.6 L2270.0 310.5 L2271.0 311.5 L2272.0 312.4 L2273.0 313.4 L2274.0 314.5 L2275.0 315.6 L2276.0 316.7 L2277.0 317.8 L2278.0 318.9 L2279.0 320.1 L2280.0 321.3 L2281.0 322.5 L2282.0 323.7 L2283.0 324.9 L2284.0 326.1 L2285.0 327.4 L2286.0 328.6" fill="none" stroke="#00FF00" stroke-width="7.7" stroke-linejoin="round" stroke-linecap="butt"/>
<path d="M229.0 1632.0 L230.0 1629.8 L231.0 1627.5 L232.0 1625.0 L233.0 1622.3 L234.0 1619.4 L235.0 1616.3 L236.0 1613.0 L237.0 1609.6 L238.0 1606.2 L239.0 1602.7 L240.0 1599.2 L241.0 1595.7 L242.0 1592.3 L243.0 1588.9 L244.0 1585.7 L245.0 1582.6 L246.0 1579.8 L247.0 1577.2 L248.0 1574.8 L249.0 1572.7 L250.0 1571.0 L251.0 1569.6 L252.0 1568.6 L253.0 1568.1 L254.0 1568.0 L255.0 1568.4 L256.0 1569.3 L257.0 1570.6 L258.0 1572.2 L259.0 1574.2 L260.0 1576.6 L261.0 1579.2 L262.0 1582.1 L263.0 1585.2 L264.0 1588.6 L265.0 1592.1 L266.0 1595.7 L267.0 1599.4 L268.0 1603.3 L269.0 1607.2 L270.0 1611.1 L271.0 1614.9 L272.0 1618.8 L273.0 1622.6 L274.0 1626.2 L275.0 1629.8 L276.0 1633.1 L277.0 1636.3 L278.0 1639.2 L279.0 1641.9 L280.0 1644.3 L281.0 1646.4 L282.0 1648.1 L283.0 1649.5 L284.0 1650.4 L285.0 1650.9 L286.0 1651.0 L287.0 1650.5 L288.0 1649.6 L289.0 1648.3 L290.0 1646.7 L291.0 1644.7 L292.0 1642.3 L293.0 1639.7 L294.0 1636.9 L295.0 1633.8 L296.0 1630.5 L297.0 1627.1 L298.0 1623.5 L299.0 1619.8 L300.0 1616.1 L301.0 1612.3 L302.0 1608.6 L303.0 1604.8 L304.0 1601.1 L305.0 1597.5 L306.0 1594.1 L307.0 1590.7 L308.0 1587.6 L309.0 1584.7 L310.0 1582.0 L311.0 1579.6 L312.0 1577.5 L313.0 1575.7 L314.0 1574.3 L315.0 1573.4 L316.0 1572.8 L317.0 1572.7 L318.0 1573.1 L319.0 1573.8 L320.0 1575.0 L321.0 1576.6 L322.0 1578.5 L323.0 1580.7 L324.0 1583.2 L325.0 1585.9 L326.0 1588.9 L327.0 1592.0 L328.0 1595.3 L329.0 1598.7 L330.0 1602.3 L331.0 1605.9 L332.0 1609.5 L333.0 1613.2 L334.0 1616.8 L335.0 1620.4 L336.0 1623.9 L337.0 1627.3 L338.0 1630.5 L339.0 1633.6 L340.0 1636.5 L341.0 1639.2 L342.0 1641.6 L343.0 1643.7 L344.0 1645.5 L345.0 1647.0 L346.0 1648.1 L347.0 1648.8 L348.0 1649.0 L349.0 1648.8 L350.0 1648.1 L351.0 1647.0 L352.0 1645.6 L353.0 1643.7 L354.0 1641.6 L355.0 1639.2 L356.0 1636.4 L357.0 1633.5 L358.0 1630.4 L359.0 1627.0 L360.0 1623.6 L361.0 1620.0 L362.0 1616.3 L363.0 1612.6 L364.0 1608.9 L365.0 1605.2 L366.0 1601.5 L367.0 1597.9 L368.0 1594.3 L369.0 1591.0 L370.0 1587.7 L371.0 1584.7 L372.0 1581.9 L373.0 1579.3 L374.0 1577.1 L375.0 1575.1 L376.0 1573.5 L377.0 1572.2 L378.0 1571.4 L379.0 1571.0 L380.0 1571.1 L381.0 1571.5 L382.0 1572.4 L383.0 1573.7 L384.0 1575.3 L385.0 1577.3 L386.0 1579.5 L387.0 1582.1 L388.0 1584.8 L389.0 1587.8 L390.0 1590.9 L391.0 1594.2 L392.0 1597.6 L393.0 1601.2 L394.0 1604.8 L395.0 1608.4 L396.0 1612.0 L397.0 1615.7 L398.0 1619.2 L399.0 1622.8 L400.0 1626.2 L401.0 1629.5 L402.0 1632.6 L403.0 1635.5 L404.0 1638.2 L405.0 1640.7 L406.0 1642.9 L407.0 1644.9 L408.0 1646.4 L409.0 1647.7 L410.0 1648.5 L411.0 1649.0 L412.0 1649.0 L413.0 1648.5 L414.0 1647.6 L415.0 1646.3 L416.0 1644.7 L417.0 1642.7 L418.0 1640.4 L419.0 1637.8 L420.0 1634.9 L421.0 1631.8 L422.0 1628.5 L423.0 1625.0 L424.0 1621.4 L425.0 1617.6 L426.0 1613.8 L427.0 1609.9 L428.0 1606.0 L429.0 1602.0 L430.0 1598.1 L431.0 1594.2 L432.0 1590.4 L433.0 1586.7 L434.0 1583.2 L435.0 1579.8 L436.0 1576.6 L437.0 1573.6 L438.0 1570.9 L439.0 1568.4 L440.0 1566.2 L441.0 1564.4 L442.0 1562.9 L443.0 1561.8 L444.0 1561.2 L445.0 1560.9 L446.0 1561.2 L447.0 1561.9 L448.0 1563.0 L449.0 1564.5 L450.0 1566.3 L451.0 1568.3 L452.0 1570.6 L453.0 1573.1 L454.0 1575.7 L455.0 1578.3 L456.0 1581.0 L457.0 1583.6 L458.0 1586.2 L459.0 1588.7 L460.0 1591.0 L461.0 1593.1 L462.0 1594.9 L463.0 1596.4 L464.0 1597.6 L465.0 1598.3 L466.0 1598.6 L467.0 1598.3 L468.0 1597.6 L469.0 1596.3 L470.0 1594.4 L471.0 1591.9 L472.0 1588.8 L473.0 1585.1 L474.0 1580.7 L475.0 1575.7 L476.0 1570.0 L477.0 1563.7 L478.0 1556.6 L479.0 1549.0 L480.0 1540.7 L481.0 1531.9 L482.0 1522.6 L483.0 1512.6 L484.0 1502.0 L485.0 1490.7 L486.0 1477.7 L487.0 1460.3 L488.0 1435.9 L489.0 1407.7 L490.0 1381.1 L491.0 1359.6 L492.0 1342.8 L493.0 1329.5 L494.0 1318.4 L495.0 1308.6 L496.0 1299.5 L497.0 1291.0 L498.0 1283.0 L499.0 1275.4 L500.0 1267.9 L501.0 1260.5 L502.0 1253.1 L503.0 1245.3 L504.0 1237.4 L505.0 1229.1 L506.0 1220.7 L507.0 1212.1 L508.0 1203.3 L509.0 1194.4 L510.0 1185.4 L511.0 1176.4 L512.0 1167.3 L513.0 1158.2 L514.0 1149.1 L515.0 1140.0 L516.0 1131.0 L517.0 1122.1 L518.0 1113.2 L519.0 1104.3 L520.0 1095.5 L521.0 1086.8 L522.0 1078.1 L523.0 1069.5 L524.0 1060.9 L525.0 1052.4 L526.0 1043.9 L527.0 1035.6 L528.0 1027.2 L529.0 1019.0 L530.0 1010.8 L531.0 1002.7 L532.0 994.7 L533.0 986.7 L534.0 978.8 L535.0 970.9 L536.0 963.1 L537.0 955.4 L538.0 947.7 L539.0 940.1 L540.0 932.5 L541.0 924.9 L542.0 917.4 L543.0 910.0 L544.0 902.6 L545.0 895.2 L546.0 887.7 L547.0 880.1 L548.0 872.4 L549.0 864.5 L550.0 856.4 L551.0 848.0 L552.0 839.2 L553.0 830.1 L554.0 820.6 L555.0 810.6 L556.0 800.1 L557.0 789.0 L558.0 777.3 L559.0 765.2 L560.0 752.5 L561.0 739.5 L562.0 726.1 L563.0 712.5 L564.0 698.8 L565.0 685.0 L566.0 671.1 L567.0 657.3 L568.0 643.6 L569.0 630.1 L570.0 616.9 L571.0 603.9 L572.0 591.2 L573.0 578.9 L574.0 567.0 L575.0 555.6 L576.0 544.6 L577.0 534.1 L578.0 524.1 L579.0 514.8 L580.0 506.1 L581.0 498.0 L582.0 490.6 L583.0 483.9 L584.0 477.7 L585.0 472.1 L586.0 466.9 L587.0 462.1 L588.0 457.6 L589.0 453.3 L590.0 449.2 L591.0 445.2 L592.0 441.3 L593.0 437.4 L594.0 433.4 L595.0 429.3 L596.0 425.1 L597.0 420.9 L598.0 416.8 L599.0 412.7 L600.0 408.7 L601.0 404.9 L602.0 401.4 L603.0 398.0 L604.0 395.0 L605.0 392.2 L606.0 389.9 L607.0 388.0 L608.0 386.5 L609.0 385.6 L610.0 385.2 L611.0 385.2 L612.0 385.7 L613.0 386.6 L614.0 388.0 L615.0 389.6 L616.0 391.6 L617.0 393.9 L618.0 396.5 L619.0 399.3 L620.0 402.3 L621.0 405.5 L622.0 408.8 L623.0 412.3 L624.0 416.0 L625.0 419.7 L626.0 423.6 L627.0 427.7 L628.0 431.8 L629.0 436.1 L630.0 440.5 L631.0 445.0 L632.0 449.6 L633.0 454.3 L634.0 459.2 L635.0 464.1 L636.0 469.2 L637.0 474.3 L638.0 479.6 L639.0 485.1 L640.0 490.6 L641.0 496.4 L642.0 502.2 L643.0 508.2 L644.0 514.3 L645.0 520.6 L646.0 527.1 L647.0 533.7 L648.0 540.4 L649.0 547.4 L650.0 554.4 L651.0 561.6 L652.0 568.8 L653.0 576.1 L654.0 583.4 L655.0 590.6 L656.0 597.7 L657.0 604.7 L658.0 611.5 L659.0 618.2 L660.0 624.6 L661.0 630.7 L662.0 636.6 L663.0 642.3 L664.0 647.7 L665.0 652.8 L666.0 657.7 L667.0 662.4 L668.0 666.8 L669.0 671.0 L670.0 674.9 L671.0 678.6 L672.0 682.0 L673.0 685.2 L674.0 688.1 L675.0 690.8 L676.0 693.3 L677.0 695.5 L678.0 697.5 L679.0 699.2 L680.0 700.7 L681.0 701.9 L682.0 702.9 L683.0 703.7 L684.0 704.3 L685.0 704.6 L686.0 704.8 L687.0 704.8 L688.0 704.6 L689.0 704.4 L690.0 704.1 L691.0 703.7 L692.0 703.2 L693.0 702.8 L694.0 702.3 L695.0 701.9 L696.0 701.5 L697.0 701.2 L698.0 700.9 L699.0 700.8 L700.0 700.8 L701.0 700.9 L702.0 701.1 L703.0 701.4 L704.0 701.7 L705.0 702.1 L706.0 702.6 L707.0 703.1 L708.0 703.6 L709.0 704.1 L710.0 704.7 L711.0 705.2 L712.0 705.8 L713.0 706.3 L714.0 706.7 L715.0 707.2 L716.0 707.6 L717.0 707.9 L718.0 708.1 L719.0 708.3 L720.0 708.4 L721.0 708.4 L722.0 708.3 L723.0 708.1 L724.0 707.8 L725.0 707.3 L726.0 706.8 L727.0 706.1 L728.0 705.2 L729.0 704.3 L730.0 703.1 L731.0 701.7 L732.0 700.0 L733.0 698.1 L734.0 695.8 L735.0 693.2 L736.0 690.1 L737.0 686.6 L738.0 682.7 L739.0 678.2 L740.0 673.2 L741.0 667.7 L742.0 661.9 L743.0 655.7 L744.0 649.3 L745.0 642.7 L746.0 636.0 L747.0 629.3 L748.0 622.7 L749.0 616.2 L750.0 609.9 L751.0 603.7 L752.0 597.7 L753.0 591.9 L754.0 586.4 L755.0 581.0 L756.0 575.8 L757.0 570.9 L758.0 566.2 L759.0 561.8 L760.0 557.6 L761.0 553.7 L762.0 550.1 L763.0 546.7 L764.0 543.7 L765.0 540.9 L766.0 538.4 L767.0 536.2 L768.0 534.1 L769.0 532.3 L770.0 530.7 L771.0 529.3 L772.0 528.1 L773.0 527.0 L774.0 526.0 L775.0 525.2 L776.0 524.5 L777.0 523.9 L778.0 523.4 L779.0 523.0 L780.0 522.8 L781.0 522.6 L782.0 522.6 L783.0 522.7 L784.0 522.8 L785.0 523.1 L786.0 523.3 L787.0 523.6 L788.0 523.9 L789.0 524.1 L790.0 524.2 L791.0 524.2 L792.0 524.0 L793.0 523.7 L794.0 523.1 L795.0 522.3 L796.0 521.2 L797.0 519.9 L798.0 518.4 L799.0 516.7 L800.0 514.8 L801.0 512.9 L802.0 510.8 L803.0 508.7 L804.0 506.5 L805.0 504.3 L806.0 502.1 L807.0 499.9 L808.0 497.7 L809.0 495.5 L810.0 493.3 L811.0 491.0 L812.0 488.6 L813.0 486.2 L814.0 483.6 L815.0 480.9 L816.0 478.0 L817.0 474.9 L818.0 471.6 L819.0 468.1 L820.0 464.6 L821.0 461.0 L822.0 457.6 L823.0 454.2 L824.0 451.1 L825.0 448.2 L826.0 445.7 L827.0 443.6 L828.0 441.8 L829.0 440.2 L830.0 439.0 L831.0 437.9 L832.0 437.1 L833.0 436.5 L834.0 436.0 L835.0 435.6 L836.0 435.3 L837.0 435.1 L838.0 434.9 L839.0 434.8 L840.0 434.7 L841.0 434.7 L842.0 434.8 L843.0 434.9 L844.0 435.0 L845.0 435.3 L846.0 435.6 L847.0 435.9 L848.0 436.4 L849.0 436.9 L850.0 437.5 L851.0 438.1 L852.0 438.6 L853.0 439.0 L854.0 439.2 L855.0 439.3 L856.0 439.1 L857.0 438.6 L858.0 437.8 L859.0 436.7 L860.0 435.3 L861.0 433.7 L862.0 431.8 L863.0 429.7 L864.0 427.4 L865.0 425.0 L866.0 422.4 L867.0 419.7 L868.0 417.0 L869.0 414.1 L870.0 411.2 L871.0 408.3 L872.0 405.4 L873.0 402.5 L874.0 399.7 L875.0 396.9 L876.0 394.3 L877.0 391.7 L878.0 389.3 L879.0 387.1 L880.0 385.0 L881.0 383.1 L882.0 381.5 L883.0 380.0 L884.0 378.7 L885.0 377.6 L886.0 376.7 L887.0 375.9 L888.0 375.3 L889.0 374.8 L890.0 374.4 L891.0 374.2 L892.0 374.1 L893.0 374.0 L894.0 374.1 L895.0 374.3 L896.0 374.5 L897.0 374.8 L898.0 375.2 L899.0 375.6 L900.0 376.1 L901.0 376.6 L902.0 377.2 L903.0 377.8 L904.0 378.4 L905.0 379.1 L906.0 379.8 L907.0 380.6 L908.0 381.3 L909.0 382.1 L910.0 382.9 L911.0 383.7 L912.0 384.6 L913.0 385.4 L914.0 386.3 L915.0 387.1 L916.0 387.9 L917.0 388.6 L918.0 389.3 L919.0 389.8 L920.0 390.2 L921.0 390.5 L922.0 390.7 L923.0 390.7 L924.0 390.4 L925.0 390.0 L926.0 389.3 L927.0 388.5 L928.0 387.4 L929.0 386.2 L930.0 384.9 L931.0 383.4 L932.0 381.8 L933.0 380.2 L934.0 378.5 L935.0 376.8 L936.0 375.0 L937.0 373.3 L938.0 371.7 L939.0 370.1 L940.0 368.5 L941.0 367.0 L942.0 365.6 L943.0 364.3 L944.0 363.0 L945.0 361.8 L946.0 360.6 L947.0 359.6 L948.0 358.6 L949.0 357.8 L950.0 357.0 L951.0 356.3 L952.0 355.7 L953.0 355.3 L954.0 354.9 L955.0 354.7 L956.0 354.5 L957.0 354.5 L958.0 354.6 L959.0 354.8 L960.0 355.1 L961.0 355.5 L962.0 356.0 L963.0 356.7 L964.0 357.4 L965.0 358.3 L966.0 359.3 L967.0 360.3 L968.0 361.5 L969.0 362.8 L970.0 364.2 L971.0 365.7 L972.0 367.3 L973.0 368.9 L974.0 370.5 L975.0 372.2 L976.0 373.8 L977.0 375.4 L978.0 376.9 L979.0 378.4 L980.0 379.8 L981.0 381.0 L982.0 382.1 L983.0 383.1 L984.0 383.9 L985.0 384.5 L986.0 384.9 L987.0 385.0 L988.0 384.9 L989.0 384.6 L990.0 384.0 L991.0 383.2 L992.0 382.2 L993.0 381.0 L994.0 379.7 L995.0 378.3 L996.0 376.7 L997.0 375.1 L998.0 373.4 L999.0 371.7 L1000.0 370.0 L1001.0 368.3 L1002.0 366.6 L1003.0 364.8 L1004.0 363.2 L1005.0 361.5 L1006.0 359.9 L1007.0 358.3 L1008.0 356.8 L1009.0 355.4 L1010.0 354.0 L1011.0 352.6 L1012.0 351.4 L1013.0 350.2 L1014.0 349.1 L1015.0 348.1 L1016.0 347.2 L1017.0 346.5 L1018.0 345.8 L1019.0 345.3 L1020.0 344.8 L1021.0 344.6 L1022.0 344.4 L1023.0 344.4 L1024.0 344.6 L1025.0 344.8 L1026.0 345.2 L1027.0 345.7 L1028.0 346.3 L1029.0 347.0 L1030.0 347.7 L1031.0 348.5 L1032.0 349.3 L1033.0 350.2 L1034.0 351.0 L1035.0 351.9 L1036.0 352.7 L1037.0 353.5 L1038.0 354.3 L1039.0 355.0 L1040.0 355.7 L1041.0 356.3 L1042.0 356.7 L1043.0 357.1 L1044.0 357.4 L1045.0 357.5 L1046.0 357.5 L1047.0 357.3 L1048.0 356.9 L1049.0 356.4 L1050.0 355.8 L1051.0 355.0 L1052.0 354.1 L1053.0 353.1 L1054.0 352.0 L1055.0 350.8 L1056.0 349.4 L1057.0 348.0 L1058.0 346.6 L1059.0 345.0 L1060.0 343.5 L1061.0 341.8 L1062.0 340.1 L1063.0 338.4 L1064.0 336.7 L1065.0 335.0 L1066.0 333.2 L1067.0 331.5 L1068.0 329.7 L1069.0 328.0 L1070.0 326.3 L1071.0 324.7 L1072.0 323.1 L1073.0 321.5 L1074.0 320.1 L1075.0 318.7 L1076.0 317.3 L1077.0 316.1 L1078.0 315.0 L1079.0 313.9 L1080.0 313.0 L1081.0 312.2 L1082.0 311.6 L1083.0 311.0 L1084.0 310.7 L1085.0 310.5 L1086.0 310.4 L1087.0 310.5 L1088.0 310.8 L1089.0 311.1 L1090.0 311.6 L1091.0 312.3 L1092.0 313.0 L1093.0 313.7 L1094.0 314.6 L1095.0 315.5 L1096.0 316.5 L1097.0 317.6 L1098.0 318.6 L1099.0 319.7 L1100.0 320.8 L1101.0 321.9 L1102.0 323.0 L1103.0 324.1 L1104.0 325.1 L1105.0 326.1 L1106.0 327.1 L1107.0 328.0 L1108.0 328.8 L1109.0 329.5 L1110.0 330.1 L1111.0 330.6 L1112.0 331.0 L1113.0 331.3 L1114.0 331.4 L1115.0 331.4 L1116.0 331.2 L1117.0 330.9 L1118.0 330.4 L1119.0 329.8 L1120.0 329.1 L1121.0 328.2 L1122.0 327.3 L1123.0 326.2 L1124.0 325.1 L1125.0 323.9 L1126.0 322.6 L1127.0 321.3 L1128.0 319.9 L1129.0 318.5 L1130.0 317.1 L1131.0 315.7 L1132.0 314.2 L1133.0 312.8 L1134.0 311.4 L1135.0 310.0 L1136.0 308.6 L1137.0 307.3 L1138.0 306.1 L1139.0 304.9 L1140.0 303.8 L1141.0 302.8 L1142.0 301.9 L1143.0 301.1 L1144.0 300.4 L1145.0 299.8 L1146.0 299.4 L1147.0 299.1 L1148.0 299.0 L1149.0 299.0 L1150.0 299.3 L1151.0 299.6 L1152.0 300.2 L1153.0 300.8 L1154.0 301.6 L1155.0 302.5 L1156.0 303.6 L1157.0 304.7 L1158.0 305.9 L1159.0 307.2 L1160.0 308.5 L1161.0 309.9 L1162.0 311.4 L1163.0 312.8 L1164.0 314.3 L1165.0 315.9 L1166.0 317.4 L1167.0 318.9 L1168.0 320.4 L1169.0 321.8 L1170.0 323.2 L1171.0 324.6 L1172.0 325.9 L1173.0 327.2 L1174.0 328.3 L1175.0 329.4 L1176.0 330.3 L1177.0 331.2 L1178.0 331.9 L1179.0 332.5 L1180.0 332.9 L1181.0 333.2 L1182.0 333.3 L1183.0 333.2 L1184.0 333.0 L1185.0 332.7 L1186.0 332.2 L1187.0 331.5 L1188.0 330.8 L1189.0 329.9 L1190.0 329.0 L1191.0 328.0 L1192.0 326.9 L1193.0 325.8 L1194.0 324.6 L1195.0 323.4 L1196.0 322.2 L1197.0 321.0 L1198.0 319.8 L1199.0 318.6 L1200.0 317.4 L1201.0 316.3 L1202.0 315.3 L1203.0 314.3 L1204.0 313.4 L1205.0 312.6 L1206.0 311.9 L1207.0 311.4 L1208.0 310.9 L1209.0 310.6 L1210.0 310.5 L1211.0 310.5 L1212.0 310.7 L1213.0 311.1 L1214.0 311.6 L1215.0 312.2 L1216.0 313.0 L1217.0 313.9 L1218.0 314.9 L1219.0 316.0 L1220.0 317.2 L1221.0 318.4 L1222.0 319.7 L1223.0 321.1 L1224.0 322.5 L1225.0 323.9 L1226.0 325.4 L1227.0 326.8 L1228.0 328.3 L1229.0 329.8 L1230.0 331.2 L1231.0 332.6 L1232.0 333.9 L1233.0 335.2 L1234.0 336.5 L1235.0 337.6 L1236.0 338.7 L1237.0 339.7 L1238.0 340.6 L1239.0 341.3 L1240.0 341.9 L1241.0 342.4 L1242.0 342.7 L1243.0 342.9 L1244.0 342.9 L1245.0 342.8 L1246.0 342.5 L1247.0 342.0 L1248.0 341.4 L1249.0 340.7 L1250.0 339.9 L1251.0 339.1 L1252.0 338.1 L1253.0 337.0 L1254.0 335.9 L1255.0 334.7 L1256.0 333.4 L1257.0 332.2 L1258.0 330.9 L1259.0 329.5 L1260.0 328.2 L1261.0 326.9 L1262.0 325.6 L1263.0 324.3 L1264.0 323.0 L1265.0 321.8 L1266.0 320.6 L1267.0 319.5 L1268.0 318.5 L1269.0 317.6 L1270.0 316.7 L1271.0 316.0 L1272.0 315.4 L1273.0 314.9 L1274.0 314.5 L1275.0 314.3 L1276.0 314.2 L1277.0 314.3 L1278.0 314.5 L1279.0 315.0 L1280.0 315.6 L1281.0 316.3 L1282.0 317.2 L1283.0 318.1 L1284.0 319.2 L1285.0 320.4 L1286.0 321.7 L1287.0 323.1 L1288.0 324.5 L1289.0 326.0 L1290.0 327.6 L1291.0 329.2 L1292.0 330.8 L1293.0 332.4 L1294.0 334.0 L1295.0 335.6 L1296.0 337.2 L1297.0 338.8 L1298.0 340.3 L1299.0 341.8 L1300.0 343.2 L1301.0 344.5 L1302.0 345.8 L1303.0 346.9 L1304.0 348.0 L1305.0 348.9 L1306.0 349.7 L1307.0 350.4 L1308.0 350.9 L1309.0 351.3 L1310.0 351.5 L1311.0 351.5 L1312.0 351.4 L1313.0 351.1 L1314.0 350.6 L1315.0 350.1 L1316.0 349.4 L1317.0 348.6 L1318.0 347.7 L1319.0 346.7 L1320.0 345.6 L1321.0 344.4 L1322.0 343.2 L1323.0 341.9 L1324.0 340.5 L1325.0 339.1 L1326.0 337.7 L1327.0 336.3 L1328.0 334.9 L1329.0 333.4 L1330.0 332.0 L1331.0 330.6 L1332.0 329.2 L1333.0 327.9 L1334.0 326.5 L1335.0 325.3 L1336.0 324.1 L1337.0 323.0 L1338.0 322.0 L1339.0 321.1 L1340.0 320.3 L1341.0 319.5 L1342.0 319.0 L1343.0 318.5 L1344.0 318.2 L1345.0 318.0 L1346.0 318.0 L1347.0 318.2 L1348.0 318.5 L1349.0 318.9 L1350.0 319.5 L1351.0 320.2 L1352.0 321.0 L1353.0 321.9 L1354.0 322.9 L1355.0 323.9 L1356.0 325.0 L1357.0 326.1 L1358.0 327.3 L1359.0 328.5 L1360.0 329.7 L1361.0 330.9 L1362.0 332.1 L1363.0 333.3 L1364.0 334.4 L1365.0 335.5 L1366.0 336.5 L1367.0 337.4 L1368.0 338.3 L1369.0 339.1 L1370.0 339.7 L1371.0 340.2 L1372.0 340.6 L1373.0 340.9 L1374.0 341.0 L1375.0 340.9 L1376.0 340.7 L1377.0 340.3 L1378.0 339.8 L1379.0 339.1 L1380.0 338.3 L1381.0 337.4 L1382.0 336.4 L1383.0 335.3 L1384.0 334.1 L1385.0 332.8 L1386.0 331.4 L1387.0 330.0 L1388.0 328.6 L1389.0 327.1 L1390.0 325.5 L1391.0 324.0 L1392.0 322.4 L1393.0 320.8 L1394.0 319.3 L1395.0 317.7 L1396.0 316.2 L1397.0 314.7 L1398.0 313.3 L1399.0 311.9 L1400.0 310.5 L1401.0 309.3 L1402.0 308.1 L1403.0 307.0 L1404.0 306.1 L1405.0 305.2 L1406.0 304.5 L1407.0 303.9 L1408.0 303.4 L1409.0 303.1 L1410.0 302.9 L1411.0 302.9 L1412.0 303.1 L1413.0 303.4 L1414.0 303.9 L1415.0 304.5 L1416.0 305.3 L1417.0 306.1 L1418.0 307.0 L1419.0 308.1 L1420.0 309.2 L1421.0 310.4 L1422.0 311.6 L1423.0 312.9 L1424.0 314.2 L1425.0 315.5 L1426.0 316.9 L1427.0 318.2 L1428.0 319.5 L1429.0 320.8 L1430.0 322.1 L1431.0 323.3 L1432.0 324.5 L1433.0 325.6 L1434.0 326.6 L1435.0 327.5 L1436.0 328.4 L1437.0 329.1 L1438.0 329.6 L1439.0 330.1 L1440.0 330.4 L1441.0 330.5 L1442.0 330.5 L1443.0 330.3 L1444.0 329.9 L1445.0 329.4 L1446.0 328.7 L1447.0 327.9 L1448.0 326.9 L1449.0 325.9 L1450.0 324.7 L1451.0 323.5 L1452.0 322.2 L1453.0 320.8 L1454.0 319.4 L1455.0 317.9 L1456.0 316.4 L1457.0 314.9 L1458.0 313.4 L1459.0 311.9 L1460.0 310.4 L1461.0 308.9 L1462.0 307.5 L1463.0 306.1 L1464.0 304.8 L1465.0 303.6 L1466.0 302.5 L1467.0 301.5 L1468.0 300.6 L1469.0 299.8 L1470.0 299.1 L1471.0 298.6 L1472.0 298.3 L1473.0 298.1 L1474.0 298.1 L1475.0 298.3 L1476.0 298.7 L1477.0 299.2 L1478.0 299.9 L1479.0 300.7 L1480.0 301.6 L1481.0 302.7 L1482.0 303.8 L1483.0 305.0 L1484.0 306.3 L1485.0 307.7 L1486.0 309.1 L1487.0 310.6 L1488.0 312.1 L1489.0 313.6 L1490.0 315.1 L1491.0 316.7 L1492.0 318.2 L1493.0 319.7 L1494.0 321.1 L1495.0 322.5 L1496.0 323.9 L1497.0 325.2 L1498.0 326.3 L1499.0 327.4 L1500.0 328.4 L1501.0 329.3 L1502.0 330.1 L1503.0 330.7 L1504.0 331.1 L1505.0 331.4 L1506.0 331.6 L1507.0 331.6 L1508.0 331.4 L1509.0 331.1 L1510.0 330.6 L1511.0 330.0 L1512.0 329.4 L1513.0 328.6 L1514.0 327.7 L1515.0 326.8 L1516.0 325.8 L1517.0 324.7 L1518.0 323.6 L1519.0 322.4 L1520.0 321.2 L1521.0 320.0 L1522.0 318.8 L1523.0 317.5 L1524.0 316.3 L1525.0 315.1 L1526.0 313.9 L1527.0 312.8 L1528.0 311.7 L1529.0 310.7 L1530.0 309.7 L1531.0 308.8 L1532.0 308.0 L1533.0 307.3 L1534.0 306.7 L1535.0 306.3 L1536.0 305.9 L1537.0 305.7 L1538.0 305.6 L1539.0 305.7 L1540.0 305.9 L1541.0 306.3 L1542.0 306.7 L1543.0 307.3 L1544.0 307.9 L1545.0 308.7 L1546.0 309.5 L1547.0 310.4 L1548.0 311.4 L1549.0 312.5 L1550.0 313.6 L1551.0 314.7 L1552.0 315.9 L1553.0 317.1 L1554.0 318.3 L1555.0 319.6 L1556.0 320.8 L1557.0 322.1 L1558.0 323.3 L1559.0 324.5 L1560.0 325.7 L1561.0 326.9 L1562.0 328.0 L1563.0 329.1 L1564.0 330.1 L1565.0 331.0 L1566.0 331.9 L1567.0 332.7 L1568.0 333.4 L1569.0 334.0 L1570.0 334.4 L1571.0 334.8 L1572.0 335.1 L1573.0 335.2 L1574.0 335.2 L1575.0 335.0 L1576.0 334.8 L1577.0 334.4 L1578.0 333.9 L1579.0 333.3 L1580.0 332.6 L1581.0 331.8 L1582.0 331.0 L1583.0 330.1 L1584.0 329.1 L1585.0 328.2 L1586.0 327.1 L1587.0 326.1 L1588.0 325.0 L1589.0 323.9 L1590.0 322.8 L1591.0 321.8 L1592.0 320.7 L1593.0 319.7 L1594.0 318.7 L1595.0 317.8 L1596.0 316.9 L1597.0 316.1 L1598.0 315.3 L1599.0 314.7 L1600.0 314.1 L1601.0 313.6 L1602.0 313.3 L1603.0 313.0 L1604.0 312.9 L1605.0 312.9 L1606.0 312.9 L1607.0 313.1 L1608.0 313.4 L1609.0 313.7 L1610.0 314.2 L1611.0 314.7 L1612.0 315.3 L1613.0 315.9 L1614.0 316.6 L1615.0 317.4 L1616.0 318.2 L1617.0 319.1 L1618.0 320.0 L1619.0 321.0 L1620.0 322.0 L1621.0 323.0 L1622.0 324.0 L1623.0 325.1 L1624.0 326.1 L1625.0 327.2 L1626.0 328.3 L1627.0 329.4 L1628.0 330.5 L1629.0 331.5 L1630.0 332.6 L1631.0 333.6 L1632.0 334.6 L1633.0 335.6 L1634.0 336.6 L1635.0 337.5 L1636.0 338.3 L1637.0 339.1 L1638.0 339.9 L1639.0 340.6 L1640.0 341.2 L1641.0 341.8 L1642.0 342.2 L1643.0 342.6 L1644.0 343.0 L1645.0 343.2 L1646.0 343.3 L1647.0 343.4 L1648.0 343.4 L1649.0 343.3 L1650.0 343.1 L1651.0 342.9 L1652.0 342.6 L1653.0 342.3 L1654.0 341.9 L1655.0 341.4 L1656.0 340.9 L1657.0 340.3 L1658.0 339.7 L1659.0 339.1 L1660.0 338.4 L1661.0 337.6 L1662.0 336.9 L1663.0 336.1 L1664.0 335.3 L1665.0 334.4 L1666.0 333.6 L1667.0 332.7 L1668.0 331.8 L1669.0 330.9 L1670.0 330.0 L1671.0 329.1 L1672.0 328.2 L1673.0 327.3 L1674.0 326.4 L1675.0 325.5 L1676.0 324.7 L1677.0 323.8 L1678.0 323.0 L1679.0 322.2 L1680.0 321.4 L1681.0 320.6 L1682.0 319.9 L1683.0 319.2 L1684.0 318.5 L1685.0 317.8 L1686.0 317.1 L1687.0 316.5 L1688.0 315.9 L1689.0 315.3 L1690.0 314.7 L1691.0 314.2 L1692.0 313.7 L1693.0 313.1 L1694.0 312.7 L1695.0 312.2 L1696.0 311.8 L1697.0 311.3 L1698.0 310.9 L1699.0 310.5 L1700.0 310.2 L1701.0 309.8 L1702.0 309.5 L1703.0 309.2 L1704.0 308.9 L1705.0 308.6 L1706.0 308.3 L1707.0 308.1 L1708.0 307.9 L1709.0 307.7 L1710.0 307.5 L1711.0 307.3 L1712.0 307.2 L1713.0 307.0 L1714.0 306.9 L1715.0 306.8 L1716.0 306.7 L1717.0 306.6 L1718.0 306.6 L1719.0 306.5 L1720.0 306.5 L1721.0 306.5 L1722.0 306.5 L1723.0 306.5 L1724.0 306.5 L1725.0 306.5 L1726.0 306.5 L1727.0 306.5 L1728.0 306.5 L1729.0 306.5 L1730.0 306.5 L1731.0 306.5 L1732.0 306.5 L1733.0 306.5 L1734.0 306.4 L1735.0 306.4 L1736.0 306.4 L1737.0 306.3 L1738.0 306.2 L1739.0 306.2 L1740.0 306.1 L1741.0 305.9 L1742.0 305.8 L1743.0 305.6 L1744.0 305.5 L1745.0 305.2 L1746.0 305.0 L1747.0 304.8 L1748.0 304.5 L1749.0 304.1 L1750.0 303.8 L1751.0 303.4 L1752.0 303.0 L1753.0 302.5 L1754.0 302.1 L1755.0 301.5 L1756.0 301.0 L1757.0 300.4 L1758.0 299.8 L1759.0 299.1 L1760.0 298.5 L1761.0 297.8 L1762.0 297.2 L1763.0 296.5 L1764.0 295.9 L1765.0 295.3 L1766.0 294.7 L1767.0 294.1 L1768.0 293.6 L1769.0 293.1 L1770.0 292.6 L1771.0 292.2 L1772.0 291.8 L1773.0 291.5 L1774.0 291.3 L1775.0 291.2 L1776.0 291.1 L1777.0 291.1 L1778.0 291.2 L1779.0 291.4 L1780.0 291.7 L1781.0 292.1 L1782.0 292.6 L1783.0 293.1 L1784.0 293.8 L1785.0 294.5 L1786.0 295.3 L1787.0 296.2 L1788.0 297.1 L1789.0 298.1 L1790.0 299.2 L1791.0 300.3 L1792.0 301.4 L1793.0 302.6 L1794.0 303.8 L1795.0 305.1 L1796.0 306.4 L1797.0 307.7 L1798.0 309.0 L1799.0 310.4 L1800.0 311.7 L1801.0 313.1 L1802.0 314.4 L1803.0 315.8 L1804.0 317.1 L1805.0 318.5 L1806.0 319.8 L1807.0 321.1 L1808.0 322.4 L1809.0 323.7 L1810.0 324.9 L1811.0 326.1 L1812.0 327.3 L1813.0 328.5 L1814.0 329.6 L1815.0 330.6 L1816.0 331.7 L1817.0 332.7 L1818.0 333.6 L1819.0 334.5 L1820.0 335.3 L1821.0 336.1 L1822.0 336.8 L1823.0 337.4 L1824.0 338.0 L1825.0 338.5 L1826.0 338.9 L1827.0 339.3 L1828.0 339.6 L1829.0 339.8 L1830.0 340.0 L1831.0 340.1 L1832.0 340.2 L1833.0 340.3 L1834.0 340.2 L1835.0 340.2 L1836.0 340.1 L1837.0 340.0 L1838.0 339.9 L1839.0 339.7 L1840.0 339.6 L1841.0 339.4 L1842.0 339.2 L1843.0 339.0 L1844.0 338.8 L1845.0 338.6 L1846.0 338.4 L1847.0 338.2 L1848.0 338.1 L1849.0 337.9 L1850.0 337.8 L1851.0 337.7 L1852.0 337.7 L1853.0 337.7 L1854.0 337.7 L1855.0 337.7 L1856.0 337.9 L1857.0 338.0 L1858.0 338.2 L1859.0 338.4 L1860.0 338.6 L1861.0 338.8 L1862.0 339.1 L1863.0 339.4 L1864.0 339.6 L1865.0 339.9 L1866.0 340.2 L1867.0 340.4 L1868.0 340.7 L1869.0 340.9 L1870.0 341.1 L1871.0 341.3 L1872.0 341.4 L1873.0 341.6 L1874.0 341.6 L1875.0 341.6 L1876.0 341.6 L1877.0 341.5 L1878.0 341.4 L1879.0 341.2 L1880.0 340.9 L1881.0 340.6 L1882.0 340.2 L1883.0 339.7 L1884.0 339.2 L1885.0 338.6 L1886.0 338.0 L1887.0 337.3 L1888.0 336.5 L1889.0 335.8 L1890.0 334.9 L1891.0 334.1 L1892.0 333.2 L1893.0 332.2 L1894.0 331.2 L1895.0 330.2 L1896.0 329.2 L1897.0 328.2 L1898.0 327.1 L1899.0 326.0 L1900.0 324.9 L1901.0 323.8 L1902.0 322.7 L1903.0 321.6 L1904.0 320.4 L1905.0 319.3 L1906.0 318.2 L1907.0 317.1 L1908.0 316.0 L1909.0 314.9 L1910.0 313.8 L1911.0 312.7 L1912.0 311.7 L1913.0 310.6 L1914.0 309.6 L1915.0 308.7 L1916.0 307.7 L1917.0 306.8 L1918.0 306.0 L1919.0 305.1 L1920.0 304.3 L1921.0 303.6 L1922.0 302.9 L1923.0 302.3 L1924.0 301.7 L1925.0 301.1 L1926.0 300.7 L1927.0 300.3 L1928.0 299.9 L1929.0 299.6 L1930.0 299.4 L1931.0 299.2 L1932.0 299.0 L1933.0 298.9 L1934.0 298.8 L1935.0 298.8 L1936.0 298.8 L1937.0 298.8 L1938.0 298.9 L1939.0 299.0 L1940.0 299.1 L1941.0 299.3 L1942.0 299.5 L1943.0 299.7 L1944.0 299.9 L1945.0 300.1 L1946.0 300.4 L1947.0 300.6 L1948.0 300.9 L1949.0 301.2 L1950.0 301.5 L1951.0 301.8 L1952.0 302.0 L1953.0 302.3 L1954.0 302.6 L1955.0 302.9 L1956.0 303.1 L1957.0 303.4 L1958.0 303.6 L1959.0 303.8 L1960.0 304.0 L1961.0 304.2 L1962.0 304.4 L1963.0 304.6 L1964.0 304.8 L1965.0 304.9 L1966.0 305.1 L1967.0 305.2 L1968.0 305.3 L1969.0 305.4 L1970.0 305.5 L1971.0 305.6 L1972.0 305.7 L1973.0 305.8 L1974.0 305.9 L1975.0 306.0 L1976.0 306.0 L1977.0 306.1 L1978.0 306.2 L1979.0 306.2 L1980.0 306.3 L1981.0 306.3 L1982.0 306.4 L1983.0 306.4 L1984.0 306.5 L1985.0 306.5 L1986.0 306.6 L1987.0 306.6 L1988.0 306.7 L1989.0 306.8 L1990.0 306.8 L1991.0 306.9 L1992.0 306.9 L1993.0 307.0 L1994.0 307.1 L1995.0 307.2 L1996.0 307.2 L1997.0 307.3 L1998.0 307.4 L1999.0 307.5 L2000.0 307.6 L2001.0 307.6 L2002.0 307.7 L2003.0 307.8 L2004.0 307.9 L2005.0 308.0 L2006.0 308.1 L2007.0 308.1 L2008.0 308.2 L2009.0 308.3 L2010.0 308.4 L2011.0 308.4 L2012.0 308.5 L2013.0 308.5 L2014.0 308.6 L2015.0 308.6 L2016.0 308.7 L2017.0 308.7 L2018.0 308.8 L2019.0 308.8 L2020.0 308.8 L2021.0 308.8 L2022.0 308.8 L2023.0 308.8 L2024.0 308.8 L2025.0 308.8 L2026.0 308.7 L2027.0 308.7 L2028.0 308.6 L2029.0 308.6 L2030.0 308.5 L2031.0 308.4 L2032.0 308.3 L2033.0 308.2 L2034.0 308.1 L2035.0 307.9 L2036.0 307.8 L2037.0 307.6 L2038.0 307.5 L2039.0 307.3 L2040.0 307.1 L2041.0 306.8 L2042.0 306.6 L2043.0 306.3 L2044.0 306.1 L2045.0 305.8 L2046.0 305.5 L2047.0 305.2 L2048.0 304.8 L2049.0 304.5 L2050.0 304.1 L2051.0 303.7 L2052.0 303.3 L2053.0 302.8 L2054.0 302.4 L2055.0 302.0 L2056.0 301.5 L2057.0 301.0 L2058.0 300.5 L2059.0 300.0 L2060.0 299.5 L2061.0 299.0 L2062.0 298.5 L2063.0 298.0 L2064.0 297.4 L2065.0 296.9 L2066.0 296.4 L2067.0 295.8 L2068.0 295.3 L2069.0 294.8 L2070.0 294.2 L2071.0 293.7 L2072.0 293.2 L2073.0 292.6 L2074.0 292.1 L2075.0 291.6 L2076.0 291.1 L2077.0 290.6 L2078.0 290.1 L2079.0 289.7 L2080.0 289.2 L2081.0 288.8 L2082.0 288.3 L2083.0 287.9 L2084.0 287.5 L2085.0 287.1 L2086.0 286.7 L2087.0 286.4 L2088.0 286.0 L2089.0 285.7 L2090.0 285.4 L2091.0 285.2 L2092.0 284.9 L2093.0 284.7 L2094.0 284.5 L2095.0 284.4 L2096.0 284.2 L2097.0 284.1 L2098.0 284.0 L2099.0 284.0 L2100.0 284.0 L2101.0 284.0 L2102.0 284.0 L2103.0 284.1 L2104.0 284.2 L2105.0 284.4 L2106.0 284.6 L2107.0 284.8 L2108.0 285.1 L2109.0 285.4 L2110.0 285.8 L2111.0 286.2 L2112.0 286.6 L2113.0 287.0 L2114.0 287.5 L2115.0 288.1 L2116.0 288.6 L2117.0 289.2 L2118.0 289.8 L2119.0 290.4 L2120.0 291.1 L2121.0 291.8 L2122.0 292.5 L2123.0 293.2 L2124.0 293.9 L2125.0 294.6 L2126.0 295.4 L2127.0 296.2 L2128.0 296.9 L2129.0 297.7 L2130.0 298.5 L2131.0 299.3 L2132.0 300.1 L2133.0 300.9 L2134.0 301.7 L2135.0 302.5 L2136.0 303.3 L2137.0 304.1 L2138.0 304.9 L2139.0 305.6 L2140.0 306.4 L2141.0 307.1 L2142.0 307.9 L2143.0 308.6 L2144.0 309.3 L2145.0 310.0 L2146.0 310.7 L2147.0 311.3 L2148.0 311.9 L2149.0 312.5 L2150.0 313.1 L2151.0 313.6 L2152.0 314.2 L2153.0 314.6 L2154.0 315.1 L2155.0 315.5 L2156.0 315.9 L2157.0 316.2 L2158.0 316.5 L2159.0 316.8 L2160.0 317.0 L2161.0 317.2 L2162.0 317.3 L2163.0 317.4 L2164.0 317.4 L2165.0 317.4 L2166.0 317.4 L2167.0 317.3 L2168.0 317.2 L2169.0 317.1 L2170.0 316.9 L2171.0 316.7 L2172.0 316.5 L2173.0 316.3 L2174.0 316.0 L2175.0 315.8 L2176.0 315.5 L2177.0 315.2 L2178.0 314.9 L2179.0 314.5 L2180.0 314.2 L2181.0 313.8 L2182.0 313.5 L2183.0 313.1 L2184.0 312.8 L2185.0 312.5 L2186.0 312.1 L2187.0 311.8 L2188.0 311.4 L2189.0 311.1 L2190.0 310.8 L2191.0 310.5 L2192.0 310.2 L2193.0 310.0 L2194.0 309.7 L2195.0 309.5 L2196.0 309.3 L2197.0 309.1 L2198.0 309.0 L2199.0 308.9 L2200.0 308.8 L2201.0 308.7 L2202.0 308.6 L2203.0 308.6 L2204.0 308.6 L2205.0 308.7 L2206.0 308.7 L2207.0 308.8 L2208.0 308.9 L2209.0 309.0 L2210.0 309.1 L2211.0 309.2 L2212.0 309.4 L2213.0 309.6 L2214.0 309.8 L2215.0 310.0 L2216.0 310.2 L2217.0 310.4 L2218.0 310.7 L2219.0 310.9 L2220.0 311.2 L2221.0 311.5 L2222.0 311.8 L2223.0 312.0 L2224.0 312.3 L2225.0 312.7 L2226.0 313.0 L2227.0 313.3 L2228.0 313.6 L2229.0 313.9 L2230.0 314.2 L2231.0 314.6 L2232.0 314.9 L2233.0 315.2 L2234.0 315.5 L2235.0 315.9 L2236.0 316.2 L2237.0 316.5 L2238.0 316.8 L2239.0 317.1 L2240.0 317.4 L2241.0 317.7 L2242.0 318.0 L2243.0 318.3 L2244.0 318.5 L2245.0 318.8 L2246.0 319.1 L2247.0 319.3 L2248.0 319.5 L2249.0 319.7 L2250.0 319.9 L2251.0 320.1 L2252.0 320.3 L2253.0 320.4 L2254.0 320.6 L2255.0 320.7 L2256.0 320.8 L2257.0 320.9 L2258.0 320.9 L2259.0 321.0 L2260.0 321.0 L2261.0 321.0 L2262.0 321.0 L2263.0 321.0 L2264.0 321.0 L2265.0 321.0 L2266.0 320.9 L2267.0 320.8 L2268.0 320.8 L2269.0 320.7 L2270.0 320.6 L2271.0 320.5 L2272.0 320.4 L2273.0 320.3 L2274.0 320.2 L2275.0 320.0 L2276.0 319.9 L2277.0 319.7 L2278.0 319.6 L2279.0 319.4 L2280.0 319.3 L2281.0 319.1 L2282.0 319.0 L2283.0 318.8 L2284.0 318.6 L2285.0 318.5 L2286.0 318.3" fill="none" stroke="#FF0000" stroke-width="7.7" stroke-linejoin="round" stroke-linecap="butt"/>
<path d="M229.0 1606.0 L230.0 1607.6 L231.0 1609.3 L232.0 1611.0 L233.0 1612.8 L234.0 1614.6 L235.0 1616.4 L236.0 1618.3 L237.0 1620.1 L238.0 1622.0 L239.0 1623.7 L240.0 1625.4 L241.0 1627.0 L242.0 1628.4 L243.0 1629.8 L244.0 1630.9 L245.0 1631.9 L246.0 1632.7 L247.0 1633.2 L248.0 1633.6 L249.0 1633.6 L250.0 1633.4 L251.0 1632.9 L252.0 1632.1 L253.0 1631.1 L254.0 1629.9 L255.0 1628.6 L256.0 1627.0 L257.0 1625.3 L258.0 1623.4 L259.0 1621.5 L260.0 1619.4 L261.0 1617.3 L262.0 1615.1 L263.0 1612.9 L264.0 1610.6 L265.0 1608.3 L266.0 1606.1 L267.0 1603.9 L268.0 1601.7 L269.0 1599.6 L270.0 1597.6 L271.0 1595.8 L272.0 1594.0 L273.0 1592.4 L274.0 1591.0 L275.0 1589.7 L276.0 1588.7 L277.0 1587.9 L278.0 1587.3 L279.0 1587.0 L280.0 1587.0 L281.0 1587.2 L282.0 1587.7 L283.0 1588.4 L284.0 1589.3 L285.0 1590.4 L286.0 1591.7 L287.0 1593.2 L288.0 1594.8 L289.0 1596.5 L290.0 1598.3 L291.0 1600.3 L292.0 1602.3 L293.0 1604.3 L294.0 1606.4 L295.0 1608.6 L296.0 1610.7 L297.0 1612.8 L298.0 1614.9 L299.0 1617.0 L300.0 1619.0 L301.0 1620.9 L302.0 1622.7 L303.0 1624.4 L304.0 1626.0 L305.0 1627.5 L306.0 1628.7 L307.0 1629.8 L308.0 1630.7 L309.0 1631.4 L310.0 1631.8 L311.0 1632.0 L312.0 1632.0 L313.0 1631.7 L314.0 1631.2 L315.0 1630.6 L316.0 1629.7 L317.0 1628.7 L318.0 1627.6 L319.0 1626.3 L320.0 1624.9 L321.0 1623.4 L322.0 1621.8 L323.0 1620.2 L324.0 1618.5 L325.0 1616.7 L326.0 1614.9 L327.0 1613.1 L328.0 1611.3 L329.0 1609.5 L330.0 1607.8 L331.0 1606.1 L332.0 1604.4 L333.0 1602.9 L334.0 1601.4 L335.0 1600.0 L336.0 1598.7 L337.0 1597.6 L338.0 1596.6 L339.0 1595.8 L340.0 1595.2 L341.0 1594.7 L342.0 1594.5 L343.0 1594.4 L344.0 1594.6 L345.0 1595.0 L346.0 1595.5 L347.0 1596.2 L348.0 1597.0 L349.0 1598.0 L350.0 1599.1 L351.0 1600.3 L352.0 1601.5 L353.0 1602.9 L354.0 1604.3 L355.0 1605.7 L356.0 1607.2 L357.0 1608.7 L358.0 1610.2 L359.0 1611.6 L360.0 1613.1 L361.0 1614.5 L362.0 1615.8 L363.0 1617.1 L364.0 1618.3 L365.0 1619.3 L366.0 1620.3 L367.0 1621.1 L368.0 1621.8 L369.0 1622.3 L370.0 1622.7 L371.0 1622.9 L372.0 1622.9 L373.0 1622.7 L374.0 1622.4 L375.0 1621.9 L376.0 1621.3 L377.0 1620.6 L378.0 1619.8 L379.0 1618.9 L380.0 1617.9 L381.0 1616.9 L382.0 1615.8 L383.0 1614.6 L384.0 1613.4 L385.0 1612.2 L386.0 1611.0 L387.0 1609.8 L388.0 1608.6 L389.0 1607.5 L390.0 1606.4 L391.0 1605.3 L392.0 1604.3 L393.0 1603.4 L394.0 1602.5 L395.0 1601.8 L396.0 1601.2 L397.0 1600.6 L398.0 1600.3 L399.0 1600.1 L400.0 1600.0 L401.0 1600.1 L402.0 1600.4 L403.0 1600.8 L404.0 1601.3 L405.0 1602.0 L406.0 1602.8 L407.0 1603.6 L408.0 1604.6 L409.0 1605.6 L410.0 1606.7 L411.0 1607.8 L412.0 1608.9 L413.0 1610.0 L414.0 1611.2 L415.0 1612.3 L416.0 1613.4 L417.0 1614.5 L418.0 1615.5 L419.0 1616.5 L420.0 1617.4 L421.0 1618.1 L422.0 1618.8 L423.0 1619.4 L424.0 1619.8 L425.0 1620.1 L426.0 1620.3 L427.0 1620.3 L428.0 1620.1 L429.0 1619.7 L430.0 1619.2 L431.0 1618.5 L432.0 1617.7 L433.0 1616.6 L434.0 1615.4 L435.0 1614.0 L436.0 1612.3 L437.0 1610.5 L438.0 1608.5 L439.0 1606.4 L440.0 1604.2 L441.0 1601.9 L442.0 1599.7 L443.0 1597.4 L444.0 1595.2 L445.0 1593.1 L446.0 1591.1 L447.0 1589.3 L448.0 1587.7 L449.0 1586.3 L450.0 1585.0 L451.0 1583.9 L452.0 1582.9 L453.0 1581.9 L454.0 1581.0 L455.0 1580.1 L456.0 1579.2 L457.0 1578.3 L458.0 1577.4 L459.0 1576.4 L460.0 1575.4 L461.0 1574.4 L462.0 1573.4 L463.0 1572.4 L464.0 1571.4 L465.0 1570.4 L466.0 1569.4 L467.0 1568.3 L468.0 1567.0 L469.0 1565.4 L470.0 1563.3 L471.0 1560.6 L472.0 1557.3 L473.0 1553.1 L474.0 1548.4 L475.0 1543.1 L476.0 1537.5 L477.0 1531.8 L478.0 1525.8 L479.0 1519.6 L480.0 1512.9 L481.0 1505.8 L482.0 1498.2 L483.0 1490.5 L484.0 1482.9 L485.0 1475.6 L486.0 1468.5 L487.0 1461.2 L488.0 1452.8 L489.0 1442.8 L490.0 1431.1 L491.0 1418.1 L492.0 1404.3 L493.0 1390.0 L494.0 1375.6 L495.0 1361.5 L496.0 1348.0 L497.0 1335.3 L498.0 1323.7 L499.0 1313.5 L500.0 1304.9 L501.0 1297.4 L502.0 1290.9 L503.0 1285.1 L504.0 1279.6 L505.0 1274.1 L506.0 1268.3 L507.0 1262.0 L508.0 1254.8 L509.0 1246.5 L510.0 1237.0 L511.0 1226.5 L512.0 1215.4 L513.0 1203.9 L514.0 1192.3 L515.0 1180.9 L516.0 1170.0 L517.0 1159.8 L518.0 1150.3 L519.0 1141.3 L520.0 1132.8 L521.0 1124.7 L522.0 1117.0 L523.0 1109.4 L524.0 1101.9 L525.0 1094.5 L526.0 1087.0 L527.0 1079.3 L528.0 1071.4 L529.0 1063.3 L530.0 1054.8 L531.0 1046.2 L532.0 1037.3 L533.0 1028.3 L534.0 1019.1 L535.0 1009.8 L536.0 1000.3 L537.0 990.7 L538.0 981.1 L539.0 971.4 L540.0 961.7 L541.0 951.9 L542.0 942.2 L543.0 932.5 L544.0 922.9 L545.0 913.4 L546.0 904.0 L547.0 894.8 L548.0 885.8 L549.0 877.0 L550.0 868.5 L551.0 860.2 L552.0 852.3 L553.0 844.7 L554.0 837.4 L555.0 830.1 L556.0 822.7 L557.0 815.1 L558.0 807.0 L559.0 798.4 L560.0 789.0 L561.0 778.7 L562.0 767.6 L563.0 755.7 L564.0 743.2 L565.0 730.1 L566.0 716.4 L567.0 702.4 L568.0 688.0 L569.0 673.3 L570.0 658.5 L571.0 643.6 L572.0 628.7 L573.0 613.9 L574.0 599.2 L575.0 584.9 L576.0 570.8 L577.0 557.2 L578.0 544.2 L579.0 531.7 L580.0 520.0 L581.0 509.0 L582.0 498.8 L583.0 489.2 L584.0 480.3 L585.0 472.0 L586.0 464.1 L587.0 456.7 L588.0 449.7 L589.0 443.1 L590.0 436.7 L591.0 430.6 L592.0 424.7 L593.0 418.9 L594.0 413.4 L595.0 408.1 L596.0 403.3 L597.0 398.8 L598.0 394.7 L599.0 391.2 L600.0 388.2 L601.0 385.7 L602.0 383.6 L603.0 381.9 L604.0 380.7 L605.0 379.9 L606.0 379.4 L607.0 379.3 L608.0 379.5 L609.0 380.0 L610.0 380.9 L611.0 381.9 L612.0 383.2 L613.0 384.8 L614.0 386.5 L615.0 388.4 L616.0 390.5 L617.0 392.7 L618.0 395.0 L619.0 397.4 L620.0 399.8 L621.0 402.4 L622.0 405.0 L623.0 407.8 L624.0 410.6 L625.0 413.6 L626.0 416.7 L627.0 419.9 L628.0 423.3 L629.0 426.8 L630.0 430.5 L631.0 434.3 L632.0 438.3 L633.0 442.4 L634.0 446.8 L635.0 451.3 L636.0 456.0 L637.0 460.8 L638.0 465.8 L639.0 471.0 L640.0 476.2 L641.0 481.7 L642.0 487.2 L643.0 492.9 L644.0 498.7 L645.0 504.7 L646.0 510.7 L647.0 516.8 L648.0 523.0 L649.0 529.3 L650.0 535.7 L651.0 542.1 L652.0 548.5 L653.0 554.9 L654.0 561.4 L655.0 567.9 L656.0 574.3 L657.0 580.7 L658.0 587.0 L659.0 593.2 L660.0 599.3 L661.0 605.3 L662.0 611.2 L663.0 616.8 L664.0 622.3 L665.0 627.6 L666.0 632.8 L667.0 637.8 L668.0 642.6 L669.0 647.2 L670.0 651.6 L671.0 655.9 L672.0 660.0 L673.0 663.9 L674.0 667.7 L675.0 671.2 L676.0 674.6 L677.0 677.8 L678.0 680.8 L679.0 683.7 L680.0 686.3 L681.0 688.8 L682.0 691.1 L683.0 693.3 L684.0 695.3 L685.0 697.1 L686.0 698.7 L687.0 700.3 L688.0 701.7 L689.0 703.0 L690.0 704.1 L691.0 705.2 L692.0 706.2 L693.0 707.2 L694.0 708.0 L695.0 708.9 L696.0 709.6 L697.0 710.3 L698.0 711.0 L699.0 711.6 L700.0 712.1 L701.0 712.6 L702.0 713.0 L703.0 713.4 L704.0 713.7 L705.0 714.0 L706.0 714.2 L707.0 714.3 L708.0 714.4 L709.0 714.5 L710.0 714.5 L711.0 714.4 L712.0 714.3 L713.0 714.1 L714.0 713.9 L715.0 713.6 L716.0 713.2 L717.0 712.8 L718.0 712.2 L719.0 711.6 L720.0 710.9 L721.0 710.2 L722.0 709.3 L723.0 708.3 L724.0 707.3 L725.0 706.1 L726.0 704.9 L727.0 703.5 L728.0 701.9 L729.0 700.3 L730.0 698.4 L731.0 696.2 L732.0 693.9 L733.0 691.2 L734.0 688.3 L735.0 685.0 L736.0 681.4 L737.0 677.4 L738.0 673.0 L739.0 668.3 L740.0 663.3 L741.0 658.2 L742.0 652.9 L743.0 647.6 L744.0 642.4 L745.0 637.2 L746.0 632.2 L747.0 627.4 L748.0 622.9 L749.0 618.5 L750.0 614.3 L751.0 610.3 L752.0 606.4 L753.0 602.6 L754.0 598.9 L755.0 595.3 L756.0 591.8 L757.0 588.3 L758.0 584.9 L759.0 581.5 L760.0 578.1 L761.0 574.8 L762.0 571.5 L763.0 568.4 L764.0 565.3 L765.0 562.4 L766.0 559.6 L767.0 556.9 L768.0 554.4 L769.0 552.0 L770.0 549.8 L771.0 547.8 L772.0 545.8 L773.0 544.0 L774.0 542.3 L775.0 540.7 L776.0 539.2 L777.0 537.7 L778.0 536.2 L779.0 534.8 L780.0 533.4 L781.0 531.9 L782.0 530.5 L783.0 529.0 L784.0 527.4 L785.0 525.8 L786.0 524.1 L787.0 522.4 L788.0 520.5 L789.0 518.6 L790.0 516.6 L791.0 514.6 L792.0 512.5 L793.0 510.4 L794.0 508.3 L795.0 506.1 L796.0 504.0 L797.0 501.9 L798.0 499.8 L799.0 497.7 L800.0 495.6 L801.0 493.5 L802.0 491.5 L803.0 489.5 L804.0 487.5 L805.0 485.6 L806.0 483.6 L807.0 481.7 L808.0 479.9 L809.0 478.0 L810.0 476.2 L811.0 474.5 L812.0 472.8 L813.0 471.1 L814.0 469.6 L815.0 468.1 L816.0 466.7 L817.0 465.4 L818.0 464.1 L819.0 463.0 L820.0 462.0 L821.0 461.1 L822.0 460.3 L823.0 459.6 L824.0 459.0 L825.0 458.4 L826.0 457.9 L827.0 457.4 L828.0 457.0 L829.0 456.5 L830.0 456.1 L831.0 455.7 L832.0 455.2 L833.0 454.7 L834.0 454.2 L835.0 453.7 L836.0 453.1 L837.0 452.5 L838.0 451.9 L839.0 451.3 L840.0 450.6 L841.0 449.9 L842.0 449.1 L843.0 448.3 L844.0 447.5 L845.0 446.7 L846.0 445.7 L847.0 444.8 L848.0 443.8 L849.0 442.8 L850.0 441.7 L851.0 440.6 L852.0 439.4 L853.0 438.2 L854.0 437.0 L855.0 435.7 L856.0 434.3 L857.0 432.9 L858.0 431.4 L859.0 429.7 L860.0 428.0 L861.0 426.1 L862.0 424.1 L863.0 421.9 L864.0 419.5 L865.0 417.0 L866.0 414.3 L867.0 411.4 L868.0 408.5 L869.0 405.6 L870.0 402.7 L871.0 400.0 L872.0 397.4 L873.0 395.1 L874.0 393.1 L875.0 391.5 L876.0 390.3 L877.0 389.5 L878.0 389.0 L879.0 388.8 L880.0 388.8 L881.0 388.9 L882.0 389.1 L883.0 389.4 L884.0 389.7 L885.0 390.1 L886.0 390.4 L887.0 390.9 L888.0 391.3 L889.0 391.7 L890.0 392.1 L891.0 392.6 L892.0 393.0 L893.0 393.4 L894.0 393.8 L895.0 394.1 L896.0 394.4 L897.0 394.7 L898.0 394.8 L899.0 395.0 L900.0 395.0 L901.0 395.0 L902.0 394.9 L903.0 394.8 L904.0 394.5 L905.0 394.2 L906.0 393.8 L907.0 393.3 L908.0 392.7 L909.0 392.0 L910.0 391.3 L911.0 390.4 L912.0 389.5 L913.0 388.5 L914.0 387.4 L915.0 386.2 L916.0 384.9 L917.0 383.6 L918.0 382.2 L919.0 380.8 L920.0 379.4 L921.0 378.0 L922.0 376.6 L923.0 375.2 L924.0 373.8 L925.0 372.5 L926.0 371.2 L927.0 370.0 L928.0 368.9 L929.0 367.8 L930.0 366.7 L931.0 365.8 L932.0 364.9 L933.0 364.1 L934.0 363.4 L935.0 362.7 L936.0 362.2 L937.0 361.8 L938.0 361.4 L939.0 361.1 L940.0 361.0 L941.0 361.0 L942.0 361.0 L943.0 361.2 L944.0 361.5 L945.0 361.8 L946.0 362.3 L947.0 362.8 L948.0 363.5 L949.0 364.2 L950.0 365.0 L951.0 365.9 L952.0 366.8 L953.0 367.8 L954.0 368.9 L955.0 369.9 L956.0 370.9 L957.0 372.0 L958.0 373.0 L959.0 373.9 L960.0 374.8 L961.0 375.5 L962.0 376.2 L963.0 376.8 L964.0 377.2 L965.0 377.5 L966.0 377.6 L967.0 377.6 L968.0 377.4 L969.0 377.1 L970.0 376.6 L971.0 376.1 L972.0 375.5 L973.0 374.8 L974.0 374.0 L975.0 373.1 L976.0 372.2 L977.0 371.3 L978.0 370.4 L979.0 369.4 L980.0 368.4 L981.0 367.5 L982.0 366.6 L983.0 365.7 L984.0 364.8 L985.0 364.0 L986.0 363.3 L987.0 362.5 L988.0 361.8 L989.0 361.2 L990.0 360.6 L991.0 360.1 L992.0 359.6 L993.0 359.2 L994.0 358.9 L995.0 358.6 L996.0 358.4 L997.0 358.3 L998.0 358.3 L999.0 358.3 L1000.0 358.5 L1001.0 358.7 L1002.0 358.9 L1003.0 359.3 L1004.0 359.7 L1005.0 360.1 L1006.0 360.6 L1007.0 361.1 L1008.0 361.6 L1009.0 362.1 L1010.0 362.7 L1011.0 363.2 L1012.0 363.7 L1013.0 364.2 L1014.0 364.7 L1015.0 365.2 L1016.0 365.6 L1017.0 365.9 L1018.0 366.2 L1019.0 366.5 L1020.0 366.6 L1021.0 366.7 L1022.0 366.7 L1023.0 366.6 L1024.0 366.4 L1025.0 366.1 L1026.0 365.7 L1027.0 365.2 L1028.0 364.6 L1029.0 363.8 L1030.0 363.0 L1031.0 362.1 L1032.0 361.2 L1033.0 360.1 L1034.0 359.0 L1035.0 357.9 L1036.0 356.7 L1037.0 355.4 L1038.0 354.1 L1039.0 352.8 L1040.0 351.4 L1041.0 350.0 L1042.0 348.7 L1043.0 347.2 L1044.0 345.8 L1045.0 344.4 L1046.0 343.0 L1047.0 341.6 L1048.0 340.3 L1049.0 338.9 L1050.0 337.6 L1051.0 336.4 L1052.0 335.1 L1053.0 334.0 L1054.0 332.8 L1055.0 331.8 L1056.0 330.8 L1057.0 329.9 L1058.0 329.0 L1059.0 328.3 L1060.0 327.6 L1061.0 327.1 L1062.0 326.6 L1063.0 326.3 L1064.0 326.0 L1065.0 325.9 L1066.0 325.8 L1067.0 325.9 L1068.0 326.0 L1069.0 326.1 L1070.0 326.3 L1071.0 326.6 L1072.0 326.9 L1073.0 327.2 L1074.0 327.6 L1075.0 328.0 L1076.0 328.3 L1077.0 328.7 L1078.0 329.0 L1079.0 329.4 L1080.0 329.7 L1081.0 330.0 L1082.0 330.2 L1083.0 330.4 L1084.0 330.5 L1085.0 330.5 L1086.0 330.5 L1087.0 330.4 L1088.0 330.2 L1089.0 329.9 L1090.0 329.6 L1091.0 329.3 L1092.0 328.8 L1093.0 328.4 L1094.0 327.8 L1095.0 327.3 L1096.0 326.7 L1097.0 326.1 L1098.0 325.4 L1099.0 324.7 L1100.0 324.0 L1101.0 323.3 L1102.0 322.6 L1103.0 321.8 L1104.0 321.0 L1105.0 320.3 L1106.0 319.5 L1107.0 318.8 L1108.0 318.0 L1109.0 317.3 L1110.0 316.6 L1111.0 315.9 L1112.0 315.2 L1113.0 314.5 L1114.0 313.9 L1115.0 313.4 L1116.0 312.8 L1117.0 312.3 L1118.0 311.9 L1119.0 311.5 L1120.0 311.1 L1121.0 310.9 L1122.0 310.6 L1123.0 310.5 L1124.0 310.4 L1125.0 310.4 L1126.0 310.4 L1127.0 310.5 L1128.0 310.7 L1129.0 310.9 L1130.0 311.1 L1131.0 311.4 L1132.0 311.7 L1133.0 312.0 L1134.0 312.3 L1135.0 312.7 L1136.0 313.1 L1137.0 313.4 L1138.0 313.8 L1139.0 314.2 L1140.0 314.5 L1141.0 314.9 L1142.0 315.2 L1143.0 315.5 L1144.0 315.8 L1145.0 316.1 L1146.0 316.3 L1147.0 316.4 L1148.0 316.5 L1149.0 316.6 L1150.0 316.7 L1151.0 316.7 L1152.0 316.7 L1153.0 316.7 L1154.0 316.6 L1155.0 316.5 L1156.0 316.4 L1157.0 316.3 L1158.0 316.2 L1159.0 316.0 L1160.0 315.9 L1161.0 315.7 L1162.0 315.5 L1163.0 315.4 L1164.0 315.2 L1165.0 315.0 L1166.0 314.9 L1167.0 314.7 L1168.0 314.6 L1169.0 314.5 L1170.0 314.4 L1171.0 314.3 L1172.0 314.2 L1173.0 314.1 L1174.0 314.1 L1175.0 314.1 L1176.0 314.1 L1177.0 314.2 L1178.0 314.3 L1179.0 314.4 L1180.0 314.6 L1181.0 314.8 L1182.0 315.0 L1183.0 315.3 L1184.0 315.6 L1185.0 315.9 L1186.0 316.3 L1187.0 316.7 L1188.0 317.0 L1189.0 317.5 L1190.0 317.9 L1191.0 318.3 L1192.0 318.8 L1193.0 319.3 L1194.0 319.7 L1195.0 320.2 L1196.0 320.7 L1197.0 321.2 L1198.0 321.7 L1199.0 322.3 L1200.0 322.8 L1201.0 323.3 L1202.0 323.8 L1203.0 324.3 L1204.0 324.8 L1205.0 325.2 L1206.0 325.7 L1207.0 326.2 L1208.0 326.6 L1209.0 327.1 L1210.0 327.5 L1211.0 327.9 L1212.0 328.2 L1213.0 328.6 L1214.0 328.9 L1215.0 329.2 L1216.0 329.5 L1217.0 329.7 L1218.0 329.9 L1219.0 330.1 L1220.0 330.2 L1221.0 330.3 L1222.0 330.4 L1223.0 330.5 L1224.0 330.6 L1225.0 330.6 L1226.0 330.6 L1227.0 330.6 L1228.0 330.5 L1229.0 330.5 L1230.0 330.4 L1231.0 330.3 L1232.0 330.2 L1233.0 330.1 L1234.0 329.9 L1235.0 329.8 L1236.0 329.6 L1237.0 329.5 L1238.0 329.3 L1239.0 329.1 L1240.0 328.9 L1241.0 328.7 L1242.0 328.5 L1243.0 328.3 L1244.0 328.1 L1245.0 327.9 L1246.0 327.7 L1247.0 327.4 L1248.0 327.2 L1249.0 327.0 L1250.0 326.8 L1251.0 326.6 L1252.0 326.4 L1253.0 326.2 L1254.0 326.0 L1255.0 325.8 L1256.0 325.7 L1257.0 325.5 L1258.0 325.3 L1259.0 325.2 L1260.0 325.1 L1261.0 324.9 L1262.0 324.8 L1263.0 324.8 L1264.0 324.7 L1265.0 324.6 L1266.0 324.6 L1267.0 324.6 L1268.0 324.6 L1269.0 324.6 L1270.0 324.6 L1271.0 324.7 L1272.0 324.8 L1273.0 324.9 L1274.0 325.0 L1275.0 325.2 L1276.0 325.4 L1277.0 325.6 L1278.0 325.8 L1279.0 326.1 L1280.0 326.4 L1281.0 326.7 L1282.0 327.1 L1283.0 327.5 L1284.0 327.9 L1285.0 328.3 L1286.0 328.8 L1287.0 329.3 L1288.0 329.8 L1289.0 330.3 L1290.0 330.8 L1291.0 331.4 L1292.0 331.9 L1293.0 332.5 L1294.0 333.0 L1295.0 333.6 L1296.0 334.2 L1297.0 334.7 L1298.0 335.3 L1299.0 335.8 L1300.0 336.4 L1301.0 336.9 L1302.0 337.4 L1303.0 337.9 L1304.0 338.4 L1305.0 338.9 L1306.0 339.3 L1307.0 339.7 L1308.0 340.1 L1309.0 340.5 L1310.0 340.8 L1311.0 341.1 L1312.0 341.3 L1313.0 341.5 L1314.0 341.7 L1315.0 341.8 L1316.0 341.9 L1317.0 341.9 L1318.0 341.9 L1319.0 341.8 L1320.0 341.7 L1321.0 341.5 L1322.0 341.3 L1323.0 341.0 L1324.0 340.6 L1325.0 340.2 L1326.0 339.7 L1327.0 339.2 L1328.0 338.6 L1329.0 338.0 L1330.0 337.3 L1331.0 336.6 L1332.0 335.9 L1333.0 335.2 L1334.0 334.5 L1335.0 333.7 L1336.0 332.9 L1337.0 332.2 L1338.0 331.4 L1339.0 330.7 L1340.0 330.0 L1341.0 329.2 L1342.0 328.5 L1343.0 327.9 L1344.0 327.2 L1345.0 326.7 L1346.0 326.1 L1347.0 325.6 L1348.0 325.1 L1349.0 324.7 L1350.0 324.4 L1351.0 324.1 L1352.0 323.9 L1353.0 323.8 L1354.0 323.8 L1355.0 323.8 L1356.0 323.9 L1357.0 324.1 L1358.0 324.3 L1359.0 324.6 L1360.0 325.0 L1361.0 325.3 L1362.0 325.7 L1363.0 326.2 L1364.0 326.6 L1365.0 327.1 L1366.0 327.6 L1367.0 328.1 L1368.0 328.6 L1369.0 329.1 L1370.0 329.6 L1371.0 330.0 L1372.0 330.4 L1373.0 330.8 L1374.0 331.2 L1375.0 331.5 L1376.0 331.8 L1377.0 332.0 L1378.0 332.1 L1379.0 332.2 L1380.0 332.2 L1381.0 332.1 L1382.0 331.9 L1383.0 331.7 L1384.0 331.3 L1385.0 330.9 L1386.0 330.3 L1387.0 329.7 L1388.0 328.9 L1389.0 328.1 L1390.0 327.3 L1391.0 326.4 L1392.0 325.4 L1393.0 324.4 L1394.0 323.4 L1395.0 322.3 L1396.0 321.2 L1397.0 320.1 L1398.0 319.1 L1399.0 318.0 L1400.0 316.9 L1401.0 315.8 L1402.0 314.8 L1403.0 313.8 L1404.0 312.9 L1405.0 312.0 L1406.0 311.2 L1407.0 310.4 L1408.0 309.7 L1409.0 309.1 L1410.0 308.6 L1411.0 308.2 L1412.0 307.9 L1413.0 307.7 L1414.0 307.6 L1415.0 307.7 L1416.0 307.8 L1417.0 308.1 L1418.0 308.5 L1419.0 309.0 L1420.0 309.6 L1421.0 310.3 L1422.0 311.0 L1423.0 311.8 L1424.0 312.7 L1425.0 313.5 L1426.0 314.5 L1427.0 315.4 L1428.0 316.4 L1429.0 317.4 L1430.0 318.4 L1431.0 319.3 L1432.0 320.3 L1433.0 321.2 L1434.0 322.0 L1435.0 322.9 L1436.0 323.6 L1437.0 324.4 L1438.0 325.0 L1439.0 325.5 L1440.0 326.0 L1441.0 326.3 L1442.0 326.6 L1443.0 326.7 L1444.0 326.7 L1445.0 326.6 L1446.0 326.3 L1447.0 326.0 L1448.0 325.6 L1449.0 325.0 L1450.0 324.4 L1451.0 323.7 L1452.0 323.0 L1453.0 322.2 L1454.0 321.3 L1455.0 320.4 L1456.0 319.4 L1457.0 318.5 L1458.0 317.4 L1459.0 316.4 L1460.0 315.4 L1461.0 314.4 L1462.0 313.3 L1463.0 312.3 L1464.0 311.3 L1465.0 310.4 L1466.0 309.4 L1467.0 308.6 L1468.0 307.7 L1469.0 307.0 L1470.0 306.3 L1471.0 305.6 L1472.0 305.1 L1473.0 304.6 L1474.0 304.2 L1475.0 304.0 L1476.0 303.8 L1477.0 303.8 L1478.0 303.9 L1479.0 304.0 L1480.0 304.3 L1481.0 304.7 L1482.0 305.2 L1483.0 305.7 L1484.0 306.3 L1485.0 307.0 L1486.0 307.7 L1487.0 308.5 L1488.0 309.3 L1489.0 310.2 L1490.0 311.1 L1491.0 312.0 L1492.0 313.0 L1493.0 313.9 L1494.0 314.9 L1495.0 315.8 L1496.0 316.8 L1497.0 317.7 L1498.0 318.6 L1499.0 319.5 L1500.0 320.3 L1501.0 321.1 L1502.0 321.8 L1503.0 322.5 L1504.0 323.1 L1505.0 323.6 L1506.0 324.1 L1507.0 324.4 L1508.0 324.7 L1509.0 324.9 L1510.0 324.9 L1511.0 324.9 L1512.0 324.8 L1513.0 324.6 L1514.0 324.3 L1515.0 324.0 L1516.0 323.5 L1517.0 323.1 L1518.0 322.6 L1519.0 322.0 L1520.0 321.4 L1521.0 320.8 L1522.0 320.1 L1523.0 319.4 L1524.0 318.7 L1525.0 318.0 L1526.0 317.4 L1527.0 316.7 L1528.0 316.0 L1529.0 315.4 L1530.0 314.7 L1531.0 314.1 L1532.0 313.6 L1533.0 313.1 L1534.0 312.6 L1535.0 312.2 L1536.0 311.9 L1537.0 311.7 L1538.0 311.5 L1539.0 311.4 L1540.0 311.4 L1541.0 311.5 L1542.0 311.7 L1543.0 311.9 L1544.0 312.2 L1545.0 312.6 L1546.0 313.0 L1547.0 313.5 L1548.0 314.1 L1549.0 314.7 L1550.0 315.3 L1551.0 316.0 L1552.0 316.7 L1553.0 317.5 L1554.0 318.2 L1555.0 319.0 L1556.0 319.8 L1557.0 320.6 L1558.0 321.4 L1559.0 322.2 L1560.0 323.0 L1561.0 323.7 L1562.0 324.5 L1563.0 325.2 L1564.0 325.9 L1565.0 326.6 L1566.0 327.3 L1567.0 327.8 L1568.0 328.4 L1569.0 328.9 L1570.0 329.3 L1571.0 329.7 L1572.0 330.0 L1573.0 330.3 L1574.0 330.4 L1575.0 330.5 L1576.0 330.5 L1577.0 330.4 L1578.0 330.2 L1579.0 330.0 L1580.0 329.7 L1581.0 329.3 L1582.0 328.9 L1583.0 328.5 L1584.0 328.0 L1585.0 327.4 L1586.0 326.9 L1587.0 326.3 L1588.0 325.7 L1589.0 325.1 L1590.0 324.4 L1591.0 323.8 L1592.0 323.2 L1593.0 322.6 L1594.0 322.1 L1595.0 321.5 L1596.0 321.0 L1597.0 320.5 L1598.0 320.1 L1599.0 319.7 L1600.0 319.4 L1601.0 319.2 L1602.0 319.0 L1603.0 318.9 L1604.0 318.8 L1605.0 318.9 L1606.0 319.0 L1607.0 319.1 L1608.0 319.3 L1609.0 319.6 L1610.0 319.9 L1611.0 320.3 L1612.0 320.7 L1613.0 321.2 L1614.0 321.7 L1615.0 322.2 L1616.0 322.8 L1617.0 323.4 L1618.0 324.1 L1619.0 324.7 L1620.0 325.4 L1621.0 326.1 L1622.0 326.8 L1623.0 327.6 L1624.0 328.3 L1625.0 329.1 L1626.0 329.8 L1627.0 330.6 L1628.0 331.3 L1629.0 332.1 L1630.0 332.8 L1631.0 333.5 L1632.0 334.2 L1633.0 334.9 L1634.0 335.6 L1635.0 336.3 L1636.0 336.9 L1637.0 337.5 L1638.0 338.0 L1639.0 338.5 L1640.0 339.0 L1641.0 339.5 L1642.0 339.9 L1643.0 340.2 L1644.0 340.5 L1645.0 340.7 L1646.0 340.9 L1647.0 341.0 L1648.0 341.1 L1649.0 341.1 L1650.0 341.0 L1651.0 340.9 L1652.0 340.7 L1653.0 340.5 L1654.0 340.2 L1655.0 339.9 L1656.0 339.6 L1657.0 339.2 L1658.0 338.7 L1659.0 338.2 L1660.0 337.7 L1661.0 337.2 L1662.0 336.6 L1663.0 336.0 L1664.0 335.3 L1665.0 334.7 L1666.0 334.0 L1667.0 333.3 L1668.0 332.5 L1669.0 331.8 L1670.0 331.1 L1671.0 330.3 L1672.0 329.5 L1673.0 328.7 L1674.0 328.0 L1675.0 327.2 L1676.0 326.4 L1677.0 325.6 L1678.0 324.8 L1679.0 324.1 L1680.0 323.3 L1681.0 322.6 L1682.0 321.8 L1683.0 321.1 L1684.0 320.4 L1685.0 319.7 L1686.0 319.1 L1687.0 318.5 L1688.0 317.9 L1689.0 317.3 L1690.0 316.7 L1691.0 316.2 L1692.0 315.7 L1693.0 315.3 L1694.0 314.8 L1695.0 314.4 L1696.0 314.0 L1697.0 313.6 L1698.0 313.2 L1699.0 312.9 L1700.0 312.5 L1701.0 312.2 L1702.0 311.9 L1703.0 311.6 L1704.0 311.4 L1705.0 311.1 L1706.0 310.9 L1707.0 310.6 L1708.0 310.4 L1709.0 310.2 L1710.0 310.0 L1711.0 309.7 L1712.0 309.5 L1713.0 309.3 L1714.0 309.1 L1715.0 309.0 L1716.0 308.8 L1717.0 308.6 L1718.0 308.4 L1719.0 308.2 L1720.0 308.0 L1721.0 307.8 L1722.0 307.5 L1723.0 307.3 L1724.0 307.1 L1725.0 306.9 L1726.0 306.6 L1727.0 306.4 L1728.0 306.1 L1729.0 305.8 L1730.0 305.6 L1731.0 305.3 L1732.0 305.0 L1733.0 304.7 L1734.0 304.4 L1735.0 304.0 L1736.0 303.7 L1737.0 303.4 L1738.0 303.0 L1739.0 302.7 L1740.0 302.4 L1741.0 302.0 L1742.0 301.7 L1743.0 301.3 L1744.0 300.9 L1745.0 300.6 L1746.0 300.2 L1747.0 299.8 L1748.0 299.5 L1749.0 299.1 L1750.0 298.7 L1751.0 298.3 L1752.0 298.0 L1753.0 297.6 L1754.0 297.2 L1755.0 296.8 L1756.0 296.5 L1757.0 296.1 L1758.0 295.7 L1759.0 295.4 L1760.0 295.0 L1761.0 294.7 L1762.0 294.4 L1763.0 294.1 L1764.0 293.7 L1765.0 293.5 L1766.0 293.2 L1767.0 292.9 L1768.0 292.7 L1769.0 292.5 L1770.0 292.3 L1771.0 292.1 L1772.0 292.0 L1773.0 291.9 L1774.0 291.8 L1775.0 291.8 L1776.0 291.8 L1777.0 291.8 L1778.0 291.9 L1779.0 292.0 L1780.0 292.2 L1781.0 292.5 L1782.0 292.7 L1783.0 293.1 L1784.0 293.5 L1785.0 294.0 L1786.0 294.5 L1787.0 295.1 L1788.0 295.8 L1789.0 296.5 L1790.0 297.3 L1791.0 298.2 L1792.0 299.2 L1793.0 300.2 L1794.0 301.2 L1795.0 302.3 L1796.0 303.4 L1797.0 304.6 L1798.0 305.8 L1799.0 307.0 L1800.0 308.3 L1801.0 309.5 L1802.0 310.8 L1803.0 312.0 L1804.0 313.3 L1805.0 314.5 L1806.0 315.8 L1807.0 317.0 L1808.0 318.2 L1809.0 319.3 L1810.0 320.4 L1811.0 321.5 L1812.0 322.5 L1813.0 323.5 L1814.0 324.4 L1815.0 325.3 L1816.0 326.1 L1817.0 326.9 L1818.0 327.7 L1819.0 328.4 L1820.0 329.1 L1821.0 329.8 L1822.0 330.4 L1823.0 331.0 L1824.0 331.6 L1825.0 332.2 L1826.0 332.8 L1827.0 333.4 L1828.0 333.9 L1829.0 334.5 L1830.0 335.0 L1831.0 335.5 L1832.0 336.1 L1833.0 336.6 L1834.0 337.1 L1835.0 337.7 L1836.0 338.2 L1837.0 338.7 L1838.0 339.1 L1839.0 339.6 L1840.0 340.1 L1841.0 340.5 L1842.0 340.9 L1843.0 341.3 L1844.0 341.7 L1845.0 342.1 L1846.0 342.4 L1847.0 342.7 L1848.0 343.0 L1849.0 343.2 L1850.0 343.5 L1851.0 343.6 L1852.0 343.8 L1853.0 343.9 L1854.0 344.0 L1855.0 344.1 L1856.0 344.1 L1857.0 344.1 L1858.0 344.0 L1859.0 344.0 L1860.0 343.9 L1861.0 343.8 L1862.0 343.6 L1863.0 343.4 L1864.0 343.2 L1865.0 342.9 L1866.0 342.7 L1867.0 342.4 L1868.0 342.0 L1869.0 341.7 L1870.0 341.3 L1871.0 340.9 L1872.0 340.4 L1873.0 339.9 L1874.0 339.4 L1875.0 338.9 L1876.0 338.3 L1877.0 337.8 L1878.0 337.1 L1879.0 336.5 L1880.0 335.9 L1881.0 335.2 L1882.0 334.5 L1883.0 333.8 L1884.0 333.0 L1885.0 332.3 L1886.0 331.5 L1887.0 330.7 L1888.0 330.0 L1889.0 329.2 L1890.0 328.4 L1891.0 327.6 L1892.0 326.8 L1893.0 326.0 L1894.0 325.2 L1895.0 324.4 L1896.0 323.6 L1897.0 322.9 L1898.0 322.1 L1899.0 321.3 L1900.0 320.6 L1901.0 319.9 L1902.0 319.2 L1903.0 318.5 L1904.0 317.8 L1905.0 317.1 L1906.0 316.4 L1907.0 315.8 L1908.0 315.2 L1909.0 314.5 L1910.0 313.9 L1911.0 313.3 L1912.0 312.7 L1913.0 312.1 L1914.0 311.6 L1915.0 311.0 L1916.0 310.4 L1917.0 309.9 L1918.0 309.3 L1919.0 308.8 L1920.0 308.3 L1921.0 307.8 L1922.0 307.2 L1923.0 306.7 L1924.0 306.2 L1925.0 305.7 L1926.0 305.2 L1927.0 304.7 L1928.0 304.2 L1929.0 303.7 L1930.0 303.3 L1931.0 302.8 L1932.0 302.3 L1933.0 301.8 L1934.0 301.3 L1935.0 300.9 L1936.0 300.5 L1937.0 300.0 L1938.0 299.6 L1939.0 299.2 L1940.0 298.8 L1941.0 298.5 L1942.0 298.2 L1943.0 297.9 L1944.0 297.6 L1945.0 297.4 L1946.0 297.2 L1947.0 297.0 L1948.0 296.9 L1949.0 296.8 L1950.0 296.7 L1951.0 296.7 L1952.0 296.7 L1953.0 296.8 L1954.0 297.0 L1955.0 297.1 L1956.0 297.4 L1957.0 297.7 L1958.0 298.0 L1959.0 298.4 L1960.0 298.9 L1961.0 299.4 L1962.0 299.9 L1963.0 300.4 L1964.0 301.0 L1965.0 301.7 L1966.0 302.3 L1967.0 302.9 L1968.0 303.6 L1969.0 304.3 L1970.0 304.9 L1971.0 305.6 L1972.0 306.2 L1973.0 306.8 L1974.0 307.5 L1975.0 308.0 L1976.0 308.6 L1977.0 309.1 L1978.0 309.6 L1979.0 310.0 L1980.0 310.4 L1981.0 310.7 L1982.0 311.0 L1983.0 311.2 L1984.0 311.4 L1985.0 311.4 L1986.0 311.4 L1987.0 311.3 L1988.0 311.2 L1989.0 311.0 L1990.0 310.7 L1991.0 310.4 L1992.0 310.1 L1993.0 309.7 L1994.0 309.2 L1995.0 308.8 L1996.0 308.3 L1997.0 307.8 L1998.0 307.3 L1999.0 306.8 L2000.0 306.3 L2001.0 305.8 L2002.0 305.3 L2003.0 304.8 L2004.0 304.3 L2005.0 303.9 L2006.0 303.5 L2007.0 303.1 L2008.0 302.8 L2009.0 302.5 L2010.0 302.2 L2011.0 302.0 L2012.0 301.9 L2013.0 301.8 L2014.0 301.8 L2015.0 301.8 L2016.0 301.8 L2017.0 301.9 L2018.0 302.0 L2019.0 302.1 L2020.0 302.3 L2021.0 302.5 L2022.0 302.8 L2023.0 303.0 L2024.0 303.3 L2025.0 303.6 L2026.0 303.9 L2027.0 304.2 L2028.0 304.5 L2029.0 304.8 L2030.0 305.2 L2031.0 305.5 L2032.0 305.9 L2033.0 306.2 L2034.0 306.5 L2035.0 306.9 L2036.0 307.2 L2037.0 307.5 L2038.0 307.7 L2039.0 308.0 L2040.0 308.3 L2041.0 308.5 L2042.0 308.7 L2043.0 308.8 L2044.0 309.0 L2045.0 309.1 L2046.0 309.1 L2047.0 309.1 L2048.0 309.1 L2049.0 309.1 L2050.0 309.0 L2051.0 308.8 L2052.0 308.6 L2053.0 308.4 L2054.0 308.1 L2055.0 307.8 L2056.0 307.5 L2057.0 307.1 L2058.0 306.7 L2059.0 306.3 L2060.0 305.8 L2061.0 305.4 L2062.0 304.9 L2063.0 304.4 L2064.0 303.8 L2065.0 303.3 L2066.0 302.7 L2067.0 302.1 L2068.0 301.5 L2069.0 300.9 L2070.0 300.3 L2071.0 299.7 L2072.0 299.1 L2073.0 298.5 L2074.0 297.9 L2075.0 297.2 L2076.0 296.6 L2077.0 296.0 L2078.0 295.4 L2079.0 294.8 L2080.0 294.3 L2081.0 293.7 L2082.0 293.2 L2083.0 292.6 L2084.0 292.1 L2085.0 291.6 L2086.0 291.2 L2087.0 290.7 L2088.0 290.3 L2089.0 289.9 L2090.0 289.6 L2091.0 289.3 L2092.0 289.0 L2093.0 288.7 L2094.0 288.5 L2095.0 288.3 L2096.0 288.2 L2097.0 288.0 L2098.0 288.0 L2099.0 287.9 L2100.0 287.9 L2101.0 287.9 L2102.0 288.0 L2103.0 288.1 L2104.0 288.2 L2105.0 288.3 L2106.0 288.5 L2107.0 288.8 L2108.0 289.1 L2109.0 289.4 L2110.0 289.7 L2111.0 290.1 L2112.0 290.5 L2113.0 291.0 L2114.0 291.5 L2115.0 292.1 L2116.0 292.6 L2117.0 293.3 L2118.0 293.9 L2119.0 294.6 L2120.0 295.3 L2121.0 296.1 L2122.0 296.9 L2123.0 297.7 L2124.0 298.5 L2125.0 299.3 L2126.0 300.2 L2127.0 301.0 L2128.0 301.9 L2129.0 302.8 L2130.0 303.7 L2131.0 304.6 L2132.0 305.5 L2133.0 306.4 L2134.0 307.3 L2135.0 308.2 L2136.0 309.1 L2137.0 309.9 L2138.0 310.8 L2139.0 311.6 L2140.0 312.5 L2141.0 313.3 L2142.0 314.1 L2143.0 314.8 L2144.0 315.6 L2145.0 316.3 L2146.0 316.9 L2147.0 317.6 L2148.0 318.2 L2149.0 318.7 L2150.0 319.3 L2151.0 319.7 L2152.0 320.2 L2153.0 320.6 L2154.0 320.9 L2155.0 321.2 L2156.0 321.4 L2157.0 321.6 L2158.0 321.7 L2159.0 321.7 L2160.0 321.7 L2161.0 321.6 L2162.0 321.5 L2163.0 321.3 L2164.0 321.1 L2165.0 320.8 L2166.0 320.5 L2167.0 320.1 L2168.0 319.7 L2169.0 319.3 L2170.0 318.8 L2171.0 318.3 L2172.0 317.8 L2173.0 317.3 L2174.0 316.7 L2175.0 316.1 L2176.0 315.5 L2177.0 314.9 L2178.0 314.3 L2179.0 313.6 L2180.0 313.0 L2181.0 312.4 L2182.0 311.8 L2183.0 311.1 L2184.0 310.5 L2185.0 309.9 L2186.0 309.3 L2187.0 308.8 L2188.0 308.2 L2189.0 307.7 L2190.0 307.2 L2191.0 306.7 L2192.0 306.3 L2193.0 305.9 L2194.0 305.5 L2195.0 305.1 L2196.0 304.9 L2197.0 304.6 L2198.0 304.4 L2199.0 304.3 L2200.0 304.2 L2201.0 304.1 L2202.0 304.1 L2203.0 304.1 L2204.0 304.2 L2205.0 304.3 L2206.0 304.4 L2207.0 304.6 L2208.0 304.8 L2209.0 305.0 L2210.0 305.3 L2211.0 305.6 L2212.0 305.9 L2213.0 306.2 L2214.0 306.5 L2215.0 306.9 L2216.0 307.3 L2217.0 307.7 L2218.0 308.1 L2219.0 308.5 L2220.0 308.9 L2221.0 309.3 L2222.0 309.8 L2223.0 310.2 L2224.0 310.6 L2225.0 311.1 L2226.0 311.5 L2227.0 311.9 L2228.0 312.4 L2229.0 312.8 L2230.0 313.2 L2231.0 313.5 L2232.0 313.9 L2233.0 314.3 L2234.0 314.6 L2235.0 315.0 L2236.0 315.3 L2237.0 315.6 L2238.0 315.8 L2239.0 316.1 L2240.0 316.4 L2241.0 316.6 L2242.0 316.8 L2243.0 317.1 L2244.0 317.3 L2245.0 317.4 L2246.0 317.6 L2247.0 317.8 L2248.0 317.9 L2249.0 318.0 L2250.0 318.2 L2251.0 318.3 L2252.0 318.3 L2253.0 318.4 L2254.0 318.5 L2255.0 318.5 L2256.0 318.6 L2257.0 318.6 L2258.0 318.6 L2259.0 318.6 L2260.0 318.6 L2261.0 318.6 L2262.0 318.5 L2263.0 318.5 L2264.0 318.4 L2265.0 318.4 L2266.0 318.3 L2267.0 318.2 L2268.0 318.1 L2269.0 318.0 L2270.0 317.8 L2271.0 317.7 L2272.0 317.5 L2273.0 317.4 L2274.0 317.2 L2275.0 317.1 L2276.0 316.9 L2277.0 316.7 L2278.0 316.5 L2279.0 316.3 L2280.0 316.1 L2281.0 315.9 L2282.0 315.7 L2283.0 315.5 L2284.0 315.3 L2285.0 315.1 L2286.0 314.9" fill="none" stroke="#000000" stroke-width="7.7" stroke-linejoin="round" stroke-linecap="butt"/>
</g>
<rect x="1657" y="1351.4" width="573.5" height="327.6" fill="#fff" stroke="#262626" stroke-width="3.8"/>
<path d="M1675 1398.0H1865" stroke="#0072BD" stroke-width="7.7"/>
<text transform="translate(1878.5 1420.0) scale(0.9675 1)" font-size="58.7" class="k">Experimental</text>
<path d="M1675 1475.6H1865" stroke="#00FF00" stroke-width="7.7"/>
<text transform="translate(1878.5 1497.7) scale(0.9675 1)" font-size="58.7" class="k">1 mode</text>
<path d="M1675 1553.3H1865" stroke="#FF0000" stroke-width="7.7"/>
<text transform="translate(1878.5 1575.6) scale(0.9675 1)" font-size="58.7" class="k">2 modes</text>
<path d="M1675 1631.0H1865" stroke="#000000" stroke-width="7.7"/>
<text transform="translate(1878.5 1653.3) scale(0.9675 1)" font-size="58.7" class="k">4 modes</text>
<text transform="translate(372.50 1816.6) scale(0.959 1)" text-anchor="middle" font-size="65.5" class="t">30</text>
<text transform="translate(599.88 1816.6) scale(0.959 1)" text-anchor="middle" font-size="65.5" class="t">40</text>
<text transform="translate(827.25 1816.6) scale(0.959 1)" text-anchor="middle" font-size="65.5" class="t">50</text>
<text transform="translate(1054.62 1816.6) scale(0.959 1)" text-anchor="middle" font-size="65.5" class="t">60</text>
<text transform="translate(1282.00 1816.6) scale(0.959 1)" text-anchor="middle" font-size="65.5" class="t">70</text>
<text transform="translate(1509.38 1816.6) scale(0.959 1)" text-anchor="middle" font-size="65.5" class="t">80</text>
<text transform="translate(1736.75 1816.6) scale(0.959 1)" text-anchor="middle" font-size="65.5" class="t">90</text>
<text transform="translate(1964.12 1816.6) scale(0.959 1)" text-anchor="middle" font-size="65.5" class="t">100</text>
<text transform="translate(2191.50 1816.6) scale(0.959 1)" text-anchor="middle" font-size="65.5" class="t">110</text>
<text transform="translate(203.6 1644.80) scale(0.959 1)" text-anchor="end" font-size="65.5" class="t">1.4</text>
<text transform="translate(203.6 1372.20) scale(0.959 1)" text-anchor="end" font-size="65.5" class="t">1.6</text>
<text transform="translate(203.6 1099.60) scale(0.959 1)" text-anchor="end" font-size="65.5" class="t">1.8</text>
<text transform="translate(203.6 827.00) scale(0.959 1)" text-anchor="end" font-size="65.5" class="t">2</text>
<text transform="translate(203.6 554.40) scale(0.959 1)" text-anchor="end" font-size="65.5" class="t">2.2</text>
<text transform="translate(203.6 281.80) scale(0.959 1)" text-anchor="end" font-size="65.5" class="t">2.4</text>
<text x="1256.2" y="1908.9" text-anchor="middle" font-size="69.9" class="t">Time (s)</text>
<text transform="translate(78.2 918.9) rotate(-90)" x="0" y="0" text-anchor="middle" font-size="69.9" class="t">Inlet Pressure (bar)</text>
<text transform="translate(1249.4 81.9) scale(0.990 1)" text-anchor="middle" font-size="69.9" font-weight="bold" class="k">Air-Water Two Phase Flow, GVF=10%</text>
</svg>
</body></html>
